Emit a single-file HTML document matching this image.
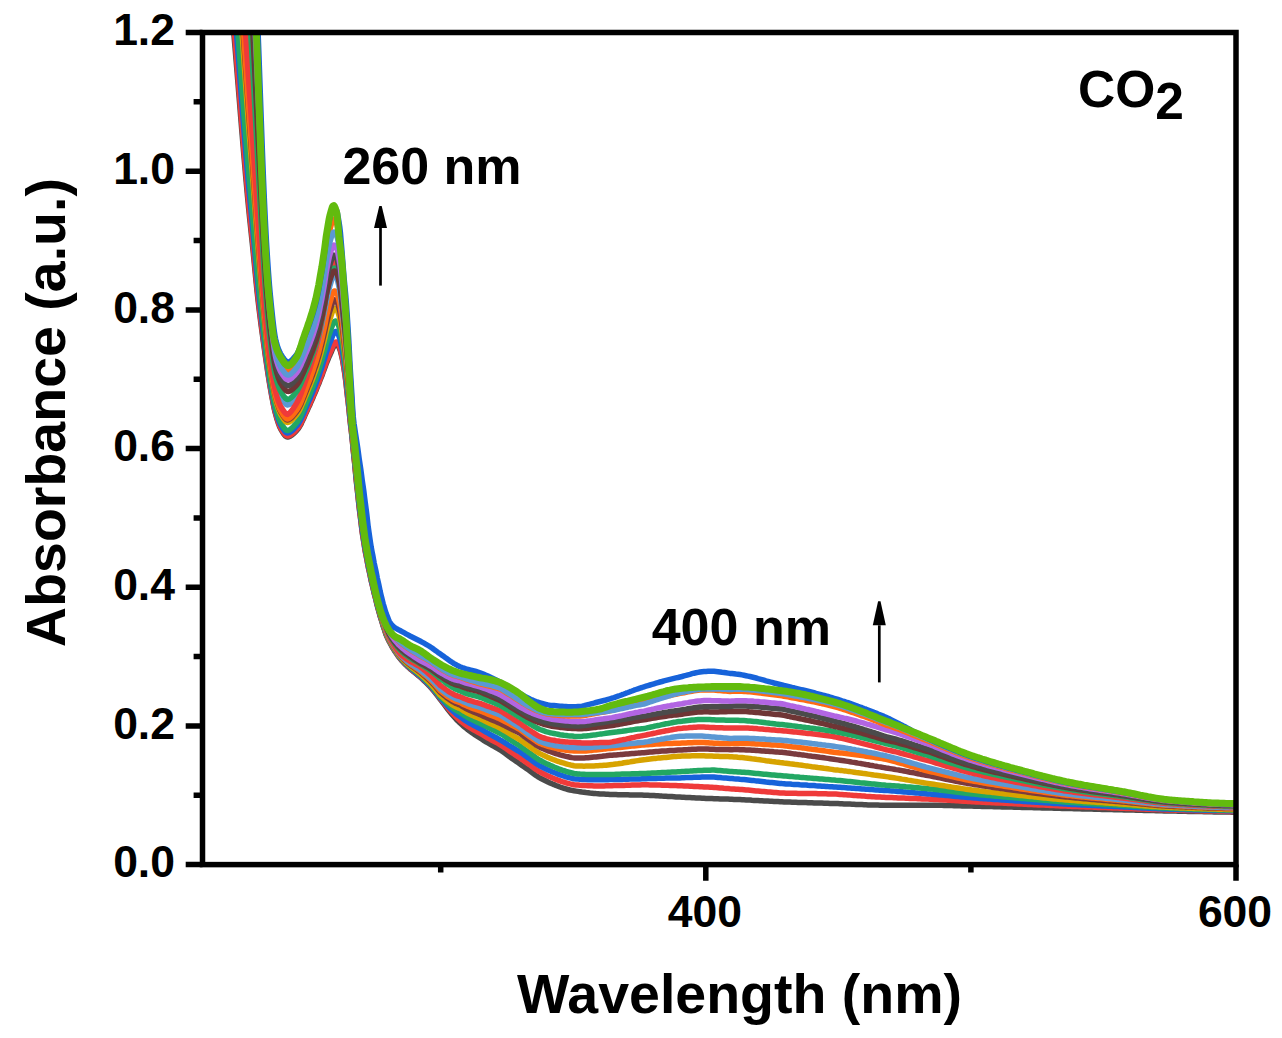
<!DOCTYPE html><html><head><meta charset="utf-8"><style>html,body{margin:0;padding:0;background:#fff;}svg{display:block;}</style></head><body><svg width="1282" height="1038" viewBox="0 0 1282 1038">
<rect width="1282" height="1038" fill="#fff"/>
<defs><clipPath id="pc"><rect x="202.5" y="32.5" width="1033.5" height="832.1"/></clipPath></defs>
<g clip-path="url(#pc)" fill="none" stroke-linejoin="round" stroke-linecap="round">
<path d="M229.5,-17.9 L230.0,-12.0 L230.5,-6.0 L231.0,-0.1 L231.5,5.8 L232.0,11.7 L232.5,17.7 L233.0,23.6 L233.5,29.5 L234.0,35.4 L234.5,41.4 L235.0,47.3 L235.5,53.4 L236.0,59.4 L236.5,65.5 L237.0,71.6 L237.5,77.7 L238.0,83.9 L238.5,90.1 L239.0,96.2 L239.5,102.4 L240.0,108.6 L240.5,114.7 L241.0,120.8 L241.5,127.0 L242.0,133.0 L242.5,139.1 L243.0,145.1 L243.5,151.1 L244.0,157.0 L244.5,162.8 L245.0,168.6 L245.5,174.4 L246.0,180.0 L246.5,185.6 L247.0,191.1 L247.5,196.5 L248.0,201.8 L248.5,207.0 L249.0,212.1 L249.5,217.0 L250.0,221.8 L250.5,226.5 L251.0,231.2 L251.5,235.9 L252.0,240.7 L252.5,245.5 L253.0,250.3 L253.5,255.4 L254.0,260.5 L254.5,265.7 L255.0,270.8 L255.5,276.0 L256.0,281.1 L256.5,286.1 L257.0,290.9 L257.5,295.5 L258.0,299.9 L258.5,304.2 L259.0,308.3 L259.5,312.5 L260.0,316.5 L260.5,320.4 L261.0,324.3 L261.5,328.1 L262.0,331.8 L262.5,335.5 L263.0,339.2 L263.5,342.8 L264.0,346.4 L264.5,349.9 L265.0,353.5 L265.5,357.0 L266.0,360.4 L266.5,363.9 L267.0,367.2 L267.5,370.6 L268.0,373.8 L268.5,377.0 L269.0,380.1 L269.5,383.2 L270.0,386.2 L270.5,389.0 L271.0,391.9 L271.5,394.7 L272.0,397.4 L272.5,400.1 L273.0,402.8 L273.5,405.3 L274.0,407.7 L274.5,409.9 L275.0,412.0 L275.5,413.8 L276.0,415.6 L276.5,417.4 L277.0,419.1 L277.5,420.7 L278.0,422.3 L278.5,423.8 L279.0,425.1 L279.5,426.4 L280.0,427.6 L280.5,428.6 L281.0,429.5 L281.5,430.3 L282.0,431.2 L282.5,432.0 L283.0,432.8 L283.5,433.6 L284.0,434.3 L284.5,434.9 L285.0,435.5 L285.5,436.0 L286.0,436.4 L286.5,436.7 L287.0,436.9 L287.5,437.0 L288.0,437.0 L288.5,436.9 L289.0,436.7 L289.5,436.5 L290.0,436.3 L290.5,436.0 L291.0,435.7 L291.5,435.3 L292.0,435.0 L292.5,434.5 L293.0,434.1 L293.5,433.7 L294.0,433.2 L294.5,432.7 L295.0,432.2 L295.5,431.7 L296.0,431.2 L296.5,430.7 L297.0,430.1 L297.5,429.6 L298.0,429.0 L298.5,428.3 L299.0,427.5 L299.5,426.7 L300.0,425.8 L300.8,424.5 L301.5,423.0 L302.2,421.4 L303.0,419.8 L303.8,418.2 L304.5,416.5 L305.2,414.8 L306.0,413.1 L306.8,411.4 L307.5,409.8 L308.2,408.2 L309.0,406.5 L309.8,404.9 L310.5,403.2 L311.2,401.5 L312.0,399.8 L312.8,398.1 L313.5,396.3 L314.2,394.5 L315.0,392.8 L315.8,391.0 L316.5,389.2 L317.2,387.3 L318.0,385.5 L318.8,383.7 L319.5,381.8 L320.2,379.9 L321.0,378.0 L321.8,376.0 L322.5,374.0 L323.2,371.9 L324.0,369.9 L324.8,367.8 L325.5,365.8 L326.2,363.8 L327.0,361.9 L327.8,360.0 L328.5,358.2 L329.2,356.5 L330.0,354.9 L330.8,353.2 L331.5,351.5 L332.2,349.7 L333.0,348.0 L333.8,346.5 L334.5,345.2 L335.2,344.3 L336.0,343.8 L336.8,343.8 L337.5,344.5 L338.2,345.8 L339.0,347.5 L339.8,349.4 L340.5,351.5 L341.2,354.3 L342.0,357.7 L342.8,361.5 L343.5,365.7 L344.2,370.2 L345.0,375.4 L345.8,381.4 L346.5,387.8 L347.2,394.3 L348.0,401.0 L348.8,408.0 L349.5,415.1 L350.2,421.9 L351.0,428.6 L351.8,435.3 L352.5,442.4 L353.2,449.7 L354.0,457.2 L354.8,464.8 L355.5,472.5 L356.2,480.0 L357.0,487.4 L357.8,494.5 L358.5,501.2 L359.2,507.8 L360.0,514.3 L360.8,520.6 L361.5,526.6 L362.2,532.3 L363.0,537.5 L363.8,542.3 L364.5,546.9 L365.2,551.2 L366.0,555.3 L366.8,559.3 L367.5,563.1 L368.2,566.8 L369.0,570.4 L369.8,574.0 L370.5,577.4 L371.2,580.9 L372.0,584.2 L372.8,587.4 L373.5,590.5 L374.2,593.6 L375.0,596.6 L375.8,599.6 L376.5,602.6 L377.2,605.5 L378.0,608.4 L378.8,611.2 L379.5,613.9 L380.2,616.5 L381.0,619.0 L381.8,621.4 L382.5,623.8 L383.2,626.1 L384.0,628.4 L384.8,630.7 L385.5,633.0 L386.2,635.0 L387.0,636.9 L387.8,638.6 L388.5,640.1 L389.2,641.5 L390.0,642.9 L390.8,644.3 L391.5,645.7 L392.2,647.0 L393.0,648.3 L393.8,649.6 L394.5,650.7 L395.2,651.9 L396.0,653.0 L396.8,654.1 L397.5,655.2 L398.2,656.2 L399.0,657.2 L399.8,658.2 L400.0,658.5 L402.0,660.9 L404.0,663.0 L406.0,665.1 L408.0,667.0 L410.0,668.8 L412.0,670.4 L414.0,672.0 L416.0,673.7 L418.0,675.3 L420.0,677.0 L422.0,678.8 L424.0,680.7 L426.0,682.6 L428.0,684.6 L430.0,686.7 L432.0,688.9 L434.0,691.3 L436.0,693.8 L438.0,696.4 L440.0,699.0 L442.0,701.5 L444.0,704.2 L446.0,706.9 L448.0,709.6 L450.0,712.1 L452.0,714.5 L454.0,716.8 L456.0,719.0 L458.0,721.1 L460.0,723.0 L462.0,724.8 L464.0,726.6 L466.0,728.2 L468.0,729.8 L470.0,731.3 L472.0,732.7 L474.0,734.1 L476.0,735.4 L478.0,736.7 L480.0,738.0 L482.0,739.3 L484.0,740.6 L486.0,741.8 L488.0,743.0 L490.0,744.2 L492.0,745.3 L494.0,746.4 L496.0,747.5 L498.0,748.6 L500.0,749.8 L502.0,751.1 L504.0,752.6 L506.0,754.0 L508.0,755.5 L510.0,757.0 L512.0,758.4 L514.0,759.8 L516.0,761.2 L518.0,762.6 L520.0,764.0 L522.0,765.4 L524.0,766.8 L526.0,768.2 L528.0,769.6 L530.0,771.0 L532.0,772.5 L534.0,774.0 L536.0,775.5 L538.0,776.8 L540.0,778.0 L542.0,779.0 L544.0,780.0 L546.0,781.0 L548.0,782.0 L550.0,782.9 L552.0,783.8 L554.0,784.6 L556.0,785.5 L558.0,786.2 L560.0,787.0 L562.0,787.7 L564.0,788.3 L566.0,788.9 L568.0,789.5 L570.0,790.0 L572.0,790.4 L574.0,790.8 L576.0,791.1 L578.0,791.4 L580.0,791.7 L582.0,792.0 L584.0,792.2 L586.0,792.5 L588.0,792.7 L590.0,793.0 L592.0,793.2 L594.0,793.4 L596.0,793.6 L598.0,793.7 L600.0,793.9 L602.0,794.0 L604.0,794.1 L606.0,794.2 L608.0,794.3 L610.0,794.4 L612.0,794.5 L614.0,794.6 L616.0,794.6 L618.0,794.7 L620.0,794.7 L622.0,794.7 L624.0,794.8 L626.0,794.8 L628.0,794.8 L630.0,794.9 L632.0,794.9 L634.0,795.0 L636.0,795.0 L638.0,795.0 L640.0,795.1 L642.0,795.1 L644.0,795.2 L646.0,795.3 L648.0,795.3 L650.0,795.4 L652.0,795.5 L654.0,795.6 L656.0,795.7 L658.0,795.8 L660.0,795.9 L662.0,796.1 L664.0,796.2 L666.0,796.3 L668.0,796.4 L670.0,796.5 L672.0,796.6 L674.0,796.7 L676.0,796.9 L678.0,797.0 L680.0,797.1 L682.0,797.2 L684.0,797.3 L686.0,797.4 L688.0,797.5 L690.0,797.6 L692.0,797.7 L694.0,797.8 L696.0,797.9 L698.0,798.0 L700.0,798.1 L702.0,798.2 L704.0,798.3 L706.0,798.4 L708.0,798.5 L710.0,798.6 L712.0,798.6 L714.0,798.7 L716.0,798.8 L718.0,798.8 L720.0,798.9 L722.0,799.0 L724.0,799.0 L726.0,799.1 L728.0,799.1 L730.0,799.2 L732.0,799.3 L734.0,799.4 L736.0,799.4 L738.0,799.5 L740.0,799.6 L742.0,799.7 L744.0,799.8 L746.0,799.9 L748.0,800.0 L750.0,800.1 L752.0,800.3 L754.0,800.4 L756.0,800.5 L758.0,800.6 L760.0,800.7 L762.0,800.8 L764.0,800.9 L766.0,801.0 L768.0,801.1 L770.0,801.2 L772.0,801.3 L774.0,801.4 L776.0,801.5 L778.0,801.6 L780.0,801.7 L782.0,801.8 L784.0,801.9 L786.0,802.0 L788.0,802.0 L790.0,802.1 L792.0,802.2 L794.0,802.2 L796.0,802.3 L798.0,802.4 L800.0,802.4 L802.0,802.5 L804.0,802.6 L806.0,802.6 L808.0,802.7 L810.0,802.8 L812.0,802.8 L814.0,802.9 L816.0,802.9 L818.0,803.0 L820.0,803.1 L822.0,803.1 L824.0,803.2 L826.0,803.2 L828.0,803.3 L830.0,803.4 L832.0,803.4 L834.0,803.5 L836.0,803.6 L838.0,803.6 L840.0,803.7 L842.0,803.8 L844.0,803.9 L846.0,804.0 L848.0,804.0 L850.0,804.1 L852.0,804.2 L854.0,804.3 L856.0,804.4 L858.0,804.5 L860.0,804.6 L862.0,804.6 L864.0,804.7 L866.0,804.8 L868.0,804.9 L870.0,804.9 L872.0,805.0 L874.0,805.0 L876.0,805.1 L878.0,805.1 L880.0,805.2 L882.0,805.2 L884.0,805.2 L886.0,805.2 L888.0,805.2 L890.0,805.2 L892.0,805.2 L894.0,805.2 L896.0,805.2 L898.0,805.2 L900.0,805.2 L902.0,805.2 L904.0,805.2 L906.0,805.2 L908.0,805.2 L910.0,805.2 L912.0,805.2 L914.0,805.2 L916.0,805.2 L918.0,805.2 L920.0,805.2 L922.0,805.2 L924.0,805.2 L926.0,805.2 L928.0,805.2 L930.0,805.2 L932.0,805.2 L934.0,805.2 L936.0,805.2 L938.0,805.3 L940.0,805.3 L942.0,805.3 L944.0,805.4 L946.0,805.4 L948.0,805.5 L950.0,805.5 L952.0,805.6 L954.0,805.7 L956.0,805.7 L958.0,805.8 L960.0,805.8 L962.0,805.9 L964.0,805.9 L966.0,806.0 L968.0,806.1 L970.0,806.1 L972.0,806.1 L974.0,806.2 L976.0,806.2 L978.0,806.3 L980.0,806.3 L982.0,806.4 L984.0,806.4 L986.0,806.5 L988.0,806.5 L990.0,806.6 L992.0,806.6 L994.0,806.7 L996.0,806.7 L998.0,806.8 L1000.0,806.8 L1002.0,806.9 L1004.0,806.9 L1006.0,807.0 L1008.0,807.0 L1010.0,807.1 L1012.0,807.1 L1014.0,807.2 L1016.0,807.2 L1018.0,807.3 L1020.0,807.3 L1022.0,807.4 L1024.0,807.4 L1026.0,807.5 L1028.0,807.5 L1030.0,807.6 L1032.0,807.6 L1034.0,807.7 L1036.0,807.7 L1038.0,807.8 L1040.0,807.8 L1042.0,807.9 L1044.0,807.9 L1046.0,808.0 L1048.0,808.0 L1050.0,808.1 L1052.0,808.1 L1054.0,808.2 L1056.0,808.2 L1058.0,808.3 L1060.0,808.3 L1062.0,808.4 L1064.0,808.4 L1066.0,808.5 L1068.0,808.5 L1070.0,808.6 L1072.0,808.6 L1074.0,808.7 L1076.0,808.7 L1078.0,808.8 L1080.0,808.8 L1082.0,808.9 L1084.0,808.9 L1086.0,809.0 L1088.0,809.0 L1090.0,809.1 L1092.0,809.1 L1094.0,809.2 L1096.0,809.2 L1098.0,809.3 L1100.0,809.3 L1102.0,809.4 L1104.0,809.4 L1106.0,809.5 L1108.0,809.5 L1110.0,809.6 L1112.0,809.6 L1114.0,809.7 L1116.0,809.7 L1118.0,809.8 L1120.0,809.8 L1122.0,809.8 L1124.0,809.9 L1126.0,809.9 L1128.0,810.0 L1130.0,810.0 L1132.0,810.1 L1134.0,810.1 L1136.0,810.2 L1138.0,810.2 L1140.0,810.3 L1142.0,810.3 L1144.0,810.4 L1146.0,810.4 L1148.0,810.5 L1150.0,810.5 L1152.0,810.6 L1154.0,810.6 L1156.0,810.7 L1158.0,810.7 L1160.0,810.8 L1162.0,810.8 L1164.0,810.9 L1166.0,810.9 L1168.0,811.0 L1170.0,811.0 L1172.0,811.0 L1174.0,811.1 L1176.0,811.1 L1178.0,811.2 L1180.0,811.2 L1182.0,811.2 L1184.0,811.3 L1186.0,811.3 L1188.0,811.4 L1190.0,811.4 L1192.0,811.4 L1194.0,811.5 L1196.0,811.5 L1198.0,811.6 L1200.0,811.6 L1202.0,811.6 L1204.0,811.7 L1206.0,811.7 L1208.0,811.8 L1210.0,811.8 L1212.0,811.8 L1214.0,811.9 L1216.0,811.9 L1218.0,811.9 L1220.0,812.0 L1222.0,812.0 L1224.0,812.0 L1226.0,812.1 L1228.0,812.1 L1230.0,812.1 L1232.0,812.2 L1234.0,812.2 L1236.0,812.2 L1238.0,812.3 L1240.0,812.3" stroke="#4b4b4b" stroke-width="5.5"/>
<path d="M230.5,-15.1 L231.0,-9.1 L231.5,-3.1 L232.0,2.9 L232.5,8.9 L233.0,15.0 L233.5,21.0 L234.0,27.0 L234.5,33.0 L235.0,39.1 L235.5,45.2 L236.0,51.3 L236.5,57.5 L237.0,63.7 L237.5,69.9 L238.0,76.2 L238.5,82.4 L239.0,88.7 L239.5,95.0 L240.0,101.2 L240.5,107.5 L241.0,113.7 L241.5,119.9 L242.0,126.1 L242.5,132.2 L243.0,138.3 L243.5,144.4 L244.0,150.4 L244.5,156.3 L245.0,162.2 L245.5,168.1 L246.0,173.8 L246.5,179.5 L247.0,185.1 L247.5,190.6 L248.0,196.0 L248.5,201.3 L249.0,206.5 L249.5,211.5 L250.0,216.4 L250.5,221.3 L251.0,226.1 L251.5,230.9 L252.0,235.7 L252.5,240.6 L253.0,245.6 L253.5,250.8 L254.0,256.0 L254.5,261.3 L255.0,266.6 L255.5,271.8 L256.0,277.0 L256.5,282.1 L257.0,287.0 L257.5,291.7 L258.0,296.3 L258.5,300.7 L259.0,305.0 L259.5,309.2 L260.0,313.4 L260.5,317.5 L261.0,321.5 L261.5,325.4 L262.0,329.3 L262.5,333.1 L263.0,336.9 L263.5,340.6 L264.0,344.3 L264.5,348.0 L265.0,351.6 L265.5,355.2 L266.0,358.7 L266.5,362.2 L267.0,365.7 L267.5,369.1 L268.0,372.4 L268.5,375.6 L269.0,378.8 L269.5,381.9 L270.0,384.9 L270.5,387.8 L271.0,390.7 L271.5,393.5 L272.0,396.3 L272.5,399.0 L273.0,401.7 L273.5,404.2 L274.0,406.6 L274.5,408.9 L275.0,410.9 L275.5,412.8 L276.0,414.6 L276.5,416.4 L277.0,418.1 L277.5,419.7 L278.0,421.3 L278.5,422.8 L279.0,424.1 L279.5,425.4 L280.0,426.6 L280.5,427.6 L281.0,428.5 L281.5,429.3 L282.0,430.2 L282.5,431.0 L283.0,431.8 L283.5,432.5 L284.0,433.3 L284.5,433.9 L285.0,434.5 L285.5,435.0 L286.0,435.4 L286.5,435.7 L287.0,435.9 L287.5,436.0 L288.0,436.0 L288.5,435.9 L289.0,435.7 L289.5,435.5 L290.0,435.3 L290.5,435.0 L291.0,434.7 L291.5,434.3 L292.0,433.9 L292.5,433.5 L293.0,433.1 L293.5,432.6 L294.0,432.2 L294.5,431.7 L295.0,431.2 L295.5,430.7 L296.0,430.1 L296.5,429.6 L297.0,429.1 L297.5,428.5 L298.0,427.9 L298.5,427.2 L299.0,426.5 L299.5,425.6 L300.0,424.8 L300.8,423.4 L301.5,421.9 L302.2,420.4 L303.0,418.7 L303.8,417.1 L304.5,415.4 L305.2,413.7 L306.0,412.0 L306.8,410.3 L307.5,408.6 L308.2,407.0 L309.0,405.4 L309.8,403.8 L310.5,402.1 L311.2,400.4 L312.0,398.7 L312.8,396.9 L313.5,395.1 L314.2,393.4 L315.0,391.6 L315.8,389.7 L316.5,387.9 L317.2,386.1 L318.0,384.2 L318.8,382.4 L319.5,380.5 L320.2,378.6 L321.0,376.6 L321.8,374.5 L322.5,372.5 L323.2,370.4 L324.0,368.3 L324.8,366.2 L325.5,364.1 L326.2,362.1 L327.0,360.1 L327.8,358.1 L328.5,356.3 L329.2,354.5 L330.0,352.9 L330.8,351.2 L331.5,349.5 L332.2,347.7 L333.0,346.0 L333.8,344.5 L334.5,343.2 L335.2,342.3 L336.0,341.9 L336.8,341.9 L337.5,342.6 L338.2,343.9 L339.0,345.7 L339.8,347.6 L340.5,349.8 L341.2,352.6 L342.0,356.1 L342.8,360.1 L343.5,364.3 L344.2,368.8 L345.0,374.1 L345.8,380.2 L346.5,386.6 L347.2,393.1 L348.0,399.9 L348.8,407.0 L349.5,414.1 L350.2,421.1 L351.0,427.8 L351.8,434.7 L352.5,441.8 L353.2,449.2 L354.0,456.7 L354.8,464.3 L355.5,471.9 L356.2,479.4 L357.0,486.7 L357.8,493.8 L358.5,500.5 L359.2,507.0 L360.0,513.5 L360.8,519.7 L361.5,525.8 L362.2,531.4 L363.0,536.7 L363.8,541.5 L364.5,546.1 L365.2,550.4 L366.0,554.6 L366.8,558.6 L367.5,562.4 L368.2,566.2 L369.0,569.8 L369.8,573.4 L370.5,576.9 L371.2,580.3 L372.0,583.7 L372.8,586.9 L373.5,590.0 L374.2,593.1 L375.0,596.1 L375.8,599.1 L376.5,602.1 L377.2,605.0 L378.0,607.9 L378.8,610.7 L379.5,613.4 L380.2,616.0 L381.0,618.6 L381.8,621.0 L382.5,623.4 L383.2,625.8 L384.0,628.1 L384.8,630.4 L385.5,632.6 L386.2,634.7 L387.0,636.6 L387.8,638.2 L388.5,639.8 L389.2,641.2 L390.0,642.6 L390.8,644.0 L391.5,645.3 L392.2,646.7 L393.0,647.9 L393.8,649.2 L394.5,650.3 L395.2,651.5 L396.0,652.6 L396.8,653.7 L397.5,654.7 L398.2,655.8 L399.0,656.7 L399.8,657.7 L400.0,658.0 L402.0,660.3 L404.0,662.5 L406.0,664.6 L408.0,666.5 L410.0,668.2 L412.0,669.9 L414.0,671.5 L416.0,673.1 L418.0,674.8 L420.0,676.5 L422.0,678.3 L424.0,680.1 L426.0,682.0 L428.0,683.9 L430.0,686.0 L432.0,688.1 L434.0,690.5 L436.0,692.9 L438.0,695.4 L440.0,698.0 L442.0,700.4 L444.0,702.9 L446.0,705.5 L448.0,708.0 L450.0,710.4 L452.0,712.6 L454.0,714.8 L456.0,716.8 L458.0,718.7 L460.0,720.5 L462.0,722.1 L464.0,723.7 L466.0,725.1 L468.0,726.4 L470.0,727.7 L472.0,728.9 L474.0,730.1 L476.0,731.2 L478.0,732.3 L480.0,733.3 L482.0,734.5 L484.0,735.7 L486.0,736.9 L488.0,738.1 L490.0,739.2 L492.0,740.3 L494.0,741.3 L496.0,742.4 L498.0,743.4 L500.0,744.6 L502.0,745.9 L504.0,747.2 L506.0,748.6 L508.0,750.0 L510.0,751.4 L512.0,752.7 L514.0,754.0 L516.0,755.4 L518.0,756.7 L520.0,758.0 L522.0,759.4 L524.0,760.8 L526.0,762.3 L528.0,763.7 L530.0,765.1 L532.0,766.5 L534.0,768.0 L536.0,769.5 L538.0,770.8 L540.0,772.0 L542.0,773.0 L544.0,774.0 L546.0,775.0 L548.0,775.9 L550.0,776.8 L552.0,777.7 L554.0,778.6 L556.0,779.4 L558.0,780.1 L560.0,780.9 L562.0,781.6 L564.0,782.2 L566.0,782.8 L568.0,783.4 L570.0,783.9 L572.0,784.3 L574.0,784.7 L576.0,784.9 L578.0,785.1 L580.0,785.3 L582.0,785.4 L584.0,785.5 L586.0,785.6 L588.0,785.7 L590.0,785.8 L592.0,785.8 L594.0,785.9 L596.0,785.9 L598.0,785.9 L600.0,785.9 L602.0,785.9 L604.0,785.9 L606.0,785.8 L608.0,785.8 L610.0,785.7 L612.0,785.7 L614.0,785.6 L616.0,785.6 L618.0,785.6 L620.0,785.5 L622.0,785.4 L624.0,785.4 L626.0,785.3 L628.0,785.3 L630.0,785.2 L632.0,785.1 L634.0,785.1 L636.0,785.0 L638.0,784.9 L640.0,784.9 L642.0,784.8 L644.0,784.8 L646.0,784.8 L648.0,784.8 L650.0,784.9 L652.0,784.9 L654.0,784.9 L656.0,785.0 L658.0,785.0 L660.0,785.1 L662.0,785.2 L664.0,785.2 L666.0,785.3 L668.0,785.3 L670.0,785.4 L672.0,785.5 L674.0,785.5 L676.0,785.6 L678.0,785.7 L680.0,785.8 L682.0,785.8 L684.0,785.9 L686.0,786.0 L688.0,786.1 L690.0,786.2 L692.0,786.3 L694.0,786.4 L696.0,786.5 L698.0,786.5 L700.0,786.7 L702.0,786.8 L704.0,786.9 L706.0,787.0 L708.0,787.1 L710.0,787.2 L712.0,787.3 L714.0,787.4 L716.0,787.6 L718.0,787.8 L720.0,788.0 L722.0,788.1 L724.0,788.3 L726.0,788.4 L728.0,788.6 L730.0,788.8 L732.0,788.9 L734.0,789.0 L736.0,789.2 L738.0,789.3 L740.0,789.5 L742.0,789.6 L744.0,789.8 L746.0,790.0 L748.0,790.1 L750.0,790.3 L752.0,790.5 L754.0,790.7 L756.0,790.9 L758.0,791.0 L760.0,791.2 L762.0,791.4 L764.0,791.6 L766.0,791.8 L768.0,792.0 L770.0,792.1 L772.0,792.3 L774.0,792.5 L776.0,792.6 L778.0,792.8 L780.0,793.0 L782.0,793.1 L784.0,793.1 L786.0,793.2 L788.0,793.2 L790.0,793.2 L792.0,793.3 L794.0,793.3 L796.0,793.3 L798.0,793.4 L800.0,793.4 L802.0,793.4 L804.0,793.5 L806.0,793.5 L808.0,793.5 L810.0,793.5 L812.0,793.6 L814.0,793.6 L816.0,793.6 L818.0,793.7 L820.0,793.7 L822.0,793.7 L824.0,793.8 L826.0,793.8 L828.0,793.9 L830.0,793.9 L832.0,793.9 L834.0,794.0 L836.0,794.1 L838.0,794.2 L840.0,794.4 L842.0,794.5 L844.0,794.7 L846.0,794.8 L848.0,794.9 L850.0,795.1 L852.0,795.2 L854.0,795.4 L856.0,795.5 L858.0,795.7 L860.0,795.8 L862.0,796.0 L864.0,796.1 L866.0,796.3 L868.0,796.4 L870.0,796.5 L872.0,796.7 L874.0,796.8 L876.0,796.9 L878.0,797.0 L880.0,797.1 L882.0,797.2 L884.0,797.3 L886.0,797.4 L888.0,797.5 L890.0,797.5 L892.0,797.6 L894.0,797.7 L896.0,797.8 L898.0,797.9 L900.0,797.9 L902.0,798.0 L904.0,798.1 L906.0,798.2 L908.0,798.3 L910.0,798.4 L912.0,798.5 L914.0,798.6 L916.0,798.6 L918.0,798.7 L920.0,798.8 L922.0,798.9 L924.0,799.0 L926.0,799.1 L928.0,799.1 L930.0,799.2 L932.0,799.3 L934.0,799.4 L936.0,799.5 L938.0,799.6 L940.0,799.7 L942.0,799.8 L944.0,800.0 L946.0,800.1 L948.0,800.2 L950.0,800.3 L952.0,800.5 L954.0,800.6 L956.0,800.7 L958.0,800.8 L960.0,801.0 L962.0,801.1 L964.0,801.2 L966.0,801.3 L968.0,801.4 L970.0,801.5 L972.0,801.7 L974.0,801.8 L976.0,801.9 L978.0,802.0 L980.0,802.1 L982.0,802.2 L984.0,802.3 L986.0,802.4 L988.0,802.5 L990.0,802.6 L992.0,802.7 L994.0,802.8 L996.0,802.9 L998.0,802.9 L1000.0,803.0 L1002.0,803.1 L1004.0,803.2 L1006.0,803.3 L1008.0,803.4 L1010.0,803.5 L1012.0,803.6 L1014.0,803.7 L1016.0,803.8 L1018.0,803.9 L1020.0,804.0 L1022.0,804.1 L1024.0,804.2 L1026.0,804.3 L1028.0,804.4 L1030.0,804.5 L1032.0,804.6 L1034.0,804.7 L1036.0,804.8 L1038.0,804.9 L1040.0,804.9 L1042.0,805.0 L1044.0,805.1 L1046.0,805.2 L1048.0,805.3 L1050.0,805.4 L1052.0,805.5 L1054.0,805.6 L1056.0,805.7 L1058.0,805.8 L1060.0,805.9 L1062.0,806.0 L1064.0,806.0 L1066.0,806.1 L1068.0,806.2 L1070.0,806.3 L1072.0,806.4 L1074.0,806.5 L1076.0,806.5 L1078.0,806.6 L1080.0,806.7 L1082.0,806.8 L1084.0,806.8 L1086.0,806.9 L1088.0,807.0 L1090.0,807.1 L1092.0,807.1 L1094.0,807.2 L1096.0,807.3 L1098.0,807.4 L1100.0,807.4 L1102.0,807.5 L1104.0,807.6 L1106.0,807.6 L1108.0,807.7 L1110.0,807.8 L1112.0,807.9 L1114.0,807.9 L1116.0,808.0 L1118.0,808.1 L1120.0,808.2 L1122.0,808.2 L1124.0,808.3 L1126.0,808.4 L1128.0,808.5 L1130.0,808.5 L1132.0,808.6 L1134.0,808.7 L1136.0,808.8 L1138.0,808.9 L1140.0,808.9 L1142.0,809.0 L1144.0,809.1 L1146.0,809.2 L1148.0,809.3 L1150.0,809.3 L1152.0,809.4 L1154.0,809.5 L1156.0,809.6 L1158.0,809.6 L1160.0,809.7 L1162.0,809.8 L1164.0,809.8 L1166.0,809.9 L1168.0,810.0 L1170.0,810.0 L1172.0,810.1 L1174.0,810.1 L1176.0,810.2 L1178.0,810.2 L1180.0,810.3 L1182.0,810.3 L1184.0,810.4 L1186.0,810.4 L1188.0,810.5 L1190.0,810.5 L1192.0,810.6 L1194.0,810.6 L1196.0,810.7 L1198.0,810.7 L1200.0,810.8 L1202.0,810.8 L1204.0,810.9 L1206.0,810.9 L1208.0,811.0 L1210.0,811.0 L1212.0,811.1 L1214.0,811.1 L1216.0,811.1 L1218.0,811.2 L1220.0,811.2 L1222.0,811.3 L1224.0,811.3 L1226.0,811.3 L1228.0,811.4 L1230.0,811.4 L1232.0,811.4 L1234.0,811.5 L1236.0,811.5 L1238.0,811.5 L1240.0,811.6" stroke="#ef3a3a" stroke-width="5.5"/>
<path d="M232.5,-17.2 L233.0,-10.9 L233.5,-4.6 L234.0,1.7 L234.5,8.0 L235.0,14.3 L235.5,20.7 L236.0,27.1 L236.5,33.6 L237.0,40.1 L237.5,46.6 L238.0,53.1 L238.5,59.6 L239.0,66.1 L239.5,72.7 L240.0,79.2 L240.5,85.7 L241.0,92.2 L241.5,98.7 L242.0,105.1 L242.5,111.6 L243.0,117.9 L243.5,124.3 L244.0,130.6 L244.5,136.8 L245.0,143.0 L245.5,149.1 L246.0,155.2 L246.5,161.2 L247.0,167.1 L247.5,172.9 L248.0,178.6 L248.5,184.2 L249.0,189.7 L249.5,195.0 L250.0,200.3 L250.5,205.5 L251.0,210.6 L251.5,215.8 L252.0,221.0 L252.5,226.2 L253.0,231.5 L253.5,237.0 L254.0,242.5 L254.5,248.1 L255.0,253.8 L255.5,259.3 L256.0,264.9 L256.5,270.3 L257.0,275.5 L257.5,280.6 L258.0,285.4 L258.5,290.2 L259.0,294.9 L259.5,299.6 L260.0,304.1 L260.5,308.6 L261.0,313.0 L261.5,317.4 L262.0,321.6 L262.5,325.8 L263.0,330.0 L263.5,334.1 L264.0,338.1 L264.5,342.1 L265.0,346.0 L265.5,349.8 L266.0,353.6 L266.5,357.4 L267.0,361.0 L267.5,364.6 L268.0,368.0 L268.5,371.4 L269.0,374.8 L269.5,378.0 L270.0,381.1 L270.5,384.1 L271.0,387.1 L271.5,390.0 L272.0,392.9 L272.5,395.7 L273.0,398.4 L273.5,401.0 L274.0,403.5 L274.5,405.8 L275.0,407.9 L275.5,409.8 L276.0,411.7 L276.5,413.4 L277.0,415.1 L277.5,416.8 L278.0,418.3 L278.5,419.8 L279.0,421.2 L279.5,422.4 L280.0,423.6 L280.5,424.6 L281.0,425.5 L281.5,426.3 L282.0,427.2 L282.5,428.0 L283.0,428.8 L283.5,429.5 L284.0,430.2 L284.5,430.9 L285.0,431.5 L285.5,432.0 L286.0,432.4 L286.5,432.7 L287.0,432.9 L287.5,433.0 L288.0,432.9 L288.5,432.8 L289.0,432.6 L289.5,432.4 L290.0,432.1 L290.5,431.8 L291.0,431.5 L291.5,431.1 L292.0,430.7 L292.5,430.2 L293.0,429.7 L293.5,429.3 L294.0,428.7 L294.5,428.2 L295.0,427.7 L295.5,427.1 L296.0,426.6 L296.5,426.0 L297.0,425.5 L297.5,424.9 L298.0,424.2 L298.5,423.4 L299.0,422.6 L299.5,421.8 L300.0,420.9 L300.8,419.4 L301.5,417.9 L302.2,416.2 L303.0,414.6 L303.8,412.8 L304.5,411.1 L305.2,409.3 L306.0,407.6 L306.8,405.8 L307.5,404.1 L308.2,402.4 L309.0,400.7 L309.8,399.0 L310.5,397.2 L311.2,395.4 L312.0,393.6 L312.8,391.8 L313.5,389.9 L314.2,388.0 L315.0,386.1 L315.8,384.2 L316.5,382.2 L317.2,380.3 L318.0,378.2 L318.8,376.2 L319.5,374.1 L320.2,371.9 L321.0,369.7 L321.8,367.4 L322.5,365.1 L323.2,362.7 L324.0,360.3 L324.8,357.9 L325.5,355.5 L326.2,353.1 L327.0,350.7 L327.8,348.5 L328.5,346.4 L329.2,344.4 L330.0,342.5 L330.8,340.6 L331.5,338.7 L332.2,336.8 L333.0,335.0 L333.8,333.4 L334.5,332.4 L335.2,331.7 L336.0,331.5 L336.8,331.7 L337.5,332.6 L338.2,334.3 L339.0,336.3 L339.8,338.6 L340.5,341.2 L341.2,344.5 L342.0,348.5 L342.8,353.0 L343.5,357.6 L344.2,362.5 L345.0,368.1 L345.8,374.3 L346.5,381.0 L347.2,387.8 L348.0,395.0 L348.8,402.6 L349.5,410.2 L350.2,417.6 L351.0,424.8 L351.8,432.1 L352.5,439.5 L353.2,447.1 L354.0,454.6 L354.8,462.1 L355.5,469.6 L356.2,476.9 L357.0,484.2 L357.8,491.2 L358.5,497.8 L359.2,504.3 L360.0,510.7 L360.8,517.0 L361.5,523.0 L362.2,528.7 L363.0,534.0 L363.8,538.9 L364.5,543.5 L365.2,548.0 L366.0,552.3 L366.8,556.4 L367.5,560.4 L368.2,564.3 L369.0,568.1 L369.8,571.7 L370.5,575.3 L371.2,578.8 L372.0,582.3 L372.8,585.5 L373.5,588.7 L374.2,591.8 L375.0,594.9 L375.8,597.9 L376.5,601.0 L377.2,604.0 L378.0,606.9 L378.8,609.7 L379.5,612.5 L380.2,615.1 L381.0,617.7 L381.8,620.2 L382.5,622.6 L383.2,625.0 L384.0,627.3 L384.8,629.7 L385.5,631.9 L386.2,634.0 L387.0,635.9 L387.8,637.6 L388.5,639.2 L389.2,640.6 L390.0,642.0 L390.8,643.4 L391.5,644.8 L392.2,646.1 L393.0,647.4 L393.8,648.6 L394.5,649.8 L395.2,651.0 L396.0,652.1 L396.8,653.2 L397.5,654.2 L398.2,655.2 L399.0,656.2 L399.8,657.2 L400.0,657.5 L402.0,659.8 L404.0,662.0 L406.0,664.0 L408.0,666.0 L410.0,667.7 L412.0,669.3 L414.0,671.0 L416.0,672.6 L418.0,674.3 L420.0,676.0 L422.0,677.8 L424.0,679.6 L426.0,681.5 L428.0,683.4 L430.0,685.5 L432.0,687.6 L434.0,690.0 L436.0,692.4 L438.0,694.9 L440.0,697.5 L442.0,699.6 L444.0,701.9 L446.0,704.1 L448.0,706.3 L450.0,708.4 L452.0,710.2 L454.0,712.0 L456.0,713.7 L458.0,715.2 L460.0,716.6 L462.0,718.1 L464.0,719.6 L466.0,720.9 L468.0,722.1 L470.0,723.3 L472.0,724.4 L474.0,725.5 L476.0,726.5 L478.0,727.5 L480.0,728.5 L482.0,729.7 L484.0,730.9 L486.0,732.1 L488.0,733.2 L490.0,734.3 L492.0,735.4 L494.0,736.5 L496.0,737.5 L498.0,738.6 L500.0,739.8 L502.0,740.9 L504.0,742.2 L506.0,743.4 L508.0,744.7 L510.0,746.0 L512.0,747.2 L514.0,748.4 L516.0,749.6 L518.0,750.8 L520.0,752.0 L522.0,753.4 L524.0,754.9 L526.0,756.3 L528.0,757.7 L530.0,759.1 L532.0,760.6 L534.0,762.1 L536.0,763.5 L538.0,764.8 L540.0,766.0 L542.0,767.0 L544.0,768.0 L546.0,769.0 L548.0,769.9 L550.0,770.8 L552.0,771.7 L554.0,772.5 L556.0,773.3 L558.0,774.1 L560.0,774.8 L562.0,775.5 L564.0,776.2 L566.0,776.8 L568.0,777.3 L570.0,777.8 L572.0,778.3 L574.0,778.7 L576.0,778.9 L578.0,779.1 L580.0,779.3 L582.0,779.4 L584.0,779.5 L586.0,779.6 L588.0,779.7 L590.0,779.7 L592.0,779.8 L594.0,779.8 L596.0,779.8 L598.0,779.8 L600.0,779.8 L602.0,779.8 L604.0,779.8 L606.0,779.7 L608.0,779.7 L610.0,779.6 L612.0,779.6 L614.0,779.6 L616.0,779.5 L618.0,779.5 L620.0,779.4 L622.0,779.4 L624.0,779.3 L626.0,779.2 L628.0,779.2 L630.0,779.1 L632.0,779.1 L634.0,779.0 L636.0,778.9 L638.0,778.9 L640.0,778.9 L642.0,778.8 L644.0,778.8 L646.0,778.7 L648.0,778.6 L650.0,778.6 L652.0,778.5 L654.0,778.4 L656.0,778.4 L658.0,778.3 L660.0,778.3 L662.0,778.2 L664.0,778.2 L666.0,778.1 L668.0,778.1 L670.0,778.1 L672.0,778.0 L674.0,778.0 L676.0,778.0 L678.0,777.9 L680.0,777.9 L682.0,777.8 L684.0,777.7 L686.0,777.6 L688.0,777.6 L690.0,777.5 L692.0,777.4 L694.0,777.3 L696.0,777.3 L698.0,777.2 L700.0,777.2 L702.0,777.1 L704.0,777.1 L706.0,777.1 L708.0,777.1 L710.0,777.0 L712.0,777.0 L714.0,777.0 L716.0,777.2 L718.0,777.4 L720.0,777.6 L722.0,777.8 L724.0,777.9 L726.0,778.1 L728.0,778.3 L730.0,778.5 L732.0,778.6 L734.0,778.8 L736.0,778.9 L738.0,779.1 L740.0,779.3 L742.0,779.4 L744.0,779.6 L746.0,779.8 L748.0,780.0 L750.0,780.2 L752.0,780.4 L754.0,780.6 L756.0,780.9 L758.0,781.1 L760.0,781.3 L762.0,781.5 L764.0,781.7 L766.0,782.0 L768.0,782.2 L770.0,782.4 L772.0,782.6 L774.0,782.8 L776.0,783.0 L778.0,783.2 L780.0,783.4 L782.0,783.6 L784.0,783.7 L786.0,783.9 L788.0,784.0 L790.0,784.1 L792.0,784.3 L794.0,784.4 L796.0,784.5 L798.0,784.6 L800.0,784.8 L802.0,784.9 L804.0,785.0 L806.0,785.1 L808.0,785.3 L810.0,785.4 L812.0,785.5 L814.0,785.6 L816.0,785.8 L818.0,785.9 L820.0,786.0 L822.0,786.2 L824.0,786.3 L826.0,786.4 L828.0,786.6 L830.0,786.7 L832.0,786.8 L834.0,787.0 L836.0,787.1 L838.0,787.2 L840.0,787.3 L842.0,787.5 L844.0,787.6 L846.0,787.7 L848.0,787.9 L850.0,788.0 L852.0,788.2 L854.0,788.3 L856.0,788.5 L858.0,788.6 L860.0,788.7 L862.0,788.9 L864.0,789.0 L866.0,789.2 L868.0,789.3 L870.0,789.5 L872.0,789.6 L874.0,789.8 L876.0,789.9 L878.0,790.0 L880.0,790.2 L882.0,790.3 L884.0,790.4 L886.0,790.5 L888.0,790.6 L890.0,790.8 L892.0,790.9 L894.0,791.1 L896.0,791.2 L898.0,791.4 L900.0,791.6 L902.0,791.7 L904.0,791.9 L906.0,792.1 L908.0,792.2 L910.0,792.4 L912.0,792.6 L914.0,792.7 L916.0,792.9 L918.0,793.1 L920.0,793.2 L922.0,793.4 L924.0,793.6 L926.0,793.7 L928.0,793.9 L930.0,794.0 L932.0,794.2 L934.0,794.4 L936.0,794.5 L938.0,794.7 L940.0,794.9 L942.0,795.1 L944.0,795.2 L946.0,795.4 L948.0,795.6 L950.0,795.8 L952.0,796.0 L954.0,796.2 L956.0,796.4 L958.0,796.6 L960.0,796.7 L962.0,796.9 L964.0,797.1 L966.0,797.3 L968.0,797.4 L970.0,797.6 L972.0,797.8 L974.0,797.9 L976.0,798.1 L978.0,798.2 L980.0,798.4 L982.0,798.5 L984.0,798.7 L986.0,798.8 L988.0,798.9 L990.0,799.1 L992.0,799.2 L994.0,799.4 L996.0,799.5 L998.0,799.6 L1000.0,799.8 L1002.0,799.9 L1004.0,800.1 L1006.0,800.2 L1008.0,800.3 L1010.0,800.5 L1012.0,800.6 L1014.0,800.7 L1016.0,800.9 L1018.0,801.0 L1020.0,801.1 L1022.0,801.3 L1024.0,801.4 L1026.0,801.5 L1028.0,801.7 L1030.0,801.8 L1032.0,801.9 L1034.0,802.1 L1036.0,802.2 L1038.0,802.3 L1040.0,802.5 L1042.0,802.6 L1044.0,802.7 L1046.0,802.8 L1048.0,803.0 L1050.0,803.1 L1052.0,803.2 L1054.0,803.4 L1056.0,803.5 L1058.0,803.6 L1060.0,803.7 L1062.0,803.8 L1064.0,804.0 L1066.0,804.1 L1068.0,804.2 L1070.0,804.3 L1072.0,804.4 L1074.0,804.5 L1076.0,804.6 L1078.0,804.7 L1080.0,804.8 L1082.0,804.9 L1084.0,805.0 L1086.0,805.1 L1088.0,805.2 L1090.0,805.3 L1092.0,805.4 L1094.0,805.5 L1096.0,805.6 L1098.0,805.7 L1100.0,805.8 L1102.0,805.9 L1104.0,806.0 L1106.0,806.1 L1108.0,806.2 L1110.0,806.3 L1112.0,806.3 L1114.0,806.4 L1116.0,806.5 L1118.0,806.6 L1120.0,806.7 L1122.0,806.8 L1124.0,806.9 L1126.0,807.0 L1128.0,807.1 L1130.0,807.2 L1132.0,807.3 L1134.0,807.5 L1136.0,807.6 L1138.0,807.7 L1140.0,807.8 L1142.0,807.9 L1144.0,808.0 L1146.0,808.1 L1148.0,808.2 L1150.0,808.3 L1152.0,808.4 L1154.0,808.5 L1156.0,808.6 L1158.0,808.7 L1160.0,808.8 L1162.0,808.9 L1164.0,808.9 L1166.0,809.0 L1168.0,809.1 L1170.0,809.2 L1172.0,809.2 L1174.0,809.3 L1176.0,809.3 L1178.0,809.4 L1180.0,809.5 L1182.0,809.5 L1184.0,809.6 L1186.0,809.7 L1188.0,809.7 L1190.0,809.8 L1192.0,809.8 L1194.0,809.9 L1196.0,810.0 L1198.0,810.0 L1200.0,810.1 L1202.0,810.1 L1204.0,810.2 L1206.0,810.2 L1208.0,810.3 L1210.0,810.3 L1212.0,810.4 L1214.0,810.4 L1216.0,810.5 L1218.0,810.5 L1220.0,810.6 L1222.0,810.6 L1224.0,810.6 L1226.0,810.7 L1228.0,810.7 L1230.0,810.8 L1232.0,810.8 L1234.0,810.8 L1236.0,810.9 L1238.0,810.9 L1240.0,810.9" stroke="#1763da" stroke-width="5.5"/>
<path d="M234.0,-18.6 L234.5,-12.1 L235.0,-5.5 L235.5,1.1 L236.0,7.8 L236.5,14.4 L237.0,21.1 L237.5,27.8 L238.0,34.6 L238.5,41.3 L239.0,48.1 L239.5,54.8 L240.0,61.6 L240.5,68.3 L241.0,75.0 L241.5,81.7 L242.0,88.4 L242.5,95.0 L243.0,101.6 L243.5,108.2 L244.0,114.7 L244.5,121.2 L245.0,127.6 L245.5,134.0 L246.0,140.3 L246.5,146.5 L247.0,152.6 L247.5,158.7 L248.0,164.7 L248.5,170.6 L249.0,176.3 L249.5,181.9 L250.0,187.4 L250.5,192.9 L251.0,198.3 L251.5,203.7 L252.0,209.2 L252.5,214.7 L253.0,220.3 L253.5,226.0 L254.0,231.8 L254.5,237.6 L255.0,243.5 L255.5,249.3 L256.0,255.1 L256.5,260.8 L257.0,266.3 L257.5,271.7 L258.0,276.8 L258.5,281.9 L259.0,286.9 L259.5,291.8 L260.0,296.7 L260.5,301.5 L261.0,306.2 L261.5,310.9 L262.0,315.5 L262.5,320.0 L263.0,324.5 L263.5,328.8 L264.0,333.1 L264.5,337.3 L265.0,341.5 L265.5,345.6 L266.0,349.6 L266.5,353.5 L267.0,357.3 L267.5,361.0 L268.0,364.6 L268.5,368.1 L269.0,371.5 L269.5,374.9 L270.0,378.1 L270.5,381.2 L271.0,384.2 L271.5,387.2 L272.0,390.1 L272.5,393.0 L273.0,395.8 L273.5,398.4 L274.0,401.0 L274.5,403.3 L275.0,405.5 L275.5,407.4 L276.0,409.3 L276.5,411.0 L277.0,412.7 L277.5,414.4 L278.0,415.9 L278.5,417.4 L279.0,418.8 L279.5,420.0 L280.0,421.2 L280.5,422.2 L281.0,423.1 L281.5,423.9 L282.0,424.8 L282.5,425.6 L283.0,426.4 L283.5,427.1 L284.0,427.8 L284.5,428.5 L285.0,429.1 L285.5,429.6 L286.0,430.0 L286.5,430.3 L287.0,430.5 L287.5,430.6 L288.0,430.5 L288.5,430.3 L289.0,430.1 L289.5,429.9 L290.0,429.5 L290.5,429.2 L291.0,428.8 L291.5,428.4 L292.0,427.9 L292.5,427.4 L293.0,426.9 L293.5,426.4 L294.0,425.8 L294.5,425.3 L295.0,424.7 L295.5,424.1 L296.0,423.5 L296.5,422.9 L297.0,422.3 L297.5,421.6 L298.0,420.9 L298.5,420.1 L299.0,419.3 L299.5,418.4 L300.0,417.4 L300.8,415.9 L301.5,414.3 L302.2,412.6 L303.0,410.8 L303.8,409.0 L304.5,407.2 L305.2,405.4 L306.0,403.5 L306.8,401.7 L307.5,399.9 L308.2,398.2 L309.0,396.4 L309.8,394.6 L310.5,392.7 L311.2,390.8 L312.0,388.9 L312.8,387.0 L313.5,385.0 L314.2,383.0 L315.0,381.0 L315.8,378.9 L316.5,376.8 L317.2,374.7 L318.0,372.5 L318.8,370.2 L319.5,367.9 L320.2,365.5 L321.0,363.0 L321.8,360.5 L322.5,357.9 L323.2,355.3 L324.0,352.5 L324.8,349.8 L325.5,347.0 L326.2,344.2 L327.0,341.5 L327.8,339.0 L328.5,336.6 L329.2,334.3 L330.0,332.2 L330.8,330.1 L331.5,328.0 L332.2,325.9 L333.0,324.0 L333.8,322.4 L334.5,321.5 L335.2,321.1 L336.0,321.1 L336.8,321.5 L337.5,322.7 L338.2,324.6 L339.0,327.0 L339.8,329.6 L340.5,332.5 L341.2,336.4 L342.0,340.9 L342.8,345.9 L343.5,351.0 L344.2,356.2 L345.0,362.0 L345.8,368.5 L346.5,375.5 L347.2,382.6 L348.0,390.1 L348.8,398.2 L349.5,406.3 L350.2,414.1 L351.0,421.8 L351.8,429.4 L352.5,437.3 L353.2,445.1 L354.0,452.6 L354.8,460.0 L355.5,467.3 L356.2,474.5 L357.0,481.6 L357.8,488.6 L358.5,495.1 L359.2,501.6 L360.0,508.0 L360.8,514.2 L361.5,520.2 L362.2,526.0 L363.0,531.3 L363.8,536.3 L364.5,541.0 L365.2,545.5 L366.0,549.9 L366.8,554.2 L367.5,558.4 L368.2,562.4 L369.0,566.3 L369.8,570.1 L370.5,573.7 L371.2,577.3 L372.0,580.8 L372.8,584.2 L373.5,587.4 L374.2,590.6 L375.0,593.7 L375.8,596.8 L376.5,599.8 L377.2,602.9 L378.0,605.8 L378.8,608.7 L379.5,611.5 L380.2,614.3 L381.0,616.9 L381.8,619.4 L382.5,621.9 L383.2,624.3 L384.0,626.6 L384.8,629.0 L385.5,631.2 L386.2,633.4 L387.0,635.3 L387.8,637.0 L388.5,638.6 L389.2,640.1 L390.0,641.5 L390.8,642.9 L391.5,644.3 L392.2,645.6 L393.0,646.9 L393.8,648.1 L394.5,649.3 L395.2,650.4 L396.0,651.5 L396.8,652.6 L397.5,653.7 L398.2,654.7 L399.0,655.7 L399.8,656.7 L400.0,657.0 L402.0,659.3 L404.0,661.4 L406.0,663.4 L408.0,665.3 L410.0,667.0 L412.0,668.5 L414.0,670.1 L416.0,671.7 L418.0,673.4 L420.0,675.0 L422.0,676.8 L424.0,678.6 L426.0,680.5 L428.0,682.4 L430.0,684.5 L432.0,686.7 L434.0,689.0 L436.0,691.4 L438.0,693.9 L440.0,696.5 L442.0,698.4 L444.0,700.3 L446.0,702.3 L448.0,704.2 L450.0,705.9 L452.0,707.4 L454.0,708.9 L456.0,710.2 L458.0,711.4 L460.0,712.4 L462.0,713.8 L464.0,715.1 L466.0,716.4 L468.0,717.5 L470.0,718.6 L472.0,719.6 L474.0,720.6 L476.0,721.5 L478.0,722.4 L480.0,723.3 L482.0,724.4 L484.0,725.4 L486.0,726.4 L488.0,727.4 L490.0,728.4 L492.0,729.4 L494.0,730.3 L496.0,731.3 L498.0,732.3 L500.0,733.3 L502.0,734.5 L504.0,735.7 L506.0,737.1 L508.0,738.4 L510.0,739.7 L512.0,740.9 L514.0,742.2 L516.0,743.5 L518.0,744.7 L520.0,746.0 L522.0,747.5 L524.0,749.0 L526.0,750.4 L528.0,751.9 L530.0,753.3 L532.0,754.8 L534.0,756.3 L536.0,757.8 L538.0,759.1 L540.0,760.3 L542.0,761.3 L544.0,762.4 L546.0,763.4 L548.0,764.3 L550.0,765.3 L552.0,766.1 L554.0,767.0 L556.0,767.8 L558.0,768.6 L560.0,769.3 L562.0,770.1 L564.0,770.7 L566.0,771.4 L568.0,772.0 L570.0,772.5 L572.0,773.0 L574.0,773.5 L576.0,773.7 L578.0,773.9 L580.0,774.1 L582.0,774.2 L584.0,774.3 L586.0,774.4 L588.0,774.5 L590.0,774.5 L592.0,774.6 L594.0,774.6 L596.0,774.6 L598.0,774.6 L600.0,774.6 L602.0,774.6 L604.0,774.6 L606.0,774.5 L608.0,774.5 L610.0,774.4 L612.0,774.4 L614.0,774.4 L616.0,774.3 L618.0,774.3 L620.0,774.2 L622.0,774.1 L624.0,774.1 L626.0,774.0 L628.0,774.0 L630.0,773.9 L632.0,773.8 L634.0,773.8 L636.0,773.7 L638.0,773.7 L640.0,773.6 L642.0,773.6 L644.0,773.6 L646.0,773.5 L648.0,773.3 L650.0,773.2 L652.0,773.1 L654.0,773.0 L656.0,772.9 L658.0,772.8 L660.0,772.7 L662.0,772.6 L664.0,772.5 L666.0,772.4 L668.0,772.3 L670.0,772.2 L672.0,772.1 L674.0,772.0 L676.0,771.9 L678.0,771.8 L680.0,771.7 L682.0,771.6 L684.0,771.5 L686.0,771.3 L688.0,771.2 L690.0,771.1 L692.0,770.9 L694.0,770.8 L696.0,770.7 L698.0,770.6 L700.0,770.5 L702.0,770.4 L704.0,770.3 L706.0,770.3 L708.0,770.2 L710.0,770.2 L712.0,770.1 L714.0,770.1 L716.0,770.3 L718.0,770.5 L720.0,770.6 L722.0,770.8 L724.0,771.0 L726.0,771.1 L728.0,771.3 L730.0,771.5 L732.0,771.6 L734.0,771.7 L736.0,771.8 L738.0,771.9 L740.0,772.0 L742.0,772.2 L744.0,772.3 L746.0,772.5 L748.0,772.6 L750.0,772.8 L752.0,773.0 L754.0,773.2 L756.0,773.4 L758.0,773.6 L760.0,773.8 L762.0,774.0 L764.0,774.2 L766.0,774.3 L768.0,774.5 L770.0,774.7 L772.0,774.9 L774.0,775.1 L776.0,775.3 L778.0,775.5 L780.0,775.6 L782.0,775.8 L784.0,776.0 L786.0,776.1 L788.0,776.3 L790.0,776.5 L792.0,776.6 L794.0,776.8 L796.0,776.9 L798.0,777.1 L800.0,777.3 L802.0,777.4 L804.0,777.6 L806.0,777.7 L808.0,777.9 L810.0,778.1 L812.0,778.2 L814.0,778.4 L816.0,778.5 L818.0,778.7 L820.0,778.9 L822.0,779.0 L824.0,779.2 L826.0,779.4 L828.0,779.5 L830.0,779.7 L832.0,779.9 L834.0,780.1 L836.0,780.3 L838.0,780.4 L840.0,780.6 L842.0,780.8 L844.0,781.0 L846.0,781.2 L848.0,781.4 L850.0,781.6 L852.0,781.8 L854.0,782.0 L856.0,782.2 L858.0,782.4 L860.0,782.7 L862.0,782.9 L864.0,783.1 L866.0,783.3 L868.0,783.5 L870.0,783.7 L872.0,783.9 L874.0,784.1 L876.0,784.3 L878.0,784.5 L880.0,784.7 L882.0,784.9 L884.0,785.1 L886.0,785.3 L888.0,785.4 L890.0,785.5 L892.0,785.7 L894.0,785.8 L896.0,785.9 L898.0,786.1 L900.0,786.3 L902.0,786.4 L904.0,786.6 L906.0,786.8 L908.0,786.9 L910.0,787.1 L912.0,787.3 L914.0,787.5 L916.0,787.6 L918.0,787.8 L920.0,788.0 L922.0,788.2 L924.0,788.3 L926.0,788.5 L928.0,788.7 L930.0,788.9 L932.0,789.1 L934.0,789.3 L936.0,789.6 L938.0,789.8 L940.0,790.0 L942.0,790.3 L944.0,790.5 L946.0,790.8 L948.0,791.0 L950.0,791.3 L952.0,791.5 L954.0,791.8 L956.0,792.0 L958.0,792.3 L960.0,792.5 L962.0,792.8 L964.0,793.0 L966.0,793.2 L968.0,793.4 L970.0,793.7 L972.0,793.9 L974.0,794.1 L976.0,794.3 L978.0,794.5 L980.0,794.7 L982.0,794.9 L984.0,795.0 L986.0,795.2 L988.0,795.4 L990.0,795.6 L992.0,795.8 L994.0,796.0 L996.0,796.2 L998.0,796.3 L1000.0,796.5 L1002.0,796.7 L1004.0,796.9 L1006.0,797.0 L1008.0,797.2 L1010.0,797.4 L1012.0,797.6 L1014.0,797.7 L1016.0,797.9 L1018.0,798.1 L1020.0,798.3 L1022.0,798.4 L1024.0,798.6 L1026.0,798.8 L1028.0,798.9 L1030.0,799.1 L1032.0,799.3 L1034.0,799.5 L1036.0,799.6 L1038.0,799.8 L1040.0,800.0 L1042.0,800.1 L1044.0,800.3 L1046.0,800.5 L1048.0,800.6 L1050.0,800.8 L1052.0,801.0 L1054.0,801.1 L1056.0,801.3 L1058.0,801.4 L1060.0,801.6 L1062.0,801.7 L1064.0,801.9 L1066.0,802.0 L1068.0,802.2 L1070.0,802.3 L1072.0,802.4 L1074.0,802.6 L1076.0,802.7 L1078.0,802.8 L1080.0,803.0 L1082.0,803.1 L1084.0,803.2 L1086.0,803.3 L1088.0,803.4 L1090.0,803.6 L1092.0,803.7 L1094.0,803.8 L1096.0,803.9 L1098.0,804.0 L1100.0,804.1 L1102.0,804.3 L1104.0,804.4 L1106.0,804.5 L1108.0,804.6 L1110.0,804.7 L1112.0,804.8 L1114.0,804.9 L1116.0,805.1 L1118.0,805.2 L1120.0,805.3 L1122.0,805.4 L1124.0,805.5 L1126.0,805.7 L1128.0,805.8 L1130.0,805.9 L1132.0,806.1 L1134.0,806.2 L1136.0,806.3 L1138.0,806.5 L1140.0,806.6 L1142.0,806.7 L1144.0,806.9 L1146.0,807.0 L1148.0,807.1 L1150.0,807.3 L1152.0,807.4 L1154.0,807.5 L1156.0,807.6 L1158.0,807.7 L1160.0,807.8 L1162.0,807.9 L1164.0,808.0 L1166.0,808.1 L1168.0,808.2 L1170.0,808.3 L1172.0,808.4 L1174.0,808.4 L1176.0,808.5 L1178.0,808.6 L1180.0,808.7 L1182.0,808.7 L1184.0,808.8 L1186.0,808.9 L1188.0,809.0 L1190.0,809.0 L1192.0,809.1 L1194.0,809.2 L1196.0,809.2 L1198.0,809.3 L1200.0,809.4 L1202.0,809.4 L1204.0,809.5 L1206.0,809.5 L1208.0,809.6 L1210.0,809.6 L1212.0,809.7 L1214.0,809.8 L1216.0,809.8 L1218.0,809.9 L1220.0,809.9 L1222.0,810.0 L1224.0,810.0 L1226.0,810.0 L1228.0,810.1 L1230.0,810.1 L1232.0,810.1 L1234.0,810.2 L1236.0,810.2 L1238.0,810.2 L1240.0,810.3" stroke="#22a763" stroke-width="5.5"/>
<path d="M239.0,-12.9 L239.5,-5.4 L240.0,2.1 L240.5,9.6 L241.0,17.0 L241.5,24.5 L242.0,31.9 L242.5,39.3 L243.0,46.7 L243.5,54.0 L244.0,61.3 L244.5,68.5 L245.0,75.7 L245.5,82.9 L246.0,90.0 L246.5,97.0 L247.0,104.0 L247.5,110.9 L248.0,117.7 L248.5,124.4 L249.0,131.0 L249.5,137.5 L250.0,143.9 L250.5,150.2 L251.0,156.6 L251.5,162.9 L252.0,169.3 L252.5,175.7 L253.0,182.2 L253.5,188.8 L254.0,195.4 L254.5,202.2 L255.0,208.9 L255.5,215.6 L256.0,222.3 L256.5,228.8 L257.0,235.3 L257.5,241.5 L258.0,247.6 L258.5,253.7 L259.0,259.7 L259.5,265.7 L260.0,271.6 L260.5,277.5 L261.0,283.4 L261.5,289.1 L262.0,294.8 L262.5,300.4 L263.0,305.8 L263.5,311.2 L264.0,316.3 L264.5,321.4 L265.0,326.3 L265.5,331.1 L266.0,335.8 L266.5,340.3 L267.0,344.6 L267.5,348.8 L268.0,352.9 L268.5,356.9 L269.0,360.7 L269.5,364.3 L270.0,367.8 L270.5,371.2 L271.0,374.4 L271.5,377.7 L272.0,380.8 L272.5,383.9 L273.0,386.9 L273.5,389.8 L274.0,392.5 L274.5,395.0 L275.0,397.2 L275.5,399.3 L276.0,401.2 L276.5,403.0 L277.0,404.7 L277.5,406.3 L278.0,407.9 L278.5,409.3 L279.0,410.7 L279.5,411.9 L280.0,413.1 L280.5,414.1 L281.0,415.0 L281.5,415.8 L282.0,416.6 L282.5,417.5 L283.0,418.2 L283.5,419.0 L284.0,419.7 L284.5,420.3 L285.0,420.9 L285.5,421.5 L286.0,421.9 L286.5,422.2 L287.0,422.4 L287.5,422.5 L288.0,422.4 L288.5,422.3 L289.0,422.1 L289.5,421.8 L290.0,421.5 L290.5,421.2 L291.0,420.8 L291.5,420.4 L292.0,419.9 L292.5,419.4 L293.0,418.9 L293.5,418.4 L294.0,417.8 L294.5,417.2 L295.0,416.6 L295.5,416.1 L296.0,415.5 L296.5,414.9 L297.0,414.2 L297.5,413.6 L298.0,412.8 L298.5,412.0 L299.0,411.1 L299.5,410.2 L300.0,409.2 L300.8,407.7 L301.5,406.0 L302.2,404.3 L303.0,402.6 L303.8,400.7 L304.5,398.9 L305.2,397.1 L306.0,395.3 L306.8,393.4 L307.5,391.6 L308.2,389.8 L309.0,388.0 L309.8,386.2 L310.5,384.3 L311.2,382.4 L312.0,380.4 L312.8,378.5 L313.5,376.4 L314.2,374.4 L315.0,372.2 L315.8,370.1 L316.5,367.9 L317.2,365.6 L318.0,363.3 L318.8,360.8 L319.5,358.3 L320.2,355.6 L321.0,352.9 L321.8,350.1 L322.5,347.2 L323.2,344.4 L324.0,341.4 L324.8,338.3 L325.5,335.1 L326.2,332.0 L327.0,329.0 L327.8,326.2 L328.5,323.6 L329.2,321.1 L330.0,318.8 L330.8,316.6 L331.5,314.4 L332.2,312.3 L333.0,310.4 L333.8,309.0 L334.5,308.3 L335.2,308.2 L336.0,308.5 L336.8,309.1 L337.5,310.6 L338.2,312.9 L339.0,315.6 L339.8,318.7 L340.5,322.1 L341.2,326.5 L342.0,331.7 L342.8,337.3 L343.5,342.9 L344.2,348.6 L345.0,354.7 L345.8,361.5 L346.5,368.7 L347.2,376.2 L348.0,384.3 L348.8,392.8 L349.5,401.5 L350.2,410.0 L351.0,418.1 L351.8,426.3 L352.5,434.6 L353.2,442.6 L354.0,450.1 L354.8,457.4 L355.5,464.5 L356.2,471.6 L357.0,478.6 L357.8,485.4 L358.5,492.0 L359.2,498.4 L360.0,504.7 L360.8,511.0 L361.5,517.0 L362.2,522.7 L363.0,528.1 L363.8,533.2 L364.5,538.0 L365.2,542.7 L366.0,547.2 L366.8,551.7 L367.5,556.0 L368.2,560.2 L369.0,564.2 L369.8,568.2 L370.5,571.9 L371.2,575.6 L372.0,579.2 L372.8,582.6 L373.5,585.9 L374.2,589.1 L375.0,592.3 L375.8,595.4 L376.5,598.5 L377.2,601.6 L378.0,604.7 L378.8,607.6 L379.5,610.5 L380.2,613.2 L381.0,615.9 L381.8,618.5 L382.5,621.0 L383.2,623.4 L384.0,625.8 L384.8,628.2 L385.5,630.5 L386.2,632.6 L387.0,634.6 L387.8,636.3 L388.5,637.9 L389.2,639.4 L390.0,640.9 L390.8,642.3 L391.5,643.7 L392.2,645.0 L393.0,646.3 L393.8,647.5 L394.5,648.7 L395.2,649.9 L396.0,651.0 L396.8,652.1 L397.5,653.2 L398.2,654.2 L399.0,655.2 L399.8,656.2 L400.0,656.5 L402.0,658.7 L404.0,660.8 L406.0,662.7 L408.0,664.6 L410.0,666.2 L412.0,667.8 L414.0,669.3 L416.0,670.8 L418.0,672.4 L420.0,674.0 L422.0,675.8 L424.0,677.5 L426.0,679.3 L428.0,681.2 L430.0,683.2 L432.0,685.4 L434.0,687.7 L436.0,690.0 L438.0,692.5 L440.0,695.0 L442.0,696.7 L444.0,698.4 L446.0,700.2 L448.0,701.8 L450.0,703.3 L452.0,704.6 L454.0,705.8 L456.0,706.9 L458.0,707.8 L460.0,708.5 L462.0,709.8 L464.0,711.1 L466.0,712.2 L468.0,713.2 L470.0,714.2 L472.0,715.2 L474.0,716.1 L476.0,716.9 L478.0,717.8 L480.0,718.6 L482.0,719.6 L484.0,720.5 L486.0,721.5 L488.0,722.5 L490.0,723.4 L492.0,724.3 L494.0,725.2 L496.0,726.1 L498.0,727.0 L500.0,728.0 L502.0,729.1 L504.0,730.3 L506.0,731.5 L508.0,732.7 L510.0,733.9 L512.0,735.1 L514.0,736.3 L516.0,737.5 L518.0,738.6 L520.0,739.8 L522.0,741.3 L524.0,742.7 L526.0,744.2 L528.0,745.6 L530.0,747.0 L532.0,748.4 L534.0,749.8 L536.0,751.2 L538.0,752.5 L540.0,753.6 L542.0,754.6 L544.0,755.6 L546.0,756.5 L548.0,757.4 L550.0,758.3 L552.0,759.1 L554.0,759.8 L556.0,760.6 L558.0,761.3 L560.0,762.0 L562.0,762.6 L564.0,763.2 L566.0,763.8 L568.0,764.4 L570.0,764.8 L572.0,765.3 L574.0,765.7 L576.0,765.9 L578.0,766.0 L580.0,766.1 L582.0,766.1 L584.0,766.2 L586.0,766.1 L588.0,766.1 L590.0,766.0 L592.0,766.0 L594.0,765.9 L596.0,765.8 L598.0,765.7 L600.0,765.6 L602.0,765.5 L604.0,765.3 L606.0,765.2 L608.0,765.0 L610.0,764.8 L612.0,764.6 L614.0,764.3 L616.0,764.0 L618.0,763.8 L620.0,763.5 L622.0,763.2 L624.0,762.8 L626.0,762.5 L628.0,762.2 L630.0,761.9 L632.0,761.5 L634.0,761.2 L636.0,760.9 L638.0,760.6 L640.0,760.3 L642.0,760.0 L644.0,759.7 L646.0,759.5 L648.0,759.2 L650.0,759.0 L652.0,758.8 L654.0,758.6 L656.0,758.4 L658.0,758.1 L660.0,757.9 L662.0,757.7 L664.0,757.5 L666.0,757.4 L668.0,757.2 L670.0,757.0 L672.0,756.8 L674.0,756.6 L676.0,756.4 L678.0,756.3 L680.0,756.2 L682.0,756.1 L684.0,756.0 L686.0,756.0 L688.0,755.9 L690.0,755.9 L692.0,755.8 L694.0,755.8 L696.0,755.7 L698.0,755.7 L700.0,755.7 L702.0,755.7 L704.0,755.8 L706.0,755.9 L708.0,755.9 L710.0,756.0 L712.0,756.1 L714.0,756.2 L716.0,756.3 L718.0,756.3 L720.0,756.4 L722.0,756.4 L724.0,756.5 L726.0,756.6 L728.0,756.6 L730.0,756.7 L732.0,756.8 L734.0,756.9 L736.0,757.1 L738.0,757.3 L740.0,757.4 L742.0,757.6 L744.0,757.8 L746.0,758.1 L748.0,758.3 L750.0,758.5 L752.0,758.8 L754.0,759.0 L756.0,759.3 L758.0,759.6 L760.0,759.8 L762.0,760.1 L764.0,760.4 L766.0,760.7 L768.0,760.9 L770.0,761.2 L772.0,761.5 L774.0,761.7 L776.0,762.0 L778.0,762.2 L780.0,762.5 L782.0,762.7 L784.0,763.0 L786.0,763.2 L788.0,763.5 L790.0,763.8 L792.0,764.0 L794.0,764.3 L796.0,764.6 L798.0,764.8 L800.0,765.1 L802.0,765.3 L804.0,765.6 L806.0,765.9 L808.0,766.1 L810.0,766.4 L812.0,766.7 L814.0,766.9 L816.0,767.2 L818.0,767.5 L820.0,767.7 L822.0,768.0 L824.0,768.3 L826.0,768.5 L828.0,768.8 L830.0,769.1 L832.0,769.4 L834.0,769.7 L836.0,769.9 L838.0,770.1 L840.0,770.4 L842.0,770.6 L844.0,770.9 L846.0,771.1 L848.0,771.4 L850.0,771.6 L852.0,771.9 L854.0,772.2 L856.0,772.5 L858.0,772.7 L860.0,773.0 L862.0,773.3 L864.0,773.6 L866.0,773.8 L868.0,774.1 L870.0,774.4 L872.0,774.7 L874.0,775.0 L876.0,775.2 L878.0,775.5 L880.0,775.8 L882.0,776.1 L884.0,776.3 L886.0,776.6 L888.0,776.9 L890.0,777.2 L892.0,777.5 L894.0,777.8 L896.0,778.1 L898.0,778.4 L900.0,778.7 L902.0,779.1 L904.0,779.4 L906.0,779.7 L908.0,780.1 L910.0,780.4 L912.0,780.8 L914.0,781.1 L916.0,781.4 L918.0,781.8 L920.0,782.1 L922.0,782.4 L924.0,782.8 L926.0,783.1 L928.0,783.4 L930.0,783.7 L932.0,784.0 L934.0,784.3 L936.0,784.6 L938.0,784.9 L940.0,785.2 L942.0,785.5 L944.0,785.8 L946.0,786.1 L948.0,786.5 L950.0,786.8 L952.0,787.1 L954.0,787.4 L956.0,787.7 L958.0,788.0 L960.0,788.3 L962.0,788.6 L964.0,788.9 L966.0,789.2 L968.0,789.5 L970.0,789.7 L972.0,790.0 L974.0,790.2 L976.0,790.5 L978.0,790.7 L980.0,791.0 L982.0,791.2 L984.0,791.4 L986.0,791.7 L988.0,791.9 L990.0,792.1 L992.0,792.4 L994.0,792.6 L996.0,792.8 L998.0,793.0 L1000.0,793.3 L1002.0,793.5 L1004.0,793.7 L1006.0,793.9 L1008.0,794.1 L1010.0,794.3 L1012.0,794.5 L1014.0,794.8 L1016.0,795.0 L1018.0,795.2 L1020.0,795.4 L1022.0,795.6 L1024.0,795.8 L1026.0,796.0 L1028.0,796.2 L1030.0,796.4 L1032.0,796.6 L1034.0,796.9 L1036.0,797.1 L1038.0,797.3 L1040.0,797.5 L1042.0,797.7 L1044.0,797.9 L1046.0,798.1 L1048.0,798.3 L1050.0,798.5 L1052.0,798.7 L1054.0,798.9 L1056.0,799.1 L1058.0,799.3 L1060.0,799.4 L1062.0,799.6 L1064.0,799.8 L1066.0,800.0 L1068.0,800.1 L1070.0,800.3 L1072.0,800.5 L1074.0,800.6 L1076.0,800.8 L1078.0,800.9 L1080.0,801.1 L1082.0,801.2 L1084.0,801.4 L1086.0,801.5 L1088.0,801.7 L1090.0,801.8 L1092.0,802.0 L1094.0,802.1 L1096.0,802.2 L1098.0,802.4 L1100.0,802.5 L1102.0,802.6 L1104.0,802.8 L1106.0,802.9 L1108.0,803.0 L1110.0,803.2 L1112.0,803.3 L1114.0,803.5 L1116.0,803.6 L1118.0,803.7 L1120.0,803.9 L1122.0,804.0 L1124.0,804.2 L1126.0,804.3 L1128.0,804.5 L1130.0,804.6 L1132.0,804.8 L1134.0,805.0 L1136.0,805.1 L1138.0,805.3 L1140.0,805.4 L1142.0,805.6 L1144.0,805.8 L1146.0,805.9 L1148.0,806.1 L1150.0,806.2 L1152.0,806.4 L1154.0,806.5 L1156.0,806.6 L1158.0,806.8 L1160.0,806.9 L1162.0,807.0 L1164.0,807.1 L1166.0,807.2 L1168.0,807.3 L1170.0,807.4 L1172.0,807.5 L1174.0,807.6 L1176.0,807.7 L1178.0,807.8 L1180.0,807.9 L1182.0,807.9 L1184.0,808.0 L1186.0,808.1 L1188.0,808.2 L1190.0,808.3 L1192.0,808.3 L1194.0,808.4 L1196.0,808.5 L1198.0,808.6 L1200.0,808.6 L1202.0,808.7 L1204.0,808.8 L1206.0,808.8 L1208.0,808.9 L1210.0,809.0 L1212.0,809.0 L1214.0,809.1 L1216.0,809.1 L1218.0,809.2 L1220.0,809.2 L1222.0,809.3 L1224.0,809.3 L1226.0,809.4 L1228.0,809.4 L1230.0,809.5 L1232.0,809.5 L1234.0,809.5 L1236.0,809.6 L1238.0,809.6 L1240.0,809.6" stroke="#d7a300" stroke-width="5.5"/>
<path d="M240.0,-16.2 L240.5,-8.5 L241.0,-0.9 L241.5,6.8 L242.0,14.5 L242.5,22.1 L243.0,29.7 L243.5,37.3 L244.0,44.8 L244.5,52.3 L245.0,59.7 L245.5,67.1 L246.0,74.4 L246.5,81.7 L247.0,88.9 L247.5,96.1 L248.0,103.2 L248.5,110.1 L249.0,117.0 L249.5,123.8 L250.0,130.5 L250.5,137.1 L251.0,143.7 L251.5,150.3 L252.0,157.0 L252.5,163.6 L253.0,170.4 L253.5,177.3 L254.0,184.2 L254.5,191.2 L255.0,198.2 L255.5,205.2 L256.0,212.1 L256.5,219.0 L257.0,225.7 L257.5,232.2 L258.0,238.6 L258.5,245.0 L259.0,251.3 L259.5,257.6 L260.0,263.9 L260.5,270.1 L261.0,276.3 L261.5,282.4 L262.0,288.4 L262.5,294.3 L263.0,300.1 L263.5,305.7 L264.0,311.2 L264.5,316.5 L265.0,321.6 L265.5,326.7 L266.0,331.6 L266.5,336.3 L267.0,340.7 L267.5,345.1 L268.0,349.3 L268.5,353.4 L269.0,357.3 L269.5,361.1 L270.0,364.7 L270.5,368.1 L271.0,371.4 L271.5,374.7 L272.0,378.0 L272.5,381.1 L273.0,384.2 L273.5,387.1 L274.0,389.8 L274.5,392.4 L275.0,394.7 L275.5,396.8 L276.0,398.7 L276.5,400.5 L277.0,402.2 L277.5,403.8 L278.0,405.4 L278.5,406.8 L279.0,408.2 L279.5,409.4 L280.0,410.6 L280.5,411.6 L281.0,412.5 L281.5,413.3 L282.0,414.1 L282.5,414.9 L283.0,415.7 L283.5,416.5 L284.0,417.2 L284.5,417.8 L285.0,418.4 L285.5,418.9 L286.0,419.4 L286.5,419.7 L287.0,419.9 L287.5,420.0 L288.0,419.9 L288.5,419.7 L289.0,419.5 L289.5,419.2 L290.0,418.9 L290.5,418.5 L291.0,418.1 L291.5,417.7 L292.0,417.2 L292.5,416.7 L293.0,416.1 L293.5,415.6 L294.0,415.0 L294.5,414.4 L295.0,413.8 L295.5,413.2 L296.0,412.5 L296.5,411.9 L297.0,411.2 L297.5,410.5 L298.0,409.8 L298.5,408.9 L299.0,408.0 L299.5,407.1 L300.0,406.0 L300.8,404.4 L301.5,402.8 L302.2,401.0 L303.0,399.2 L303.8,397.3 L304.5,395.5 L305.2,393.6 L306.0,391.7 L306.8,389.8 L307.5,388.0 L308.2,386.1 L309.0,384.3 L309.8,382.4 L310.5,380.4 L311.2,378.5 L312.0,376.4 L312.8,374.4 L313.5,372.3 L314.2,370.1 L315.0,367.9 L315.8,365.7 L316.5,363.4 L317.2,361.0 L318.0,358.5 L318.8,355.9 L319.5,353.2 L320.2,350.4 L321.0,347.4 L321.8,344.4 L322.5,341.4 L323.2,338.3 L324.0,335.1 L324.8,331.7 L325.5,328.3 L326.2,324.9 L327.0,321.7 L327.8,318.6 L328.5,315.8 L329.2,313.1 L330.0,310.6 L330.8,308.2 L331.5,306.0 L332.2,303.7 L333.0,301.8 L333.8,300.4 L334.5,299.8 L335.2,299.9 L336.0,300.3 L336.8,301.1 L337.5,302.7 L338.2,305.2 L339.0,308.1 L339.8,311.4 L340.5,315.1 L341.2,319.9 L342.0,325.4 L342.8,331.4 L343.5,337.4 L344.2,343.3 L345.0,349.7 L345.8,356.6 L346.5,364.0 L347.2,371.8 L348.0,380.1 L348.8,389.1 L349.5,398.1 L350.2,407.0 L351.0,415.5 L351.8,423.9 L352.5,432.6 L353.2,440.8 L354.0,448.3 L354.8,455.4 L355.5,462.4 L356.2,469.3 L357.0,476.3 L357.8,483.0 L358.5,489.5 L359.2,495.9 L360.0,502.2 L360.8,508.3 L361.5,514.3 L362.2,520.1 L363.0,525.5 L363.8,530.6 L364.5,535.5 L365.2,540.2 L366.0,544.9 L366.8,549.5 L367.5,553.9 L368.2,558.3 L369.0,562.4 L369.8,566.4 L370.5,570.3 L371.2,574.0 L372.0,577.6 L372.8,581.1 L373.5,584.4 L374.2,587.7 L375.0,590.9 L375.8,594.1 L376.5,597.3 L377.2,600.4 L378.0,603.4 L378.8,606.4 L379.5,609.3 L380.2,612.2 L381.0,614.9 L381.8,617.5 L382.5,620.0 L383.2,622.5 L384.0,624.9 L384.8,627.3 L385.5,629.6 L386.2,631.8 L387.0,633.7 L387.8,635.5 L388.5,637.1 L389.2,638.6 L390.0,640.1 L390.8,641.5 L391.5,642.9 L392.2,644.2 L393.0,645.4 L393.8,646.7 L394.5,647.8 L395.2,649.0 L396.0,650.1 L396.8,651.2 L397.5,652.2 L398.2,653.2 L399.0,654.2 L399.8,655.2 L400.0,655.5 L402.0,657.6 L404.0,659.6 L406.0,661.4 L408.0,663.2 L410.0,664.7 L412.0,666.2 L414.0,667.6 L416.0,669.1 L418.0,670.5 L420.0,672.0 L422.0,673.7 L424.0,675.4 L426.0,677.1 L428.0,678.9 L430.0,680.8 L432.0,682.8 L434.0,685.0 L436.0,687.3 L438.0,689.6 L440.0,692.0 L442.0,693.6 L444.0,695.3 L446.0,697.0 L448.0,698.6 L450.0,700.0 L452.0,701.3 L454.0,702.4 L456.0,703.5 L458.0,704.3 L460.0,705.0 L462.0,706.3 L464.0,707.4 L466.0,708.5 L468.0,709.5 L470.0,710.4 L472.0,711.3 L474.0,712.2 L476.0,713.0 L478.0,713.8 L480.0,714.6 L482.0,715.5 L484.0,716.4 L486.0,717.3 L488.0,718.1 L490.0,719.0 L492.0,719.9 L494.0,720.7 L496.0,721.5 L498.0,722.4 L500.0,723.3 L502.0,724.2 L504.0,725.2 L506.0,726.3 L508.0,727.3 L510.0,728.3 L512.0,729.3 L514.0,730.4 L516.0,731.4 L518.0,732.4 L520.0,733.4 L522.0,734.9 L524.0,736.4 L526.0,737.8 L528.0,739.3 L530.0,740.7 L532.0,742.1 L534.0,743.5 L536.0,744.9 L538.0,746.2 L540.0,747.3 L542.0,748.2 L544.0,749.1 L546.0,750.0 L548.0,750.8 L550.0,751.5 L552.0,752.2 L554.0,752.9 L556.0,753.6 L558.0,754.2 L560.0,754.8 L562.0,755.3 L564.0,755.9 L566.0,756.4 L568.0,756.8 L570.0,757.2 L572.0,757.6 L574.0,757.9 L576.0,758.1 L578.0,758.1 L580.0,758.1 L582.0,758.0 L584.0,758.0 L586.0,757.8 L588.0,757.7 L590.0,757.5 L592.0,757.3 L594.0,757.1 L596.0,756.9 L598.0,756.7 L600.0,756.5 L602.0,756.3 L604.0,756.0 L606.0,755.8 L608.0,755.5 L610.0,755.3 L612.0,755.2 L614.0,755.0 L616.0,754.9 L618.0,754.7 L620.0,754.6 L622.0,754.4 L624.0,754.2 L626.0,754.0 L628.0,753.9 L630.0,753.7 L632.0,753.5 L634.0,753.4 L636.0,753.2 L638.0,753.1 L640.0,752.9 L642.0,752.8 L644.0,752.7 L646.0,752.5 L648.0,752.3 L650.0,752.1 L652.0,752.0 L654.0,751.8 L656.0,751.6 L658.0,751.5 L660.0,751.3 L662.0,751.1 L664.0,751.0 L666.0,750.9 L668.0,750.7 L670.0,750.6 L672.0,750.5 L674.0,750.4 L676.0,750.2 L678.0,750.1 L680.0,750.0 L682.0,749.9 L684.0,749.8 L686.0,749.7 L688.0,749.6 L690.0,749.4 L692.0,749.3 L694.0,749.2 L696.0,749.2 L698.0,749.1 L700.0,749.0 L702.0,749.0 L704.0,749.0 L706.0,749.1 L708.0,749.1 L710.0,749.2 L712.0,749.3 L714.0,749.3 L716.0,749.4 L718.0,749.4 L720.0,749.4 L722.0,749.5 L724.0,749.5 L726.0,749.6 L728.0,749.6 L730.0,749.7 L732.0,749.7 L734.0,749.6 L736.0,749.6 L738.0,749.6 L740.0,749.7 L742.0,749.7 L744.0,749.8 L746.0,749.9 L748.0,750.0 L750.0,750.1 L752.0,750.2 L754.0,750.3 L756.0,750.4 L758.0,750.6 L760.0,750.7 L762.0,750.9 L764.0,751.0 L766.0,751.2 L768.0,751.3 L770.0,751.5 L772.0,751.6 L774.0,751.8 L776.0,751.9 L778.0,752.1 L780.0,752.2 L782.0,752.3 L784.0,752.6 L786.0,752.8 L788.0,753.1 L790.0,753.3 L792.0,753.6 L794.0,753.9 L796.0,754.1 L798.0,754.4 L800.0,754.6 L802.0,754.9 L804.0,755.1 L806.0,755.4 L808.0,755.7 L810.0,755.9 L812.0,756.2 L814.0,756.4 L816.0,756.7 L818.0,757.0 L820.0,757.3 L822.0,757.5 L824.0,757.8 L826.0,758.1 L828.0,758.4 L830.0,758.7 L832.0,759.0 L834.0,759.3 L836.0,759.6 L838.0,759.9 L840.0,760.2 L842.0,760.5 L844.0,760.8 L846.0,761.1 L848.0,761.4 L850.0,761.7 L852.0,762.1 L854.0,762.4 L856.0,762.7 L858.0,763.1 L860.0,763.4 L862.0,763.8 L864.0,764.1 L866.0,764.5 L868.0,764.8 L870.0,765.2 L872.0,765.5 L874.0,765.9 L876.0,766.2 L878.0,766.6 L880.0,766.9 L882.0,767.3 L884.0,767.6 L886.0,768.0 L888.0,768.3 L890.0,768.6 L892.0,768.9 L894.0,769.2 L896.0,769.6 L898.0,769.9 L900.0,770.3 L902.0,770.6 L904.0,771.0 L906.0,771.4 L908.0,771.8 L910.0,772.2 L912.0,772.5 L914.0,772.9 L916.0,773.3 L918.0,773.7 L920.0,774.1 L922.0,774.5 L924.0,774.8 L926.0,775.2 L928.0,775.5 L930.0,775.9 L932.0,776.3 L934.0,776.7 L936.0,777.1 L938.0,777.5 L940.0,777.9 L942.0,778.4 L944.0,778.8 L946.0,779.2 L948.0,779.6 L950.0,780.0 L952.0,780.4 L954.0,780.8 L956.0,781.2 L958.0,781.6 L960.0,782.0 L962.0,782.4 L964.0,782.7 L966.0,783.1 L968.0,783.5 L970.0,783.8 L972.0,784.1 L974.0,784.5 L976.0,784.8 L978.0,785.1 L980.0,785.4 L982.0,785.7 L984.0,786.0 L986.0,786.3 L988.0,786.6 L990.0,786.9 L992.0,787.2 L994.0,787.5 L996.0,787.8 L998.0,788.1 L1000.0,788.4 L1002.0,788.6 L1004.0,788.9 L1006.0,789.2 L1008.0,789.5 L1010.0,789.7 L1012.0,790.0 L1014.0,790.3 L1016.0,790.5 L1018.0,790.8 L1020.0,791.1 L1022.0,791.3 L1024.0,791.6 L1026.0,791.9 L1028.0,792.2 L1030.0,792.4 L1032.0,792.7 L1034.0,793.0 L1036.0,793.2 L1038.0,793.5 L1040.0,793.7 L1042.0,794.0 L1044.0,794.3 L1046.0,794.5 L1048.0,794.8 L1050.0,795.0 L1052.0,795.3 L1054.0,795.5 L1056.0,795.8 L1058.0,796.0 L1060.0,796.2 L1062.0,796.5 L1064.0,796.7 L1066.0,796.9 L1068.0,797.1 L1070.0,797.3 L1072.0,797.5 L1074.0,797.7 L1076.0,797.9 L1078.0,798.1 L1080.0,798.3 L1082.0,798.5 L1084.0,798.7 L1086.0,798.8 L1088.0,799.0 L1090.0,799.2 L1092.0,799.4 L1094.0,799.5 L1096.0,799.7 L1098.0,799.9 L1100.0,800.0 L1102.0,800.2 L1104.0,800.4 L1106.0,800.5 L1108.0,800.7 L1110.0,800.9 L1112.0,801.0 L1114.0,801.2 L1116.0,801.4 L1118.0,801.6 L1120.0,801.7 L1122.0,801.9 L1124.0,802.1 L1126.0,802.3 L1128.0,802.5 L1130.0,802.7 L1132.0,802.9 L1134.0,803.1 L1136.0,803.3 L1138.0,803.5 L1140.0,803.7 L1142.0,803.9 L1144.0,804.1 L1146.0,804.3 L1148.0,804.5 L1150.0,804.7 L1152.0,804.8 L1154.0,805.0 L1156.0,805.2 L1158.0,805.4 L1160.0,805.5 L1162.0,805.7 L1164.0,805.8 L1166.0,805.9 L1168.0,806.0 L1170.0,806.2 L1172.0,806.3 L1174.0,806.4 L1176.0,806.5 L1178.0,806.6 L1180.0,806.7 L1182.0,806.7 L1184.0,806.8 L1186.0,806.9 L1188.0,807.0 L1190.0,807.1 L1192.0,807.2 L1194.0,807.3 L1196.0,807.4 L1198.0,807.5 L1200.0,807.6 L1202.0,807.6 L1204.0,807.7 L1206.0,807.8 L1208.0,807.9 L1210.0,807.9 L1212.0,808.0 L1214.0,808.1 L1216.0,808.1 L1218.0,808.2 L1220.0,808.3 L1222.0,808.3 L1224.0,808.4 L1226.0,808.4 L1228.0,808.5 L1230.0,808.5 L1232.0,808.5 L1234.0,808.6 L1236.0,808.6 L1238.0,808.6 L1240.0,808.6" stroke="#7a3a3e" stroke-width="5.5"/>
<path d="M240.5,-15.8 L241.0,-8.0 L241.5,-0.3 L242.0,7.5 L242.5,15.2 L243.0,22.9 L243.5,30.6 L244.0,38.2 L244.5,45.8 L245.0,53.3 L245.5,60.8 L246.0,68.2 L246.5,75.6 L247.0,82.9 L247.5,90.2 L248.0,97.4 L248.5,104.4 L249.0,111.4 L249.5,118.3 L250.0,125.1 L250.5,131.8 L251.0,138.6 L251.5,145.3 L252.0,152.0 L252.5,158.8 L253.0,165.7 L253.5,172.7 L254.0,179.7 L254.5,186.8 L255.0,193.9 L255.5,201.0 L256.0,208.1 L256.5,215.0 L257.0,221.8 L257.5,228.5 L258.0,235.0 L258.5,241.5 L259.0,247.9 L259.5,254.4 L260.0,260.8 L260.5,267.2 L261.0,273.5 L261.5,279.7 L262.0,285.9 L262.5,291.9 L263.0,297.8 L263.5,303.5 L264.0,309.1 L264.5,314.5 L265.0,319.8 L265.5,324.9 L266.0,329.9 L266.5,334.6 L267.0,339.2 L267.5,343.6 L268.0,347.8 L268.5,352.0 L269.0,356.0 L269.5,359.8 L270.0,363.4 L270.5,366.9 L271.0,370.2 L271.5,373.6 L272.0,376.8 L272.5,380.0 L273.0,383.1 L273.5,386.0 L274.0,388.8 L274.5,391.4 L275.0,393.7 L275.5,395.8 L276.0,397.7 L276.5,399.5 L277.0,401.2 L277.5,402.9 L278.0,404.4 L278.5,405.8 L279.0,407.2 L279.5,408.4 L280.0,409.6 L280.5,410.6 L281.0,411.5 L281.5,412.3 L282.0,413.1 L282.5,413.9 L283.0,414.7 L283.5,415.5 L284.0,416.2 L284.5,416.8 L285.0,417.4 L285.5,417.9 L286.0,418.4 L286.5,418.7 L287.0,418.9 L287.5,419.0 L288.0,418.9 L288.5,418.7 L289.0,418.4 L289.5,418.1 L290.0,417.7 L290.5,417.3 L291.0,416.9 L291.5,416.4 L292.0,415.8 L292.5,415.3 L293.0,414.7 L293.5,414.1 L294.0,413.5 L294.5,412.8 L295.0,412.2 L295.5,411.5 L296.0,410.8 L296.5,410.2 L297.0,409.4 L297.5,408.7 L298.0,407.9 L298.5,407.0 L299.0,406.0 L299.5,405.0 L300.0,404.0 L300.8,402.3 L301.5,400.5 L302.2,398.7 L303.0,396.8 L303.8,394.9 L304.5,392.9 L305.2,391.0 L306.0,389.0 L306.8,387.1 L307.5,385.1 L308.2,383.2 L309.0,381.3 L309.8,379.3 L310.5,377.3 L311.2,375.2 L312.0,373.1 L312.8,370.9 L313.5,368.7 L314.2,366.5 L315.0,364.2 L315.8,361.8 L316.5,359.4 L317.2,356.9 L318.0,354.2 L318.8,351.4 L319.5,348.5 L320.2,345.5 L321.0,342.4 L321.8,339.1 L322.5,335.9 L323.2,332.6 L324.0,329.1 L324.8,325.4 L325.5,321.7 L326.2,318.0 L327.0,314.4 L327.8,311.1 L328.5,308.0 L329.2,305.1 L330.0,302.3 L330.8,299.8 L331.5,297.3 L332.2,294.9 L333.0,292.8 L333.8,291.4 L334.5,291.0 L335.2,291.2 L336.0,291.7 L336.8,292.7 L337.5,294.6 L338.2,297.2 L339.0,300.5 L339.8,304.0 L340.5,308.0 L341.2,313.2 L342.0,319.2 L342.8,325.6 L343.5,331.9 L344.2,338.1 L345.0,344.7 L345.8,351.8 L346.5,359.4 L347.2,367.4 L348.0,376.1 L348.8,385.4 L349.5,394.9 L350.2,404.1 L351.0,412.9 L351.8,421.8 L352.5,430.7 L353.2,439.1 L354.0,446.6 L354.8,453.7 L355.5,460.5 L356.2,467.3 L357.0,474.1 L357.8,480.8 L358.5,487.2 L359.2,493.6 L360.0,499.9 L360.8,506.0 L361.5,512.0 L362.2,517.8 L363.0,523.2 L363.8,528.4 L364.5,533.3 L365.2,538.2 L366.0,542.9 L366.8,547.6 L367.5,552.2 L368.2,556.6 L369.0,560.9 L369.8,565.0 L370.5,568.9 L371.2,572.7 L372.0,576.4 L372.8,579.9 L373.5,583.3 L374.2,586.6 L375.0,589.9 L375.8,593.1 L376.5,596.3 L377.2,599.4 L378.0,602.5 L378.8,605.6 L379.5,608.5 L380.2,611.4 L381.0,614.1 L381.8,616.8 L382.5,619.3 L383.2,621.8 L384.0,624.3 L384.8,626.7 L385.5,629.0 L386.2,631.2 L387.0,633.2 L387.8,634.9 L388.5,636.6 L389.2,638.1 L390.0,639.6 L390.8,641.0 L391.5,642.4 L392.2,643.7 L393.0,644.9 L393.8,646.1 L394.5,647.3 L395.2,648.4 L396.0,649.6 L396.8,650.6 L397.5,651.7 L398.2,652.7 L399.0,653.7 L399.8,654.7 L400.0,655.0 L402.0,657.1 L404.0,659.0 L406.0,660.8 L408.0,662.5 L410.0,664.0 L412.0,665.4 L414.0,666.8 L416.0,668.2 L418.0,669.6 L420.0,671.0 L422.0,672.6 L424.0,674.3 L426.0,676.0 L428.0,677.7 L430.0,679.6 L432.0,681.6 L434.0,683.7 L436.0,685.9 L438.0,688.2 L440.0,690.5 L442.0,692.0 L444.0,693.6 L446.0,695.2 L448.0,696.7 L450.0,698.0 L452.0,699.2 L454.0,700.2 L456.0,701.2 L458.0,701.9 L460.0,702.5 L462.0,703.7 L464.0,704.7 L466.0,705.6 L468.0,706.5 L470.0,707.3 L472.0,708.1 L474.0,708.8 L476.0,709.5 L478.0,710.1 L480.0,710.8 L482.0,711.6 L484.0,712.5 L486.0,713.3 L488.0,714.1 L490.0,714.9 L492.0,715.7 L494.0,716.5 L496.0,717.3 L498.0,718.1 L500.0,719.0 L502.0,720.0 L504.0,721.0 L506.0,722.1 L508.0,723.1 L510.0,724.2 L512.0,725.3 L514.0,726.3 L516.0,727.4 L518.0,728.5 L520.0,729.5 L522.0,731.0 L524.0,732.5 L526.0,734.0 L528.0,735.5 L530.0,736.9 L532.0,738.3 L534.0,739.7 L536.0,741.1 L538.0,742.4 L540.0,743.5 L542.0,744.3 L544.0,745.0 L546.0,745.7 L548.0,746.3 L550.0,746.9 L552.0,747.4 L554.0,747.9 L556.0,748.3 L558.0,748.8 L560.0,749.2 L562.0,749.5 L564.0,749.9 L566.0,750.2 L568.0,750.4 L570.0,750.7 L572.0,750.8 L574.0,751.0 L576.0,751.1 L578.0,751.1 L580.0,751.1 L582.0,751.1 L584.0,751.0 L586.0,750.9 L588.0,750.7 L590.0,750.5 L592.0,750.4 L594.0,750.1 L596.0,749.9 L598.0,749.7 L600.0,749.5 L602.0,749.3 L604.0,749.1 L606.0,748.9 L608.0,748.6 L610.0,748.4 L612.0,748.2 L614.0,748.0 L616.0,747.8 L618.0,747.6 L620.0,747.4 L622.0,747.2 L624.0,747.0 L626.0,746.8 L628.0,746.5 L630.0,746.3 L632.0,746.1 L634.0,745.9 L636.0,745.7 L638.0,745.5 L640.0,745.3 L642.0,745.1 L644.0,745.0 L646.0,744.8 L648.0,744.7 L650.0,744.5 L652.0,744.4 L654.0,744.3 L656.0,744.1 L658.0,744.0 L660.0,743.9 L662.0,743.8 L664.0,743.7 L666.0,743.6 L668.0,743.5 L670.0,743.5 L672.0,743.4 L674.0,743.3 L676.0,743.3 L678.0,743.2 L680.0,743.2 L682.0,743.1 L684.0,743.0 L686.0,742.9 L688.0,742.8 L690.0,742.7 L692.0,742.7 L694.0,742.6 L696.0,742.6 L698.0,742.5 L700.0,742.5 L702.0,742.6 L704.0,742.6 L706.0,742.7 L708.0,742.8 L710.0,743.0 L712.0,743.1 L714.0,743.2 L716.0,743.3 L718.0,743.3 L720.0,743.4 L722.0,743.4 L724.0,743.5 L726.0,743.6 L728.0,743.6 L730.0,743.7 L732.0,743.6 L734.0,743.5 L736.0,743.5 L738.0,743.4 L740.0,743.4 L742.0,743.4 L744.0,743.5 L746.0,743.5 L748.0,743.6 L750.0,743.6 L752.0,743.7 L754.0,743.8 L756.0,743.9 L758.0,744.0 L760.0,744.1 L762.0,744.2 L764.0,744.4 L766.0,744.5 L768.0,744.6 L770.0,744.7 L772.0,744.9 L774.0,745.0 L776.0,745.1 L778.0,745.2 L780.0,745.3 L782.0,745.4 L784.0,745.7 L786.0,745.9 L788.0,746.2 L790.0,746.4 L792.0,746.7 L794.0,746.9 L796.0,747.1 L798.0,747.4 L800.0,747.6 L802.0,747.9 L804.0,748.1 L806.0,748.4 L808.0,748.7 L810.0,748.9 L812.0,749.2 L814.0,749.4 L816.0,749.7 L818.0,750.0 L820.0,750.2 L822.0,750.5 L824.0,750.8 L826.0,751.1 L828.0,751.4 L830.0,751.7 L832.0,752.0 L834.0,752.3 L836.0,752.5 L838.0,752.7 L840.0,752.9 L842.0,753.1 L844.0,753.3 L846.0,753.5 L848.0,753.8 L850.0,754.0 L852.0,754.3 L854.0,754.5 L856.0,754.8 L858.0,755.1 L860.0,755.3 L862.0,755.6 L864.0,755.9 L866.0,756.2 L868.0,756.5 L870.0,756.8 L872.0,757.1 L874.0,757.4 L876.0,757.7 L878.0,758.0 L880.0,758.3 L882.0,758.6 L884.0,759.0 L886.0,759.3 L888.0,759.8 L890.0,760.3 L892.0,760.8 L894.0,761.4 L896.0,761.9 L898.0,762.5 L900.0,763.1 L902.0,763.7 L904.0,764.2 L906.0,764.8 L908.0,765.4 L910.0,766.0 L912.0,766.6 L914.0,767.2 L916.0,767.7 L918.0,768.3 L920.0,768.9 L922.0,769.4 L924.0,770.0 L926.0,770.5 L928.0,771.0 L930.0,771.5 L932.0,772.0 L934.0,772.4 L936.0,772.9 L938.0,773.4 L940.0,773.8 L942.0,774.3 L944.0,774.8 L946.0,775.3 L948.0,775.7 L950.0,776.2 L952.0,776.6 L954.0,777.1 L956.0,777.5 L958.0,778.0 L960.0,778.4 L962.0,778.9 L964.0,779.3 L966.0,779.7 L968.0,780.1 L970.0,780.5 L972.0,780.8 L974.0,781.2 L976.0,781.6 L978.0,781.9 L980.0,782.3 L982.0,782.6 L984.0,783.0 L986.0,783.3 L988.0,783.7 L990.0,784.0 L992.0,784.3 L994.0,784.6 L996.0,785.0 L998.0,785.3 L1000.0,785.6 L1002.0,785.9 L1004.0,786.2 L1006.0,786.5 L1008.0,786.8 L1010.0,787.1 L1012.0,787.4 L1014.0,787.7 L1016.0,788.0 L1018.0,788.4 L1020.0,788.7 L1022.0,789.0 L1024.0,789.3 L1026.0,789.6 L1028.0,789.9 L1030.0,790.2 L1032.0,790.5 L1034.0,790.8 L1036.0,791.1 L1038.0,791.3 L1040.0,791.6 L1042.0,791.9 L1044.0,792.2 L1046.0,792.5 L1048.0,792.8 L1050.0,793.1 L1052.0,793.3 L1054.0,793.6 L1056.0,793.9 L1058.0,794.1 L1060.0,794.4 L1062.0,794.7 L1064.0,794.9 L1066.0,795.2 L1068.0,795.4 L1070.0,795.6 L1072.0,795.9 L1074.0,796.1 L1076.0,796.3 L1078.0,796.5 L1080.0,796.7 L1082.0,796.9 L1084.0,797.1 L1086.0,797.3 L1088.0,797.5 L1090.0,797.7 L1092.0,797.9 L1094.0,798.1 L1096.0,798.3 L1098.0,798.5 L1100.0,798.6 L1102.0,798.8 L1104.0,799.0 L1106.0,799.2 L1108.0,799.4 L1110.0,799.6 L1112.0,799.8 L1114.0,799.9 L1116.0,800.1 L1118.0,800.3 L1120.0,800.5 L1122.0,800.7 L1124.0,800.9 L1126.0,801.1 L1128.0,801.4 L1130.0,801.6 L1132.0,801.8 L1134.0,802.0 L1136.0,802.2 L1138.0,802.5 L1140.0,802.7 L1142.0,802.9 L1144.0,803.1 L1146.0,803.4 L1148.0,803.6 L1150.0,803.8 L1152.0,804.0 L1154.0,804.2 L1156.0,804.4 L1158.0,804.5 L1160.0,804.7 L1162.0,804.9 L1164.0,805.0 L1166.0,805.2 L1168.0,805.3 L1170.0,805.4 L1172.0,805.5 L1174.0,805.6 L1176.0,805.8 L1178.0,805.9 L1180.0,806.0 L1182.0,806.1 L1184.0,806.2 L1186.0,806.3 L1188.0,806.4 L1190.0,806.5 L1192.0,806.6 L1194.0,806.7 L1196.0,806.8 L1198.0,806.9 L1200.0,807.0 L1202.0,807.0 L1204.0,807.1 L1206.0,807.2 L1208.0,807.3 L1210.0,807.4 L1212.0,807.4 L1214.0,807.5 L1216.0,807.6 L1218.0,807.7 L1220.0,807.7 L1222.0,807.8 L1224.0,807.8 L1226.0,807.9 L1228.0,807.9 L1230.0,808.0 L1232.0,808.0 L1234.0,808.0 L1236.0,808.1 L1238.0,808.1 L1240.0,808.1" stroke="#ff6a12" stroke-width="5.5"/>
<path d="M246.0,-18.7 L246.5,-9.9 L247.0,-1.2 L247.5,7.5 L248.0,16.1 L248.5,24.6 L249.0,33.1 L249.5,41.5 L250.0,49.9 L250.5,58.2 L251.0,66.5 L251.5,74.8 L252.0,83.1 L252.5,91.5 L253.0,99.9 L253.5,108.4 L254.0,116.9 L254.5,125.5 L255.0,134.1 L255.5,142.7 L256.0,151.3 L256.5,159.7 L257.0,168.1 L257.5,176.4 L258.0,184.6 L258.5,192.7 L259.0,201.0 L259.5,209.2 L260.0,217.5 L260.5,225.8 L261.0,234.0 L261.5,242.1 L262.0,250.1 L262.5,257.9 L263.0,265.6 L263.5,273.0 L264.0,280.1 L264.5,287.0 L265.0,293.6 L265.5,300.0 L266.0,306.1 L266.5,311.9 L267.0,317.3 L267.5,322.6 L268.0,327.7 L268.5,332.5 L269.0,337.2 L269.5,341.6 L270.0,345.7 L270.5,349.6 L271.0,353.4 L271.5,357.2 L272.0,360.8 L272.5,364.4 L273.0,367.8 L273.5,371.1 L274.0,374.1 L274.5,376.9 L275.0,379.5 L275.5,381.8 L276.0,383.8 L276.5,385.6 L277.0,387.3 L277.5,388.9 L278.0,390.5 L278.5,391.9 L279.0,393.2 L279.5,394.5 L280.0,395.6 L280.5,396.6 L281.0,397.5 L281.5,398.3 L282.0,399.1 L282.5,399.9 L283.0,400.7 L283.5,401.4 L284.0,402.1 L284.5,402.8 L285.0,403.4 L285.5,403.9 L286.0,404.3 L286.5,404.6 L287.0,404.9 L287.5,405.0 L288.0,404.9 L288.5,404.8 L289.0,404.6 L289.5,404.3 L290.0,404.0 L290.5,403.7 L291.0,403.3 L291.5,402.8 L292.0,402.3 L292.5,401.8 L293.0,401.3 L293.5,400.7 L294.0,400.1 L294.5,399.5 L295.0,398.9 L295.5,398.2 L296.0,397.6 L296.5,397.0 L297.0,396.3 L297.5,395.5 L298.0,394.7 L298.5,393.9 L299.0,392.9 L299.5,391.9 L300.0,390.9 L300.8,389.2 L301.5,387.5 L302.2,385.7 L303.0,383.9 L303.8,382.0 L304.5,380.1 L305.2,378.2 L306.0,376.3 L306.8,374.4 L307.5,372.5 L308.2,370.7 L309.0,368.7 L309.8,366.8 L310.5,364.8 L311.2,362.8 L312.0,360.7 L312.8,358.5 L313.5,356.3 L314.2,354.0 L315.0,351.7 L315.8,349.3 L316.5,346.8 L317.2,344.1 L318.0,341.3 L318.8,338.4 L319.5,335.2 L320.2,332.0 L321.0,328.6 L321.8,325.1 L322.5,321.6 L323.2,318.1 L324.0,314.3 L324.8,310.3 L325.5,306.2 L326.2,302.1 L327.0,298.3 L327.8,294.7 L328.5,291.5 L329.2,288.4 L330.0,285.6 L330.8,283.0 L331.5,280.7 L332.2,278.3 L333.0,276.4 L333.8,275.2 L334.5,275.2 L335.2,275.8 L336.0,276.7 L336.8,278.0 L337.5,280.2 L338.2,283.3 L339.0,287.0 L339.8,291.0 L340.5,295.6 L341.2,301.4 L342.0,308.2 L342.8,315.4 L343.5,322.4 L344.2,329.1 L345.0,336.1 L345.8,343.5 L346.5,351.4 L347.2,359.9 L348.0,369.2 L348.8,379.1 L349.5,389.3 L350.2,399.2 L351.0,408.6 L351.8,418.0 L352.5,427.5 L353.2,436.2 L354.0,443.7 L354.8,450.6 L355.5,457.2 L356.2,463.8 L357.0,470.6 L357.8,477.2 L358.5,483.5 L359.2,489.8 L360.0,496.0 L360.8,502.2 L361.5,508.2 L362.2,514.0 L363.0,519.5 L363.8,524.8 L364.5,529.8 L365.2,534.8 L366.0,539.8 L366.8,544.6 L367.5,549.4 L368.2,554.1 L369.0,558.5 L369.8,562.8 L370.5,566.8 L371.2,570.7 L372.0,574.5 L372.8,578.1 L373.5,581.6 L374.2,584.9 L375.0,588.3 L375.8,591.5 L376.5,594.8 L377.2,598.0 L378.0,601.2 L378.8,604.3 L379.5,607.3 L380.2,610.2 L381.0,613.0 L381.8,615.7 L382.5,618.3 L383.2,620.9 L384.0,623.4 L384.8,625.8 L385.5,628.2 L386.2,630.4 L387.0,632.4 L387.8,634.2 L388.5,635.9 L389.2,637.4 L390.0,638.9 L390.8,640.4 L391.5,641.7 L392.2,643.0 L393.0,644.3 L393.8,645.5 L394.5,646.7 L395.2,647.9 L396.0,649.0 L396.8,650.1 L397.5,651.1 L398.2,652.2 L399.0,653.2 L399.8,654.2 L400.0,654.5 L402.0,656.5 L404.0,658.4 L406.0,660.1 L408.0,661.8 L410.0,663.2 L412.0,664.6 L414.0,665.9 L416.0,667.3 L418.0,668.6 L420.0,670.0 L422.0,671.5 L424.0,673.1 L426.0,674.7 L428.0,676.4 L430.0,678.1 L432.0,680.0 L434.0,682.0 L436.0,684.1 L438.0,686.3 L440.0,688.5 L442.0,690.0 L444.0,691.5 L446.0,693.0 L448.0,694.5 L450.0,695.7 L452.0,696.9 L454.0,697.9 L456.0,698.8 L458.0,699.5 L460.0,700.0 L462.0,701.1 L464.0,702.0 L466.0,702.8 L468.0,703.6 L470.0,704.3 L472.0,704.9 L474.0,705.6 L476.0,706.1 L478.0,706.7 L480.0,707.3 L482.0,708.1 L484.0,708.8 L486.0,709.6 L488.0,710.4 L490.0,711.1 L492.0,711.9 L494.0,712.6 L496.0,713.4 L498.0,714.2 L500.0,715.0 L502.0,716.2 L504.0,717.4 L506.0,718.6 L508.0,719.9 L510.0,721.2 L512.0,722.4 L514.0,723.7 L516.0,725.0 L518.0,726.2 L520.0,727.5 L522.0,729.0 L524.0,730.5 L526.0,732.0 L528.0,733.5 L530.0,734.9 L532.0,736.3 L534.0,737.7 L536.0,739.1 L538.0,740.4 L540.0,741.5 L542.0,742.2 L544.0,742.8 L546.0,743.5 L548.0,744.0 L550.0,744.5 L552.0,744.9 L554.0,745.3 L556.0,745.7 L558.0,746.0 L560.0,746.3 L562.0,746.6 L564.0,746.9 L566.0,747.1 L568.0,747.2 L570.0,747.4 L572.0,747.5 L574.0,747.5 L576.0,747.6 L578.0,747.7 L580.0,747.8 L582.0,747.8 L584.0,747.7 L586.0,747.7 L588.0,747.5 L590.0,747.4 L592.0,747.3 L594.0,747.1 L596.0,747.0 L598.0,746.8 L600.0,746.7 L602.0,746.5 L604.0,746.3 L606.0,746.2 L608.0,746.0 L610.0,745.8 L612.0,745.6 L614.0,745.4 L616.0,745.2 L618.0,745.0 L620.0,744.8 L622.0,744.6 L624.0,744.3 L626.0,744.1 L628.0,743.9 L630.0,743.6 L632.0,743.4 L634.0,743.2 L636.0,743.0 L638.0,742.8 L640.0,742.6 L642.0,742.5 L644.0,742.3 L646.0,741.9 L648.0,741.6 L650.0,741.2 L652.0,740.8 L654.0,740.4 L656.0,740.1 L658.0,739.7 L660.0,739.4 L662.0,739.0 L664.0,738.7 L666.0,738.3 L668.0,738.0 L670.0,737.7 L672.0,737.3 L674.0,737.0 L676.0,736.7 L678.0,736.4 L680.0,736.3 L682.0,736.2 L684.0,736.2 L686.0,736.1 L688.0,736.1 L690.0,736.0 L692.0,736.0 L694.0,736.0 L696.0,735.9 L698.0,736.0 L700.0,736.0 L702.0,736.1 L704.0,736.2 L706.0,736.4 L708.0,736.6 L710.0,736.8 L712.0,737.0 L714.0,737.1 L716.0,737.3 L718.0,737.5 L720.0,737.6 L722.0,737.8 L724.0,738.0 L726.0,738.1 L728.0,738.3 L730.0,738.5 L732.0,738.4 L734.0,738.3 L736.0,738.2 L738.0,738.2 L740.0,738.2 L742.0,738.2 L744.0,738.2 L746.0,738.3 L748.0,738.3 L750.0,738.4 L752.0,738.5 L754.0,738.5 L756.0,738.7 L758.0,738.8 L760.0,738.9 L762.0,739.0 L764.0,739.1 L766.0,739.3 L768.0,739.4 L770.0,739.5 L772.0,739.7 L774.0,739.8 L776.0,739.9 L778.0,740.0 L780.0,740.1 L782.0,740.2 L784.0,740.4 L786.0,740.6 L788.0,740.8 L790.0,741.1 L792.0,741.3 L794.0,741.5 L796.0,741.7 L798.0,741.9 L800.0,742.1 L802.0,742.3 L804.0,742.6 L806.0,742.8 L808.0,743.0 L810.0,743.2 L812.0,743.5 L814.0,743.7 L816.0,743.9 L818.0,744.2 L820.0,744.4 L822.0,744.7 L824.0,744.9 L826.0,745.2 L828.0,745.4 L830.0,745.7 L832.0,746.0 L834.0,746.3 L836.0,746.6 L838.0,746.9 L840.0,747.2 L842.0,747.5 L844.0,747.8 L846.0,748.1 L848.0,748.5 L850.0,748.8 L852.0,749.2 L854.0,749.5 L856.0,749.9 L858.0,750.2 L860.0,750.6 L862.0,751.0 L864.0,751.4 L866.0,751.8 L868.0,752.2 L870.0,752.5 L872.0,752.9 L874.0,753.3 L876.0,753.7 L878.0,754.1 L880.0,754.6 L882.0,755.0 L884.0,755.4 L886.0,755.8 L888.0,756.3 L890.0,756.8 L892.0,757.3 L894.0,757.9 L896.0,758.4 L898.0,759.0 L900.0,759.5 L902.0,760.1 L904.0,760.7 L906.0,761.3 L908.0,761.9 L910.0,762.5 L912.0,763.1 L914.0,763.7 L916.0,764.2 L918.0,764.8 L920.0,765.4 L922.0,766.0 L924.0,766.5 L926.0,767.1 L928.0,767.6 L930.0,768.1 L932.0,768.6 L934.0,769.1 L936.0,769.7 L938.0,770.2 L940.0,770.7 L942.0,771.2 L944.0,771.7 L946.0,772.2 L948.0,772.7 L950.0,773.2 L952.0,773.7 L954.0,774.2 L956.0,774.7 L958.0,775.2 L960.0,775.7 L962.0,776.1 L964.0,776.6 L966.0,777.0 L968.0,777.5 L970.0,777.9 L972.0,778.3 L974.0,778.7 L976.0,779.1 L978.0,779.5 L980.0,779.9 L982.0,780.2 L984.0,780.6 L986.0,781.0 L988.0,781.4 L990.0,781.7 L992.0,782.1 L994.0,782.4 L996.0,782.8 L998.0,783.1 L1000.0,783.5 L1002.0,783.8 L1004.0,784.1 L1006.0,784.5 L1008.0,784.8 L1010.0,785.1 L1012.0,785.5 L1014.0,785.8 L1016.0,786.1 L1018.0,786.4 L1020.0,786.8 L1022.0,787.1 L1024.0,787.4 L1026.0,787.8 L1028.0,788.1 L1030.0,788.4 L1032.0,788.7 L1034.0,789.1 L1036.0,789.4 L1038.0,789.7 L1040.0,790.0 L1042.0,790.3 L1044.0,790.6 L1046.0,790.9 L1048.0,791.3 L1050.0,791.6 L1052.0,791.9 L1054.0,792.1 L1056.0,792.4 L1058.0,792.7 L1060.0,793.0 L1062.0,793.3 L1064.0,793.6 L1066.0,793.8 L1068.0,794.1 L1070.0,794.3 L1072.0,794.6 L1074.0,794.8 L1076.0,795.0 L1078.0,795.3 L1080.0,795.5 L1082.0,795.7 L1084.0,795.9 L1086.0,796.1 L1088.0,796.4 L1090.0,796.6 L1092.0,796.8 L1094.0,797.0 L1096.0,797.2 L1098.0,797.4 L1100.0,797.6 L1102.0,797.8 L1104.0,798.0 L1106.0,798.2 L1108.0,798.4 L1110.0,798.6 L1112.0,798.8 L1114.0,799.0 L1116.0,799.2 L1118.0,799.4 L1120.0,799.6 L1122.0,799.8 L1124.0,800.0 L1126.0,800.3 L1128.0,800.5 L1130.0,800.7 L1132.0,801.0 L1134.0,801.2 L1136.0,801.4 L1138.0,801.7 L1140.0,801.9 L1142.0,802.2 L1144.0,802.4 L1146.0,802.6 L1148.0,802.9 L1150.0,803.1 L1152.0,803.3 L1154.0,803.5 L1156.0,803.7 L1158.0,803.9 L1160.0,804.1 L1162.0,804.3 L1164.0,804.5 L1166.0,804.6 L1168.0,804.7 L1170.0,804.9 L1172.0,805.0 L1174.0,805.1 L1176.0,805.2 L1178.0,805.3 L1180.0,805.4 L1182.0,805.6 L1184.0,805.7 L1186.0,805.8 L1188.0,805.9 L1190.0,806.0 L1192.0,806.1 L1194.0,806.2 L1196.0,806.3 L1198.0,806.4 L1200.0,806.5 L1202.0,806.6 L1204.0,806.7 L1206.0,806.8 L1208.0,806.8 L1210.0,806.9 L1212.0,807.0 L1214.0,807.1 L1216.0,807.2 L1218.0,807.2 L1220.0,807.3 L1222.0,807.3 L1224.0,807.4 L1226.0,807.4 L1228.0,807.5 L1230.0,807.5 L1232.0,807.6 L1234.0,807.6 L1236.0,807.6 L1238.0,807.7 L1240.0,807.7" stroke="#5b98d3" stroke-width="5.5"/>
<path d="M242.5,-16.4 L243.0,-8.3 L243.5,-0.2 L244.0,7.8 L244.5,15.9 L245.0,23.8 L245.5,31.8 L246.0,39.7 L246.5,47.5 L247.0,55.3 L247.5,63.0 L248.0,70.7 L248.5,78.2 L249.0,85.7 L249.5,93.1 L250.0,100.4 L250.5,107.6 L251.0,114.9 L251.5,122.1 L252.0,129.4 L252.5,136.7 L253.0,144.1 L253.5,151.5 L254.0,159.1 L254.5,166.7 L255.0,174.3 L255.5,181.9 L256.0,189.4 L256.5,196.8 L257.0,204.2 L257.5,211.4 L258.0,218.5 L258.5,225.5 L259.0,232.5 L259.5,239.6 L260.0,246.6 L260.5,253.6 L261.0,260.5 L261.5,267.4 L262.0,274.1 L262.5,280.7 L263.0,287.2 L263.5,293.5 L264.0,299.6 L264.5,305.5 L265.0,311.2 L265.5,316.7 L266.0,322.1 L266.5,327.2 L267.0,332.0 L267.5,336.7 L268.0,341.2 L268.5,345.6 L269.0,349.8 L269.5,353.8 L270.0,357.6 L270.5,361.2 L271.0,364.7 L271.5,368.2 L272.0,371.6 L272.5,374.9 L273.0,378.1 L273.5,381.1 L274.0,384.0 L274.5,386.6 L275.0,389.0 L275.5,391.2 L276.0,393.1 L276.5,394.9 L277.0,396.7 L277.5,398.3 L278.0,399.8 L278.5,401.3 L279.0,402.6 L279.5,403.8 L280.0,405.0 L280.5,406.0 L281.0,406.9 L281.5,407.7 L282.0,408.5 L282.5,409.3 L283.0,410.1 L283.5,410.8 L284.0,411.6 L284.5,412.2 L285.0,412.8 L285.5,413.3 L286.0,413.7 L286.5,414.1 L287.0,414.3 L287.5,414.4 L288.0,414.2 L288.5,413.8 L289.0,413.5 L289.5,413.0 L290.0,412.6 L290.5,412.0 L291.0,411.5 L291.5,410.8 L292.0,410.2 L292.5,409.5 L293.0,408.8 L293.5,408.1 L294.0,407.3 L294.5,406.5 L295.0,405.8 L295.5,405.0 L296.0,404.2 L296.5,403.4 L297.0,402.5 L297.5,401.6 L298.0,400.7 L298.5,399.6 L299.0,398.5 L299.5,397.4 L300.0,396.2 L300.8,394.3 L301.5,392.3 L302.2,390.2 L303.0,388.1 L303.8,386.0 L304.5,383.8 L305.2,381.7 L306.0,379.5 L306.8,377.4 L307.5,375.2 L308.2,373.0 L309.0,370.9 L309.8,368.6 L310.5,366.3 L311.2,364.0 L312.0,361.6 L312.8,359.2 L313.5,356.7 L314.2,354.1 L315.0,351.5 L315.8,348.7 L316.5,345.9 L317.2,343.0 L318.0,339.8 L318.8,336.5 L319.5,333.0 L320.2,329.3 L321.0,325.5 L321.8,321.5 L322.5,317.6 L323.2,313.5 L324.0,309.2 L324.8,304.6 L325.5,299.9 L326.2,295.2 L327.0,290.7 L327.8,286.4 L328.5,282.6 L329.2,278.9 L330.0,275.4 L330.8,272.2 L331.5,269.3 L332.2,266.4 L333.0,263.9 L333.8,262.4 L334.5,262.4 L335.2,263.2 L336.0,264.4 L336.8,265.9 L337.5,268.4 L338.2,271.8 L339.0,275.9 L339.8,280.3 L340.5,285.3 L341.2,291.7 L342.0,299.1 L342.8,306.9 L343.5,314.4 L344.2,321.5 L345.0,328.8 L345.8,336.5 L346.5,344.7 L347.2,353.5 L348.0,363.3 L348.8,373.8 L349.5,384.5 L350.2,395.0 L351.0,404.9 L351.8,414.8 L352.5,424.7 L353.2,433.7 L354.0,441.2 L354.8,448.0 L355.5,454.4 L356.2,460.8 L357.0,467.4 L357.8,473.9 L358.5,480.2 L359.2,486.5 L360.0,492.7 L360.8,498.8 L361.5,504.8 L362.2,510.6 L363.0,516.1 L363.8,521.5 L364.5,526.7 L365.2,531.8 L366.0,536.8 L366.8,541.9 L367.5,546.9 L368.2,551.7 L369.0,556.3 L369.8,560.7 L370.5,564.8 L371.2,568.8 L372.0,572.7 L372.8,576.3 L373.5,579.9 L374.2,583.3 L375.0,586.7 L375.8,590.0 L376.5,593.3 L377.2,596.6 L378.0,599.8 L378.8,603.0 L379.5,606.1 L380.2,609.0 L381.0,611.9 L381.8,614.6 L382.5,617.3 L383.2,619.9 L384.0,622.4 L384.8,624.9 L385.5,627.3 L386.2,629.5 L387.0,631.5 L387.8,633.3 L388.5,635.0 L389.2,636.6 L390.0,638.1 L390.8,639.6 L391.5,640.9 L392.2,642.3 L393.0,643.5 L393.8,644.7 L394.5,645.9 L395.2,647.1 L396.0,648.2 L396.8,649.3 L397.5,650.3 L398.2,651.4 L399.0,652.4 L399.8,653.4 L400.0,653.7 L402.0,655.5 L404.0,657.1 L406.0,658.7 L408.0,660.0 L410.0,661.3 L412.0,662.4 L414.0,663.4 L416.0,664.5 L418.0,665.6 L420.0,666.7 L422.0,668.2 L424.0,669.8 L426.0,671.4 L428.0,673.1 L430.0,674.8 L432.0,676.7 L434.0,678.8 L436.0,680.9 L438.0,683.0 L440.0,685.2 L442.0,686.6 L444.0,688.1 L446.0,689.6 L448.0,691.1 L450.0,692.3 L452.0,693.4 L454.0,694.5 L456.0,695.4 L458.0,696.1 L460.0,696.6 L462.0,697.6 L464.0,698.5 L466.0,699.2 L468.0,700.0 L470.0,700.6 L472.0,701.2 L474.0,701.8 L476.0,702.3 L478.0,702.8 L480.0,703.4 L482.0,704.1 L484.0,704.8 L486.0,705.6 L488.0,706.3 L490.0,707.0 L492.0,707.8 L494.0,708.5 L496.0,709.2 L498.0,710.0 L500.0,710.8 L502.0,712.0 L504.0,713.2 L506.0,714.5 L508.0,715.7 L510.0,717.0 L512.0,718.3 L514.0,719.6 L516.0,720.9 L518.0,722.1 L520.0,723.4 L522.0,724.9 L524.0,726.3 L526.0,727.7 L528.0,729.2 L530.0,730.5 L532.0,731.8 L534.0,733.1 L536.0,734.4 L538.0,735.6 L540.0,736.7 L542.0,737.4 L544.0,738.0 L546.0,738.6 L548.0,739.1 L550.0,739.6 L552.0,740.0 L554.0,740.3 L556.0,740.7 L558.0,741.0 L560.0,741.3 L562.0,741.5 L564.0,741.7 L566.0,741.9 L568.0,742.1 L570.0,742.2 L572.0,742.3 L574.0,742.3 L576.0,742.5 L578.0,742.7 L580.0,742.8 L582.0,742.9 L584.0,743.0 L586.0,743.0 L588.0,743.0 L590.0,742.9 L592.0,742.9 L594.0,742.8 L596.0,742.7 L598.0,742.7 L600.0,742.6 L602.0,742.6 L604.0,742.5 L606.0,742.5 L608.0,742.4 L610.0,742.2 L612.0,741.9 L614.0,741.5 L616.0,741.1 L618.0,740.7 L620.0,740.3 L622.0,739.9 L624.0,739.5 L626.0,739.1 L628.0,738.6 L630.0,738.2 L632.0,737.8 L634.0,737.4 L636.0,736.9 L638.0,736.5 L640.0,736.1 L642.0,735.8 L644.0,735.4 L646.0,735.0 L648.0,734.5 L650.0,734.1 L652.0,733.7 L654.0,733.3 L656.0,732.9 L658.0,732.4 L660.0,732.0 L662.0,731.6 L664.0,731.2 L666.0,730.8 L668.0,730.5 L670.0,730.1 L672.0,729.7 L674.0,729.3 L676.0,729.0 L678.0,728.6 L680.0,728.4 L682.0,728.3 L684.0,728.1 L686.0,727.9 L688.0,727.8 L690.0,727.6 L692.0,727.5 L694.0,727.3 L696.0,727.2 L698.0,727.1 L700.0,727.1 L702.0,727.1 L704.0,727.1 L706.0,727.2 L708.0,727.3 L710.0,727.4 L712.0,727.5 L714.0,727.6 L716.0,727.7 L718.0,727.7 L720.0,727.8 L722.0,727.8 L724.0,727.9 L726.0,728.0 L728.0,728.0 L730.0,728.1 L732.0,728.0 L734.0,727.9 L736.0,727.9 L738.0,727.9 L740.0,727.9 L742.0,727.9 L744.0,728.0 L746.0,728.0 L748.0,728.1 L750.0,728.2 L752.0,728.3 L754.0,728.5 L756.0,728.6 L758.0,728.8 L760.0,728.9 L762.0,729.1 L764.0,729.3 L766.0,729.4 L768.0,729.6 L770.0,729.8 L772.0,729.9 L774.0,730.1 L776.0,730.3 L778.0,730.4 L780.0,730.6 L782.0,730.7 L784.0,730.9 L786.0,731.1 L788.0,731.3 L790.0,731.5 L792.0,731.7 L794.0,731.9 L796.0,732.1 L798.0,732.3 L800.0,732.5 L802.0,732.7 L804.0,732.9 L806.0,733.2 L808.0,733.4 L810.0,733.6 L812.0,733.8 L814.0,734.1 L816.0,734.3 L818.0,734.5 L820.0,734.8 L822.0,735.0 L824.0,735.3 L826.0,735.6 L828.0,735.8 L830.0,736.1 L832.0,736.4 L834.0,736.7 L836.0,737.1 L838.0,737.5 L840.0,738.0 L842.0,738.4 L844.0,738.9 L846.0,739.3 L848.0,739.8 L850.0,740.3 L852.0,740.8 L854.0,741.3 L856.0,741.8 L858.0,742.3 L860.0,742.8 L862.0,743.3 L864.0,743.8 L866.0,744.3 L868.0,744.8 L870.0,745.4 L872.0,745.9 L874.0,746.4 L876.0,747.0 L878.0,747.5 L880.0,748.0 L882.0,748.6 L884.0,749.1 L886.0,749.7 L888.0,750.1 L890.0,750.5 L892.0,751.0 L894.0,751.5 L896.0,751.9 L898.0,752.4 L900.0,753.0 L902.0,753.5 L904.0,754.0 L906.0,754.6 L908.0,755.1 L910.0,755.7 L912.0,756.2 L914.0,756.8 L916.0,757.4 L918.0,757.9 L920.0,758.5 L922.0,759.0 L924.0,759.6 L926.0,760.1 L928.0,760.6 L930.0,761.1 L932.0,761.7 L934.0,762.4 L936.0,763.0 L938.0,763.6 L940.0,764.2 L942.0,764.8 L944.0,765.4 L946.0,766.0 L948.0,766.6 L950.0,767.2 L952.0,767.7 L954.0,768.3 L956.0,768.9 L958.0,769.4 L960.0,770.0 L962.0,770.5 L964.0,771.1 L966.0,771.6 L968.0,772.1 L970.0,772.6 L972.0,773.0 L974.0,773.5 L976.0,774.0 L978.0,774.4 L980.0,774.9 L982.0,775.3 L984.0,775.8 L986.0,776.2 L988.0,776.6 L990.0,777.0 L992.0,777.5 L994.0,777.9 L996.0,778.3 L998.0,778.7 L1000.0,779.1 L1002.0,779.5 L1004.0,779.9 L1006.0,780.2 L1008.0,780.6 L1010.0,781.0 L1012.0,781.4 L1014.0,781.8 L1016.0,782.2 L1018.0,782.5 L1020.0,782.9 L1022.0,783.3 L1024.0,783.7 L1026.0,784.0 L1028.0,784.4 L1030.0,784.8 L1032.0,785.2 L1034.0,785.6 L1036.0,785.9 L1038.0,786.3 L1040.0,786.7 L1042.0,787.0 L1044.0,787.4 L1046.0,787.7 L1048.0,788.1 L1050.0,788.4 L1052.0,788.8 L1054.0,789.1 L1056.0,789.5 L1058.0,789.8 L1060.0,790.1 L1062.0,790.4 L1064.0,790.7 L1066.0,791.1 L1068.0,791.3 L1070.0,791.6 L1072.0,791.9 L1074.0,792.2 L1076.0,792.5 L1078.0,792.7 L1080.0,793.0 L1082.0,793.2 L1084.0,793.5 L1086.0,793.7 L1088.0,794.0 L1090.0,794.2 L1092.0,794.4 L1094.0,794.7 L1096.0,794.9 L1098.0,795.1 L1100.0,795.4 L1102.0,795.6 L1104.0,795.8 L1106.0,796.0 L1108.0,796.3 L1110.0,796.5 L1112.0,796.7 L1114.0,797.0 L1116.0,797.2 L1118.0,797.4 L1120.0,797.7 L1122.0,797.9 L1124.0,798.2 L1126.0,798.4 L1128.0,798.7 L1130.0,799.0 L1132.0,799.2 L1134.0,799.5 L1136.0,799.8 L1138.0,800.1 L1140.0,800.4 L1142.0,800.6 L1144.0,800.9 L1146.0,801.2 L1148.0,801.4 L1150.0,801.7 L1152.0,801.9 L1154.0,802.2 L1156.0,802.4 L1158.0,802.6 L1160.0,802.9 L1162.0,803.1 L1164.0,803.2 L1166.0,803.4 L1168.0,803.6 L1170.0,803.7 L1172.0,803.8 L1174.0,804.0 L1176.0,804.1 L1178.0,804.2 L1180.0,804.4 L1182.0,804.5 L1184.0,804.6 L1186.0,804.7 L1188.0,804.9 L1190.0,805.0 L1192.0,805.1 L1194.0,805.2 L1196.0,805.3 L1198.0,805.4 L1200.0,805.5 L1202.0,805.6 L1204.0,805.7 L1206.0,805.8 L1208.0,805.9 L1210.0,806.0 L1212.0,806.1 L1214.0,806.2 L1216.0,806.3 L1218.0,806.3 L1220.0,806.4 L1222.0,806.5 L1224.0,806.5 L1226.0,806.6 L1228.0,806.6 L1230.0,806.7 L1232.0,806.7 L1234.0,806.7 L1236.0,806.8 L1238.0,806.8 L1240.0,806.8" stroke="#ef3a3a" stroke-width="5.5"/>
<path d="M248.0,-16.4 L248.5,-7.3 L249.0,1.8 L249.5,10.8 L250.0,19.8 L250.5,28.7 L251.0,37.6 L251.5,46.6 L252.0,55.5 L252.5,64.5 L253.0,73.5 L253.5,82.6 L254.0,91.8 L254.5,101.0 L255.0,110.2 L255.5,119.4 L256.0,128.5 L256.5,137.6 L257.0,146.7 L257.5,155.6 L258.0,164.4 L258.5,173.3 L259.0,182.2 L259.5,191.2 L260.0,200.2 L260.5,209.2 L261.0,218.2 L261.5,227.1 L262.0,235.8 L262.5,244.4 L263.0,252.7 L263.5,260.8 L264.0,268.5 L264.5,275.9 L265.0,283.1 L265.5,290.0 L266.0,296.6 L266.5,302.8 L267.0,308.6 L267.5,314.2 L268.0,319.6 L268.5,324.7 L269.0,329.6 L269.5,334.3 L270.0,338.7 L270.5,342.7 L271.0,346.7 L271.5,350.6 L272.0,354.4 L272.5,358.1 L273.0,361.7 L273.5,365.1 L274.0,368.2 L274.5,371.2 L275.0,373.8 L275.5,376.1 L276.0,378.2 L276.5,380.0 L277.0,381.8 L277.5,383.4 L278.0,384.9 L278.5,386.3 L279.0,387.7 L279.5,388.9 L280.0,390.0 L280.5,391.0 L281.0,391.9 L281.5,392.7 L282.0,393.5 L282.5,394.3 L283.0,395.0 L283.5,395.8 L284.0,396.5 L284.5,397.1 L285.0,397.7 L285.5,398.2 L286.0,398.7 L286.5,399.0 L287.0,399.3 L287.5,399.4 L288.0,399.4 L288.5,399.3 L289.0,399.1 L289.5,398.8 L290.0,398.5 L290.5,398.2 L291.0,397.8 L291.5,397.4 L292.0,396.9 L292.5,396.4 L293.0,395.8 L293.5,395.3 L294.0,394.7 L294.5,394.1 L295.0,393.5 L295.5,392.9 L296.0,392.3 L296.5,391.6 L297.0,391.0 L297.5,390.2 L298.0,389.4 L298.5,388.5 L299.0,387.6 L299.5,386.6 L300.0,385.6 L300.8,383.9 L301.5,382.2 L302.2,380.4 L303.0,378.6 L303.8,376.7 L304.5,374.8 L305.2,373.0 L306.0,371.1 L306.8,369.2 L307.5,367.4 L308.2,365.5 L309.0,363.6 L309.8,361.6 L310.5,359.6 L311.2,357.6 L312.0,355.5 L312.8,353.3 L313.5,351.1 L314.2,348.8 L315.0,346.4 L315.8,344.0 L316.5,341.5 L317.2,338.8 L318.0,335.9 L318.8,332.9 L319.5,329.6 L320.2,326.3 L321.0,322.8 L321.8,319.2 L322.5,315.6 L323.2,311.9 L324.0,308.0 L324.8,303.8 L325.5,299.6 L326.2,295.4 L327.0,291.4 L327.8,287.7 L328.5,284.4 L329.2,281.2 L330.0,278.4 L330.8,275.8 L331.5,273.4 L332.2,271.1 L333.0,269.2 L333.8,268.2 L334.5,268.1 L335.2,268.6 L336.0,269.4 L336.8,270.6 L337.5,272.8 L338.2,275.8 L339.0,279.6 L339.8,283.7 L340.5,288.3 L341.2,294.4 L342.0,301.4 L342.8,308.8 L343.5,316.1 L344.2,322.9 L345.0,330.0 L345.8,337.5 L346.5,345.5 L347.2,354.1 L348.0,363.7 L348.8,374.0 L349.5,384.6 L350.2,394.9 L351.0,404.8 L351.8,414.6 L352.5,424.5 L353.2,433.4 L354.0,440.8 L354.8,447.5 L355.5,453.8 L356.2,460.1 L357.0,466.6 L357.8,473.0 L358.5,479.1 L359.2,485.2 L360.0,491.3 L360.8,497.3 L361.5,503.1 L362.2,508.8 L363.0,514.3 L363.8,519.6 L364.5,524.7 L365.2,529.7 L366.0,534.8 L366.8,539.9 L367.5,544.9 L368.2,549.7 L369.0,554.4 L369.8,558.8 L370.5,562.9 L371.2,566.9 L372.0,570.7 L372.8,574.4 L373.5,577.9 L374.2,581.3 L375.0,584.7 L375.8,588.0 L376.5,591.3 L377.2,594.6 L378.0,597.8 L378.8,600.9 L379.5,604.0 L380.2,607.0 L381.0,609.9 L381.8,612.6 L382.5,615.3 L383.2,617.9 L384.0,620.4 L384.8,622.9 L385.5,625.2 L386.2,627.4 L387.0,629.4 L387.8,631.2 L388.5,632.9 L389.2,634.5 L390.0,636.0 L390.8,637.3 L391.5,638.6 L392.2,639.8 L393.0,641.0 L393.8,642.1 L394.5,643.2 L395.2,644.2 L396.0,645.2 L396.8,646.1 L397.5,647.1 L398.2,648.0 L399.0,648.9 L399.8,649.7 L400.0,650.0 L402.0,651.8 L404.0,653.5 L406.0,655.1 L408.0,656.5 L410.0,657.9 L412.0,659.1 L414.0,660.3 L416.0,661.5 L418.0,662.7 L420.0,664.0 L422.0,665.2 L424.0,666.4 L426.0,667.7 L428.0,668.9 L430.0,670.3 L432.0,671.8 L434.0,673.4 L436.0,675.0 L438.0,676.7 L440.0,678.4 L442.0,679.9 L444.0,681.4 L446.0,683.0 L448.0,684.5 L450.0,685.8 L452.0,687.1 L454.0,688.2 L456.0,689.2 L458.0,690.1 L460.0,690.8 L462.0,691.7 L464.0,692.6 L466.0,693.3 L468.0,694.0 L470.0,694.6 L472.0,695.1 L474.0,695.7 L476.0,696.2 L478.0,696.7 L480.0,697.3 L482.0,698.0 L484.0,698.8 L486.0,699.6 L488.0,700.4 L490.0,701.2 L492.0,702.0 L494.0,702.8 L496.0,703.6 L498.0,704.4 L500.0,705.3 L502.0,706.4 L504.0,707.6 L506.0,708.8 L508.0,710.0 L510.0,711.2 L512.0,712.4 L514.0,713.6 L516.0,714.9 L518.0,716.1 L520.0,717.3 L522.0,718.7 L524.0,720.0 L526.0,721.4 L528.0,722.7 L530.0,723.9 L532.0,725.1 L534.0,726.3 L536.0,727.5 L538.0,728.6 L540.0,729.5 L542.0,730.2 L544.0,730.9 L546.0,731.6 L548.0,732.2 L550.0,732.7 L552.0,733.1 L554.0,733.5 L556.0,733.9 L558.0,734.3 L560.0,734.7 L562.0,735.0 L564.0,735.3 L566.0,735.5 L568.0,735.8 L570.0,736.0 L572.0,736.1 L574.0,736.3 L576.0,736.4 L578.0,736.4 L580.0,736.4 L582.0,736.3 L584.0,736.1 L586.0,735.9 L588.0,735.7 L590.0,735.5 L592.0,735.2 L594.0,734.9 L596.0,734.7 L598.0,734.4 L600.0,734.1 L602.0,733.9 L604.0,733.6 L606.0,733.3 L608.0,733.0 L610.0,732.7 L612.0,732.5 L614.0,732.3 L616.0,732.1 L618.0,731.8 L620.0,731.5 L622.0,731.3 L624.0,731.0 L626.0,730.7 L628.0,730.4 L630.0,730.1 L632.0,729.9 L634.0,729.6 L636.0,729.3 L638.0,729.1 L640.0,728.9 L642.0,728.7 L644.0,728.5 L646.0,728.1 L648.0,727.6 L650.0,727.2 L652.0,726.8 L654.0,726.3 L656.0,725.9 L658.0,725.5 L660.0,725.1 L662.0,724.6 L664.0,724.2 L666.0,723.8 L668.0,723.5 L670.0,723.1 L672.0,722.7 L674.0,722.3 L676.0,722.0 L678.0,721.6 L680.0,721.4 L682.0,721.2 L684.0,720.9 L686.0,720.7 L688.0,720.5 L690.0,720.3 L692.0,720.1 L694.0,719.9 L696.0,719.7 L698.0,719.6 L700.0,719.5 L702.0,719.4 L704.0,719.4 L706.0,719.5 L708.0,719.6 L710.0,719.6 L712.0,719.7 L714.0,719.8 L716.0,719.9 L718.0,719.9 L720.0,720.0 L722.0,720.0 L724.0,720.1 L726.0,720.2 L728.0,720.2 L730.0,720.3 L732.0,720.3 L734.0,720.2 L736.0,720.3 L738.0,720.3 L740.0,720.4 L742.0,720.5 L744.0,720.6 L746.0,720.7 L748.0,720.9 L750.0,721.0 L752.0,721.2 L754.0,721.4 L756.0,721.6 L758.0,721.8 L760.0,722.1 L762.0,722.3 L764.0,722.5 L766.0,722.8 L768.0,723.0 L770.0,723.3 L772.0,723.5 L774.0,723.7 L776.0,724.0 L778.0,724.2 L780.0,724.4 L782.0,724.6 L784.0,724.8 L786.0,725.1 L788.0,725.3 L790.0,725.5 L792.0,725.8 L794.0,726.0 L796.0,726.2 L798.0,726.5 L800.0,726.7 L802.0,727.0 L804.0,727.2 L806.0,727.5 L808.0,727.7 L810.0,728.0 L812.0,728.2 L814.0,728.5 L816.0,728.8 L818.0,729.0 L820.0,729.3 L822.0,729.6 L824.0,729.9 L826.0,730.2 L828.0,730.5 L830.0,730.8 L832.0,731.2 L834.0,731.5 L836.0,731.9 L838.0,732.2 L840.0,732.6 L842.0,733.0 L844.0,733.5 L846.0,733.9 L848.0,734.3 L850.0,734.7 L852.0,735.2 L854.0,735.6 L856.0,736.1 L858.0,736.6 L860.0,737.0 L862.0,737.5 L864.0,738.0 L866.0,738.5 L868.0,739.0 L870.0,739.5 L872.0,740.0 L874.0,740.5 L876.0,741.0 L878.0,741.6 L880.0,742.1 L882.0,742.6 L884.0,743.1 L886.0,743.7 L888.0,744.1 L890.0,744.6 L892.0,745.0 L894.0,745.5 L896.0,746.1 L898.0,746.6 L900.0,747.2 L902.0,747.7 L904.0,748.3 L906.0,748.9 L908.0,749.5 L910.0,750.1 L912.0,750.7 L914.0,751.3 L916.0,751.9 L918.0,752.5 L920.0,753.1 L922.0,753.7 L924.0,754.3 L926.0,754.8 L928.0,755.4 L930.0,756.0 L932.0,756.6 L934.0,757.3 L936.0,758.0 L938.0,758.7 L940.0,759.3 L942.0,760.0 L944.0,760.7 L946.0,761.3 L948.0,762.0 L950.0,762.6 L952.0,763.3 L954.0,763.9 L956.0,764.5 L958.0,765.2 L960.0,765.8 L962.0,766.4 L964.0,767.0 L966.0,767.5 L968.0,768.1 L970.0,768.6 L972.0,769.2 L974.0,769.7 L976.0,770.2 L978.0,770.7 L980.0,771.2 L982.0,771.7 L984.0,772.2 L986.0,772.6 L988.0,773.1 L990.0,773.6 L992.0,774.0 L994.0,774.5 L996.0,774.9 L998.0,775.4 L1000.0,775.8 L1002.0,776.2 L1004.0,776.7 L1006.0,777.1 L1008.0,777.5 L1010.0,777.9 L1012.0,778.4 L1014.0,778.8 L1016.0,779.2 L1018.0,779.6 L1020.0,780.0 L1022.0,780.5 L1024.0,780.9 L1026.0,781.3 L1028.0,781.7 L1030.0,782.1 L1032.0,782.5 L1034.0,783.0 L1036.0,783.4 L1038.0,783.8 L1040.0,784.2 L1042.0,784.6 L1044.0,785.0 L1046.0,785.4 L1048.0,785.8 L1050.0,786.1 L1052.0,786.5 L1054.0,786.9 L1056.0,787.3 L1058.0,787.6 L1060.0,788.0 L1062.0,788.3 L1064.0,788.7 L1066.0,789.0 L1068.0,789.3 L1070.0,789.6 L1072.0,789.9 L1074.0,790.3 L1076.0,790.5 L1078.0,790.8 L1080.0,791.1 L1082.0,791.4 L1084.0,791.7 L1086.0,791.9 L1088.0,792.2 L1090.0,792.5 L1092.0,792.7 L1094.0,793.0 L1096.0,793.2 L1098.0,793.5 L1100.0,793.7 L1102.0,794.0 L1104.0,794.2 L1106.0,794.5 L1108.0,794.7 L1110.0,795.0 L1112.0,795.2 L1114.0,795.5 L1116.0,795.7 L1118.0,796.0 L1120.0,796.2 L1122.0,796.5 L1124.0,796.8 L1126.0,797.1 L1128.0,797.4 L1130.0,797.7 L1132.0,798.0 L1134.0,798.3 L1136.0,798.6 L1138.0,798.9 L1140.0,799.2 L1142.0,799.5 L1144.0,799.8 L1146.0,800.1 L1148.0,800.4 L1150.0,800.7 L1152.0,800.9 L1154.0,801.2 L1156.0,801.4 L1158.0,801.7 L1160.0,801.9 L1162.0,802.1 L1164.0,802.3 L1166.0,802.5 L1168.0,802.7 L1170.0,802.9 L1172.0,803.0 L1174.0,803.1 L1176.0,803.3 L1178.0,803.4 L1180.0,803.5 L1182.0,803.7 L1184.0,803.8 L1186.0,804.0 L1188.0,804.1 L1190.0,804.2 L1192.0,804.3 L1194.0,804.5 L1196.0,804.6 L1198.0,804.7 L1200.0,804.8 L1202.0,804.9 L1204.0,805.0 L1206.0,805.1 L1208.0,805.2 L1210.0,805.3 L1212.0,805.4 L1214.0,805.5 L1216.0,805.6 L1218.0,805.7 L1220.0,805.7 L1222.0,805.8 L1224.0,805.9 L1226.0,805.9 L1228.0,806.0 L1230.0,806.0 L1232.0,806.1 L1234.0,806.1 L1236.0,806.1 L1238.0,806.1 L1240.0,806.2" stroke="#22a763" stroke-width="5.5"/>
<path d="M250.5,-13.9 L251.0,-4.1 L251.5,5.8 L252.0,15.6 L252.5,25.5 L253.0,35.4 L253.5,45.4 L254.0,55.5 L254.5,65.5 L255.0,75.6 L255.5,85.6 L256.0,95.7 L256.5,105.7 L257.0,115.6 L257.5,125.5 L258.0,135.3 L258.5,145.1 L259.0,155.0 L259.5,165.0 L260.0,175.2 L260.5,185.3 L261.0,195.3 L261.5,205.3 L262.0,215.1 L262.5,224.7 L263.0,234.1 L263.5,243.1 L264.0,251.7 L264.5,260.0 L265.0,267.9 L265.5,275.6 L266.0,282.8 L266.5,289.7 L267.0,296.0 L267.5,302.1 L268.0,307.9 L268.5,313.5 L269.0,318.8 L269.5,323.8 L270.0,328.4 L270.5,332.7 L271.0,336.9 L271.5,341.1 L272.0,345.2 L272.5,349.1 L273.0,352.8 L273.5,356.4 L274.0,359.7 L274.5,362.8 L275.0,365.6 L275.5,368.0 L276.0,370.1 L276.5,372.0 L277.0,373.7 L277.5,375.3 L278.0,376.8 L278.5,378.3 L279.0,379.6 L279.5,380.8 L280.0,381.9 L280.5,382.9 L281.0,383.8 L281.5,384.6 L282.0,385.4 L282.5,386.2 L283.0,386.9 L283.5,387.6 L284.0,388.3 L284.5,389.0 L285.0,389.6 L285.5,390.1 L286.0,390.6 L286.5,390.9 L287.0,391.2 L287.5,391.3 L288.0,391.4 L288.5,391.4 L289.0,391.3 L289.5,391.2 L290.0,391.0 L290.5,390.7 L291.0,390.4 L291.5,390.1 L292.0,389.7 L292.5,389.3 L293.0,388.8 L293.5,388.4 L294.0,387.9 L294.5,387.4 L295.0,386.9 L295.5,386.3 L296.0,385.8 L296.5,385.3 L297.0,384.7 L297.5,384.0 L298.0,383.3 L298.5,382.5 L299.0,381.7 L299.5,380.7 L300.0,379.8 L300.8,378.3 L301.5,376.7 L302.2,375.0 L303.0,373.4 L303.8,371.6 L304.5,369.9 L305.2,368.2 L306.0,366.5 L306.8,364.8 L307.5,363.1 L308.2,361.3 L309.0,359.6 L309.8,357.8 L310.5,355.9 L311.2,354.0 L312.0,352.1 L312.8,350.1 L313.5,348.0 L314.2,345.9 L315.0,343.6 L315.8,341.4 L316.5,339.0 L317.2,336.5 L318.0,333.7 L318.8,330.8 L319.5,327.7 L320.2,324.5 L321.0,321.2 L321.8,317.8 L322.5,314.4 L323.2,310.9 L324.0,307.2 L324.8,303.2 L325.5,299.2 L326.2,295.3 L327.0,291.6 L327.8,288.2 L328.5,285.2 L329.2,282.3 L330.0,279.8 L330.8,277.5 L331.5,275.4 L332.2,273.4 L333.0,271.8 L333.8,271.1 L334.5,271.0 L335.2,271.4 L336.0,272.0 L336.8,273.1 L337.5,275.1 L338.2,278.0 L339.0,281.5 L339.8,285.5 L340.5,290.0 L341.2,295.9 L342.0,302.7 L342.8,310.0 L343.5,317.1 L344.2,323.8 L345.0,330.7 L345.8,338.2 L346.5,346.1 L347.2,354.6 L348.0,364.1 L348.8,374.3 L349.5,384.8 L350.2,395.1 L351.0,404.9 L351.8,414.7 L352.5,424.5 L353.2,433.4 L354.0,440.8 L354.8,447.4 L355.5,453.7 L356.2,460.0 L357.0,466.4 L357.8,472.7 L358.5,478.8 L359.2,484.9 L360.0,490.9 L360.8,496.8 L361.5,502.6 L362.2,508.3 L363.0,513.7 L363.8,518.9 L364.5,524.0 L365.2,529.0 L366.0,534.1 L366.8,539.1 L367.5,544.1 L368.2,549.0 L369.0,553.7 L369.8,558.1 L370.5,562.2 L371.2,566.2 L372.0,570.0 L372.8,573.6 L373.5,577.2 L374.2,580.6 L375.0,583.9 L375.8,587.2 L376.5,590.5 L377.2,593.8 L378.0,597.0 L378.8,600.2 L379.5,603.2 L380.2,606.2 L381.0,609.1 L381.8,611.8 L382.5,614.5 L383.2,617.1 L384.0,619.6 L384.8,622.1 L385.5,624.4 L386.2,626.6 L387.0,628.6 L387.8,630.4 L388.5,632.1 L389.2,633.6 L390.0,635.1 L390.8,636.5 L391.5,637.7 L392.2,638.9 L393.0,640.0 L393.8,641.0 L394.5,642.0 L395.2,643.0 L396.0,644.0 L396.8,644.9 L397.5,645.8 L398.2,646.6 L399.0,647.4 L399.8,648.2 L400.0,648.5 L402.0,650.3 L404.0,652.0 L406.0,653.6 L408.0,655.1 L410.0,656.5 L412.0,657.8 L414.0,659.1 L416.0,660.4 L418.0,661.7 L420.0,663.0 L422.0,664.1 L424.0,665.2 L426.0,666.3 L428.0,667.5 L430.0,668.7 L432.0,670.0 L434.0,671.5 L436.0,673.0 L438.0,674.5 L440.0,676.0 L442.0,677.3 L444.0,678.6 L446.0,679.9 L448.0,681.1 L450.0,682.2 L452.0,683.2 L454.0,684.1 L456.0,684.8 L458.0,685.4 L460.0,685.8 L462.0,686.7 L464.0,687.5 L466.0,688.2 L468.0,688.8 L470.0,689.3 L472.0,689.9 L474.0,690.4 L476.0,690.9 L478.0,691.4 L480.0,692.0 L482.0,692.8 L484.0,693.6 L486.0,694.4 L488.0,695.2 L490.0,696.1 L492.0,696.9 L494.0,697.8 L496.0,698.7 L498.0,699.6 L500.0,700.5 L502.0,701.7 L504.0,702.9 L506.0,704.1 L508.0,705.3 L510.0,706.6 L512.0,707.9 L514.0,709.2 L516.0,710.4 L518.0,711.7 L520.0,713.0 L522.0,714.2 L524.0,715.3 L526.0,716.5 L528.0,717.6 L530.0,718.6 L532.0,719.6 L534.0,720.6 L536.0,721.5 L538.0,722.3 L540.0,723.0 L542.0,723.7 L544.0,724.3 L546.0,724.9 L548.0,725.4 L550.0,725.8 L552.0,726.2 L554.0,726.5 L556.0,726.8 L558.0,727.1 L560.0,727.4 L562.0,727.6 L564.0,727.8 L566.0,728.0 L568.0,728.2 L570.0,728.3 L572.0,728.4 L574.0,728.5 L576.0,728.6 L578.0,728.7 L580.0,728.7 L582.0,728.7 L584.0,728.6 L586.0,728.4 L588.0,728.3 L590.0,728.0 L592.0,727.8 L594.0,727.6 L596.0,727.4 L598.0,727.1 L600.0,726.9 L602.0,726.8 L604.0,726.6 L606.0,726.3 L608.0,726.1 L610.0,725.8 L612.0,725.5 L614.0,725.2 L616.0,724.9 L618.0,724.5 L620.0,724.1 L622.0,723.7 L624.0,723.4 L626.0,723.0 L628.0,722.6 L630.0,722.2 L632.0,721.8 L634.0,721.4 L636.0,721.1 L638.0,720.7 L640.0,720.4 L642.0,720.1 L644.0,719.8 L646.0,719.5 L648.0,719.1 L650.0,718.7 L652.0,718.4 L654.0,718.1 L656.0,717.7 L658.0,717.4 L660.0,717.1 L662.0,716.8 L664.0,716.5 L666.0,716.2 L668.0,715.9 L670.0,715.6 L672.0,715.4 L674.0,715.1 L676.0,714.9 L678.0,714.7 L680.0,714.4 L682.0,714.2 L684.0,713.9 L686.0,713.6 L688.0,713.3 L690.0,713.0 L692.0,712.8 L694.0,712.5 L696.0,712.3 L698.0,712.1 L700.0,712.0 L702.0,711.9 L704.0,711.8 L706.0,711.8 L708.0,711.8 L710.0,711.9 L712.0,712.0 L714.0,712.0 L716.0,711.9 L718.0,711.9 L720.0,711.8 L722.0,711.8 L724.0,711.7 L726.0,711.7 L728.0,711.6 L730.0,711.6 L732.0,711.5 L734.0,711.4 L736.0,711.4 L738.0,711.4 L740.0,711.4 L742.0,711.4 L744.0,711.5 L746.0,711.6 L748.0,711.7 L750.0,711.9 L752.0,712.0 L754.0,712.2 L756.0,712.4 L758.0,712.5 L760.0,712.7 L762.0,713.0 L764.0,713.2 L766.0,713.4 L768.0,713.6 L770.0,713.8 L772.0,714.0 L774.0,714.2 L776.0,714.4 L778.0,714.6 L780.0,714.8 L782.0,715.0 L784.0,715.4 L786.0,715.8 L788.0,716.2 L790.0,716.7 L792.0,717.1 L794.0,717.5 L796.0,717.9 L798.0,718.3 L800.0,718.7 L802.0,719.1 L804.0,719.5 L806.0,720.0 L808.0,720.4 L810.0,720.8 L812.0,721.2 L814.0,721.7 L816.0,722.1 L818.0,722.5 L820.0,723.0 L822.0,723.4 L824.0,723.9 L826.0,724.4 L828.0,724.8 L830.0,725.3 L832.0,725.8 L834.0,726.3 L836.0,726.7 L838.0,727.2 L840.0,727.6 L842.0,728.1 L844.0,728.6 L846.0,729.1 L848.0,729.6 L850.0,730.1 L852.0,730.6 L854.0,731.1 L856.0,731.6 L858.0,732.1 L860.0,732.7 L862.0,733.2 L864.0,733.8 L866.0,734.3 L868.0,734.9 L870.0,735.5 L872.0,736.0 L874.0,736.6 L876.0,737.2 L878.0,737.8 L880.0,738.4 L882.0,739.0 L884.0,739.6 L886.0,740.2 L888.0,740.6 L890.0,741.0 L892.0,741.5 L894.0,741.9 L896.0,742.4 L898.0,742.9 L900.0,743.5 L902.0,744.0 L904.0,744.6 L906.0,745.1 L908.0,745.7 L910.0,746.3 L912.0,746.9 L914.0,747.5 L916.0,748.1 L918.0,748.7 L920.0,749.3 L922.0,749.9 L924.0,750.5 L926.0,751.0 L928.0,751.6 L930.0,752.2 L932.0,752.9 L934.0,753.6 L936.0,754.3 L938.0,755.1 L940.0,755.8 L942.0,756.5 L944.0,757.2 L946.0,757.9 L948.0,758.6 L950.0,759.3 L952.0,760.0 L954.0,760.7 L956.0,761.4 L958.0,762.0 L960.0,762.7 L962.0,763.3 L964.0,764.0 L966.0,764.6 L968.0,765.2 L970.0,765.7 L972.0,766.3 L974.0,766.9 L976.0,767.4 L978.0,768.0 L980.0,768.5 L982.0,769.0 L984.0,769.5 L986.0,770.0 L988.0,770.5 L990.0,771.0 L992.0,771.5 L994.0,772.0 L996.0,772.5 L998.0,772.9 L1000.0,773.4 L1002.0,773.9 L1004.0,774.3 L1006.0,774.8 L1008.0,775.3 L1010.0,775.7 L1012.0,776.2 L1014.0,776.6 L1016.0,777.1 L1018.0,777.5 L1020.0,777.9 L1022.0,778.4 L1024.0,778.8 L1026.0,779.3 L1028.0,779.7 L1030.0,780.2 L1032.0,780.6 L1034.0,781.1 L1036.0,781.5 L1038.0,781.9 L1040.0,782.4 L1042.0,782.8 L1044.0,783.2 L1046.0,783.6 L1048.0,784.0 L1050.0,784.4 L1052.0,784.9 L1054.0,785.3 L1056.0,785.6 L1058.0,786.0 L1060.0,786.4 L1062.0,786.8 L1064.0,787.1 L1066.0,787.5 L1068.0,787.8 L1070.0,788.2 L1072.0,788.5 L1074.0,788.8 L1076.0,789.1 L1078.0,789.5 L1080.0,789.8 L1082.0,790.0 L1084.0,790.3 L1086.0,790.6 L1088.0,790.9 L1090.0,791.2 L1092.0,791.5 L1094.0,791.7 L1096.0,792.0 L1098.0,792.3 L1100.0,792.5 L1102.0,792.8 L1104.0,793.0 L1106.0,793.3 L1108.0,793.6 L1110.0,793.8 L1112.0,794.1 L1114.0,794.4 L1116.0,794.6 L1118.0,794.9 L1120.0,795.2 L1122.0,795.5 L1124.0,795.8 L1126.0,796.1 L1128.0,796.4 L1130.0,796.7 L1132.0,797.0 L1134.0,797.4 L1136.0,797.7 L1138.0,798.0 L1140.0,798.3 L1142.0,798.7 L1144.0,799.0 L1146.0,799.3 L1148.0,799.6 L1150.0,799.9 L1152.0,800.2 L1154.0,800.5 L1156.0,800.7 L1158.0,801.0 L1160.0,801.2 L1162.0,801.5 L1164.0,801.7 L1166.0,801.9 L1168.0,802.1 L1170.0,802.2 L1172.0,802.4 L1174.0,802.5 L1176.0,802.7 L1178.0,802.8 L1180.0,803.0 L1182.0,803.1 L1184.0,803.2 L1186.0,803.4 L1188.0,803.5 L1190.0,803.7 L1192.0,803.8 L1194.0,803.9 L1196.0,804.0 L1198.0,804.2 L1200.0,804.3 L1202.0,804.4 L1204.0,804.5 L1206.0,804.6 L1208.0,804.7 L1210.0,804.8 L1212.0,804.9 L1214.0,805.0 L1216.0,805.1 L1218.0,805.2 L1220.0,805.3 L1222.0,805.3 L1224.0,805.4 L1226.0,805.5 L1228.0,805.5 L1230.0,805.6 L1232.0,805.6 L1234.0,805.6 L1236.0,805.7 L1238.0,805.7 L1240.0,805.7" stroke="#6f3535" stroke-width="5.5"/>
<path d="M252.0,-12.9 L252.5,-2.4 L253.0,8.2 L253.5,18.8 L254.0,29.4 L254.5,40.1 L255.0,50.8 L255.5,61.5 L256.0,72.1 L256.5,82.8 L257.0,93.4 L257.5,103.9 L258.0,114.4 L258.5,124.9 L259.0,135.5 L259.5,146.3 L260.0,157.2 L260.5,168.1 L261.0,179.0 L261.5,189.7 L262.0,200.3 L262.5,210.6 L263.0,220.7 L263.5,230.4 L264.0,239.7 L264.5,248.6 L265.0,257.1 L265.5,265.2 L266.0,273.0 L266.5,280.2 L267.0,287.0 L267.5,293.4 L268.0,299.5 L268.5,305.4 L269.0,311.0 L269.5,316.2 L270.0,321.1 L270.5,325.6 L271.0,330.0 L271.5,334.3 L272.0,338.5 L272.5,342.6 L273.0,346.5 L273.5,350.2 L274.0,353.7 L274.5,356.8 L275.0,359.7 L275.5,362.2 L276.0,364.4 L276.5,366.2 L277.0,367.9 L277.5,369.6 L278.0,371.1 L278.5,372.5 L279.0,373.8 L279.5,375.0 L280.0,376.1 L280.5,377.1 L281.0,378.0 L281.5,378.8 L282.0,379.6 L282.5,380.3 L283.0,381.1 L283.5,381.8 L284.0,382.5 L284.5,383.2 L285.0,383.8 L285.5,384.3 L286.0,384.7 L286.5,385.1 L287.0,385.4 L287.5,385.5 L288.0,385.6 L288.5,385.5 L289.0,385.4 L289.5,385.3 L290.0,385.0 L290.5,384.8 L291.0,384.4 L291.5,384.0 L292.0,383.6 L292.5,383.2 L293.0,382.7 L293.5,382.2 L294.0,381.6 L294.5,381.1 L295.0,380.5 L295.5,380.0 L296.0,379.4 L296.5,378.8 L297.0,378.2 L297.5,377.5 L298.0,376.7 L298.5,375.9 L299.0,375.0 L299.5,374.0 L300.0,373.0 L300.8,371.4 L301.5,369.7 L302.2,368.0 L303.0,366.3 L303.8,364.5 L304.5,362.7 L305.2,360.9 L306.0,359.1 L306.8,357.3 L307.5,355.5 L308.2,353.7 L309.0,351.9 L309.8,350.0 L310.5,348.1 L311.2,346.1 L312.0,344.0 L312.8,341.9 L313.5,339.7 L314.2,337.4 L315.0,335.1 L315.8,332.6 L316.5,330.1 L317.2,327.3 L318.0,324.4 L318.8,321.2 L319.5,317.8 L320.2,314.3 L321.0,310.6 L321.8,306.9 L322.5,303.1 L323.2,299.3 L324.0,295.1 L324.8,290.7 L325.5,286.2 L326.2,281.8 L327.0,277.6 L327.8,273.8 L328.5,270.4 L329.2,267.3 L330.0,264.4 L330.8,261.9 L331.5,259.6 L332.2,257.4 L333.0,255.8 L333.8,255.1 L334.5,255.2 L335.2,255.9 L336.0,256.9 L336.8,258.2 L337.5,260.6 L338.2,263.9 L339.0,267.9 L339.8,272.3 L340.5,277.3 L341.2,283.9 L342.0,291.5 L342.8,299.5 L343.5,307.2 L344.2,314.5 L345.0,321.8 L345.8,329.6 L346.5,337.8 L347.2,346.8 L348.0,356.8 L348.8,367.7 L349.5,378.9 L350.2,389.9 L351.0,400.3 L351.8,410.7 L352.5,421.1 L353.2,430.3 L354.0,437.7 L354.8,444.2 L355.5,450.2 L356.2,456.3 L357.0,462.5 L357.8,468.7 L358.5,474.7 L359.2,480.7 L360.0,486.7 L360.8,492.6 L361.5,498.4 L362.2,504.1 L363.0,509.6 L363.8,514.9 L364.5,520.1 L365.2,525.3 L366.0,530.5 L366.8,535.8 L367.5,541.0 L368.2,546.1 L369.0,550.9 L369.8,555.5 L370.5,559.8 L371.2,563.8 L372.0,567.7 L372.8,571.5 L373.5,575.1 L374.2,578.6 L375.0,582.0 L375.8,585.4 L376.5,588.7 L377.2,592.0 L378.0,595.3 L378.8,598.5 L379.5,601.7 L380.2,604.7 L381.0,607.7 L381.8,610.5 L382.5,613.2 L383.2,615.8 L384.0,618.4 L384.8,620.9 L385.5,623.3 L386.2,625.5 L387.0,627.5 L387.8,629.3 L388.5,631.0 L389.2,632.6 L390.0,634.1 L390.8,635.5 L391.5,636.7 L392.2,637.9 L393.0,639.0 L393.8,640.1 L394.5,641.1 L395.2,642.0 L396.0,643.0 L396.8,643.9 L397.5,644.8 L398.2,645.6 L399.0,646.4 L399.8,647.2 L400.0,647.5 L402.0,649.3 L404.0,651.0 L406.0,652.6 L408.0,654.1 L410.0,655.5 L412.0,656.8 L414.0,658.1 L416.0,659.4 L418.0,660.7 L420.0,662.0 L422.0,663.0 L424.0,664.1 L426.0,665.2 L428.0,666.3 L430.0,667.5 L432.0,668.8 L434.0,670.2 L436.0,671.6 L438.0,673.1 L440.0,674.5 L442.0,675.7 L444.0,677.0 L446.0,678.3 L448.0,679.5 L450.0,680.5 L452.0,681.5 L454.0,682.4 L456.0,683.1 L458.0,683.6 L460.0,684.0 L462.0,684.9 L464.0,685.6 L466.0,686.3 L468.0,686.9 L470.0,687.4 L472.0,687.9 L474.0,688.4 L476.0,688.9 L478.0,689.4 L480.0,690.0 L482.0,690.8 L484.0,691.6 L486.0,692.4 L488.0,693.2 L490.0,694.0 L492.0,694.9 L494.0,695.8 L496.0,696.6 L498.0,697.6 L500.0,698.5 L502.0,699.6 L504.0,700.8 L506.0,701.9 L508.0,703.1 L510.0,704.3 L512.0,705.6 L514.0,706.8 L516.0,708.0 L518.0,709.3 L520.0,710.5 L522.0,711.7 L524.0,712.9 L526.0,714.0 L528.0,715.1 L530.0,716.2 L532.0,717.1 L534.0,718.1 L536.0,719.0 L538.0,719.8 L540.0,720.5 L542.0,721.2 L544.0,721.8 L546.0,722.4 L548.0,722.9 L550.0,723.3 L552.0,723.6 L554.0,724.0 L556.0,724.3 L558.0,724.5 L560.0,724.8 L562.0,725.0 L564.0,725.3 L566.0,725.4 L568.0,725.6 L570.0,725.7 L572.0,725.8 L574.0,725.9 L576.0,726.0 L578.0,726.0 L580.0,725.9 L582.0,725.8 L584.0,725.6 L586.0,725.3 L588.0,725.0 L590.0,724.7 L592.0,724.4 L594.0,724.0 L596.0,723.7 L598.0,723.4 L600.0,723.1 L602.0,722.8 L604.0,722.5 L606.0,722.1 L608.0,721.8 L610.0,721.4 L612.0,721.2 L614.0,720.9 L616.0,720.6 L618.0,720.3 L620.0,720.0 L622.0,719.6 L624.0,719.3 L626.0,719.0 L628.0,718.6 L630.0,718.3 L632.0,718.0 L634.0,717.6 L636.0,717.3 L638.0,717.0 L640.0,716.8 L642.0,716.5 L644.0,716.3 L646.0,715.9 L648.0,715.5 L650.0,715.1 L652.0,714.7 L654.0,714.3 L656.0,714.0 L658.0,713.6 L660.0,713.2 L662.0,712.9 L664.0,712.5 L666.0,712.2 L668.0,711.9 L670.0,711.5 L672.0,711.2 L674.0,711.0 L676.0,710.7 L678.0,710.4 L680.0,710.1 L682.0,709.8 L684.0,709.4 L686.0,709.1 L688.0,708.7 L690.0,708.4 L692.0,708.1 L694.0,707.8 L696.0,707.5 L698.0,707.3 L700.0,707.1 L702.0,706.9 L704.0,706.8 L706.0,706.8 L708.0,706.8 L710.0,706.8 L712.0,706.8 L714.0,706.8 L716.0,706.7 L718.0,706.7 L720.0,706.6 L722.0,706.5 L724.0,706.5 L726.0,706.5 L728.0,706.4 L730.0,706.4 L732.0,706.2 L734.0,706.1 L736.0,706.1 L738.0,706.0 L740.0,706.0 L742.0,706.0 L744.0,706.0 L746.0,706.1 L748.0,706.2 L750.0,706.3 L752.0,706.4 L754.0,706.5 L756.0,706.7 L758.0,706.8 L760.0,707.0 L762.0,707.2 L764.0,707.4 L766.0,707.6 L768.0,707.8 L770.0,708.0 L772.0,708.2 L774.0,708.3 L776.0,708.5 L778.0,708.7 L780.0,708.9 L782.0,709.0 L784.0,709.4 L786.0,709.9 L788.0,710.3 L790.0,710.8 L792.0,711.2 L794.0,711.6 L796.0,712.1 L798.0,712.5 L800.0,713.0 L802.0,713.4 L804.0,713.9 L806.0,714.3 L808.0,714.8 L810.0,715.2 L812.0,715.7 L814.0,716.1 L816.0,716.6 L818.0,717.1 L820.0,717.6 L822.0,718.0 L824.0,718.5 L826.0,719.0 L828.0,719.5 L830.0,720.0 L832.0,720.5 L834.0,721.1 L836.0,721.6 L838.0,722.1 L840.0,722.6 L842.0,723.2 L844.0,723.7 L846.0,724.2 L848.0,724.8 L850.0,725.4 L852.0,726.0 L854.0,726.5 L856.0,727.1 L858.0,727.7 L860.0,728.3 L862.0,728.9 L864.0,729.6 L866.0,730.2 L868.0,730.8 L870.0,731.4 L872.0,732.1 L874.0,732.7 L876.0,733.4 L878.0,734.0 L880.0,734.7 L882.0,735.3 L884.0,736.0 L886.0,736.7 L888.0,737.1 L890.0,737.6 L892.0,738.1 L894.0,738.6 L896.0,739.2 L898.0,739.8 L900.0,740.4 L902.0,741.0 L904.0,741.6 L906.0,742.2 L908.0,742.8 L910.0,743.5 L912.0,744.1 L914.0,744.8 L916.0,745.4 L918.0,746.1 L920.0,746.7 L922.0,747.4 L924.0,748.0 L926.0,748.6 L928.0,749.3 L930.0,749.9 L932.0,750.6 L934.0,751.4 L936.0,752.1 L938.0,752.9 L940.0,753.6 L942.0,754.4 L944.0,755.1 L946.0,755.9 L948.0,756.6 L950.0,757.3 L952.0,758.1 L954.0,758.8 L956.0,759.5 L958.0,760.2 L960.0,760.8 L962.0,761.5 L964.0,762.1 L966.0,762.8 L968.0,763.4 L970.0,764.0 L972.0,764.6 L974.0,765.2 L976.0,765.7 L978.0,766.3 L980.0,766.8 L982.0,767.4 L984.0,767.9 L986.0,768.5 L988.0,769.0 L990.0,769.5 L992.0,770.0 L994.0,770.5 L996.0,771.0 L998.0,771.5 L1000.0,772.0 L1002.0,772.5 L1004.0,772.9 L1006.0,773.4 L1008.0,773.9 L1010.0,774.4 L1012.0,774.8 L1014.0,775.3 L1016.0,775.8 L1018.0,776.2 L1020.0,776.7 L1022.0,777.1 L1024.0,777.6 L1026.0,778.1 L1028.0,778.5 L1030.0,779.0 L1032.0,779.4 L1034.0,779.9 L1036.0,780.4 L1038.0,780.8 L1040.0,781.3 L1042.0,781.7 L1044.0,782.1 L1046.0,782.6 L1048.0,783.0 L1050.0,783.4 L1052.0,783.8 L1054.0,784.3 L1056.0,784.7 L1058.0,785.1 L1060.0,785.5 L1062.0,785.8 L1064.0,786.2 L1066.0,786.6 L1068.0,786.9 L1070.0,787.3 L1072.0,787.6 L1074.0,788.0 L1076.0,788.3 L1078.0,788.6 L1080.0,788.9 L1082.0,789.2 L1084.0,789.5 L1086.0,789.8 L1088.0,790.1 L1090.0,790.4 L1092.0,790.7 L1094.0,791.0 L1096.0,791.2 L1098.0,791.5 L1100.0,791.8 L1102.0,792.1 L1104.0,792.3 L1106.0,792.6 L1108.0,792.9 L1110.0,793.2 L1112.0,793.4 L1114.0,793.7 L1116.0,794.0 L1118.0,794.3 L1120.0,794.6 L1122.0,794.9 L1124.0,795.2 L1126.0,795.5 L1128.0,795.8 L1130.0,796.1 L1132.0,796.5 L1134.0,796.8 L1136.0,797.1 L1138.0,797.5 L1140.0,797.8 L1142.0,798.1 L1144.0,798.5 L1146.0,798.8 L1148.0,799.1 L1150.0,799.4 L1152.0,799.7 L1154.0,800.0 L1156.0,800.3 L1158.0,800.6 L1160.0,800.8 L1162.0,801.1 L1164.0,801.3 L1166.0,801.5 L1168.0,801.7 L1170.0,801.8 L1172.0,802.0 L1174.0,802.2 L1176.0,802.3 L1178.0,802.5 L1180.0,802.6 L1182.0,802.8 L1184.0,802.9 L1186.0,803.0 L1188.0,803.2 L1190.0,803.3 L1192.0,803.5 L1194.0,803.6 L1196.0,803.7 L1198.0,803.9 L1200.0,804.0 L1202.0,804.1 L1204.0,804.2 L1206.0,804.3 L1208.0,804.4 L1210.0,804.5 L1212.0,804.6 L1214.0,804.7 L1216.0,804.8 L1218.0,804.9 L1220.0,805.0 L1222.0,805.0 L1224.0,805.1 L1226.0,805.2 L1228.0,805.2 L1230.0,805.3 L1232.0,805.3 L1234.0,805.3 L1236.0,805.4 L1238.0,805.4 L1240.0,805.4" stroke="#4b4b4b" stroke-width="5.5"/>
<path d="M253.0,-19.1 L253.5,-7.9 L254.0,3.4 L254.5,14.7 L255.0,26.0 L255.5,37.3 L256.0,48.6 L256.5,59.9 L257.0,71.1 L257.5,82.3 L258.0,93.5 L258.5,104.7 L259.0,116.1 L259.5,127.6 L260.0,139.3 L260.5,151.0 L261.0,162.6 L261.5,174.1 L262.0,185.5 L262.5,196.6 L263.0,207.4 L263.5,217.8 L264.0,227.7 L264.5,237.2 L265.0,246.2 L265.5,254.9 L266.0,263.1 L266.5,270.8 L267.0,277.9 L267.5,284.7 L268.0,291.2 L268.5,297.3 L269.0,303.2 L269.5,308.7 L270.0,313.8 L270.5,318.4 L271.0,323.0 L271.5,327.5 L272.0,331.9 L272.5,336.1 L273.0,340.2 L273.5,344.0 L274.0,347.6 L274.5,350.9 L275.0,353.8 L275.5,356.4 L276.0,358.6 L276.5,360.5 L277.0,362.2 L277.5,363.8 L278.0,365.3 L278.5,366.7 L279.0,368.0 L279.5,369.2 L280.0,370.3 L280.5,371.3 L281.0,372.2 L281.5,373.0 L282.0,373.8 L282.5,374.5 L283.0,375.3 L283.5,376.0 L284.0,376.7 L284.5,377.3 L285.0,377.9 L285.5,378.5 L286.0,378.9 L286.5,379.3 L287.0,379.5 L287.5,379.7 L288.0,379.8 L288.5,379.8 L289.0,379.7 L289.5,379.5 L290.0,379.3 L290.5,379.0 L291.0,378.7 L291.5,378.3 L292.0,377.9 L292.5,377.4 L293.0,376.9 L293.5,376.4 L294.0,375.9 L294.5,375.3 L295.0,374.8 L295.5,374.2 L296.0,373.6 L296.5,373.0 L297.0,372.4 L297.5,371.6 L298.0,370.9 L298.5,370.0 L299.0,369.1 L299.5,368.1 L300.0,367.1 L300.8,365.5 L301.5,363.8 L302.2,362.0 L303.0,360.3 L303.8,358.5 L304.5,356.7 L305.2,354.9 L306.0,353.1 L306.8,351.3 L307.5,349.5 L308.2,347.7 L309.0,345.8 L309.8,343.9 L310.5,341.9 L311.2,339.9 L312.0,337.8 L312.8,335.6 L313.5,333.4 L314.2,331.1 L315.0,328.6 L315.8,326.1 L316.5,323.5 L317.2,320.7 L318.0,317.6 L318.8,314.3 L319.5,310.7 L320.2,307.0 L321.0,303.2 L321.8,299.2 L322.5,295.2 L323.2,291.2 L324.0,286.9 L324.8,282.2 L325.5,277.4 L326.2,272.7 L327.0,268.3 L327.8,264.3 L328.5,260.8 L329.2,257.4 L330.0,254.4 L330.8,251.8 L331.5,249.5 L332.2,247.3 L333.0,245.6 L333.8,245.0 L334.5,245.3 L335.2,246.2 L336.0,247.3 L336.8,248.8 L337.5,251.3 L338.2,254.8 L339.0,259.0 L339.8,263.7 L340.5,269.0 L341.2,276.0 L342.0,284.1 L342.8,292.6 L343.5,300.7 L344.2,308.2 L345.0,315.8 L345.8,323.7 L346.5,332.1 L347.2,341.4 L348.0,351.8 L348.8,363.1 L349.5,374.8 L350.2,386.3 L351.0,397.1 L351.8,407.9 L352.5,418.6 L353.2,428.1 L354.0,435.5 L354.8,441.8 L355.5,447.7 L356.2,453.5 L357.0,459.6 L357.8,465.7 L358.5,471.7 L359.2,477.6 L360.0,483.5 L360.8,489.3 L361.5,495.1 L362.2,500.7 L363.0,506.2 L363.8,511.6 L364.5,516.9 L365.2,522.2 L366.0,527.5 L366.8,532.9 L367.5,538.3 L368.2,543.6 L369.0,548.6 L369.8,553.3 L370.5,557.6 L371.2,561.8 L372.0,565.7 L372.8,569.5 L373.5,573.2 L374.2,576.7 L375.0,580.2 L375.8,583.6 L376.5,587.0 L377.2,590.3 L378.0,593.7 L378.8,597.0 L379.5,600.2 L380.2,603.3 L381.0,606.3 L381.8,609.1 L382.5,611.9 L383.2,614.5 L384.0,617.1 L384.8,619.7 L385.5,622.1 L386.2,624.3 L387.0,626.3 L387.8,628.1 L388.5,629.9 L389.2,631.5 L390.0,633.0 L390.8,634.3 L391.5,635.6 L392.2,636.7 L393.0,637.8 L393.8,638.8 L394.5,639.8 L395.2,640.7 L396.0,641.6 L396.8,642.5 L397.5,643.4 L398.2,644.2 L399.0,645.0 L399.8,645.7 L400.0,646.0 L402.0,647.8 L404.0,649.4 L406.0,651.0 L408.0,652.6 L410.0,654.0 L412.0,655.3 L414.0,656.6 L416.0,657.9 L418.0,659.2 L420.0,660.6 L422.0,661.6 L424.0,662.6 L426.0,663.6 L428.0,664.6 L430.0,665.8 L432.0,667.0 L434.0,668.3 L436.0,669.7 L438.0,671.1 L440.0,672.4 L442.0,673.5 L444.0,674.7 L446.0,675.8 L448.0,676.9 L450.0,677.9 L452.0,678.8 L454.0,679.5 L456.0,680.1 L458.0,680.5 L460.0,680.8 L462.0,681.7 L464.0,682.4 L466.0,683.1 L468.0,683.7 L470.0,684.2 L472.0,684.7 L474.0,685.3 L476.0,685.8 L478.0,686.3 L480.0,686.9 L482.0,687.6 L484.0,688.3 L486.0,689.0 L488.0,689.8 L490.0,690.6 L492.0,691.3 L494.0,692.1 L496.0,693.0 L498.0,693.8 L500.0,694.7 L502.0,695.8 L504.0,697.0 L506.0,698.2 L508.0,699.4 L510.0,700.7 L512.0,701.9 L514.0,703.2 L516.0,704.5 L518.0,705.8 L520.0,707.0 L522.0,708.1 L524.0,709.2 L526.0,710.3 L528.0,711.3 L530.0,712.2 L532.0,713.1 L534.0,713.9 L536.0,714.7 L538.0,715.4 L540.0,716.0 L542.0,716.7 L544.0,717.3 L546.0,717.9 L548.0,718.4 L550.0,718.8 L552.0,719.2 L554.0,719.5 L556.0,719.8 L558.0,720.1 L560.0,720.3 L562.0,720.6 L564.0,720.8 L566.0,721.0 L568.0,721.1 L570.0,721.3 L572.0,721.4 L574.0,721.5 L576.0,721.6 L578.0,721.7 L580.0,721.6 L582.0,721.5 L584.0,721.4 L586.0,721.2 L588.0,720.9 L590.0,720.7 L592.0,720.4 L594.0,720.1 L596.0,719.8 L598.0,719.5 L600.0,719.3 L602.0,719.1 L604.0,718.8 L606.0,718.5 L608.0,718.2 L610.0,717.9 L612.0,717.6 L614.0,717.2 L616.0,716.8 L618.0,716.4 L620.0,716.0 L622.0,715.6 L624.0,715.1 L626.0,714.7 L628.0,714.2 L630.0,713.8 L632.0,713.4 L634.0,713.0 L636.0,712.5 L638.0,712.2 L640.0,711.8 L642.0,711.4 L644.0,711.1 L646.0,710.7 L648.0,710.2 L650.0,709.8 L652.0,709.3 L654.0,708.9 L656.0,708.4 L658.0,708.0 L660.0,707.6 L662.0,707.2 L664.0,706.8 L666.0,706.4 L668.0,706.0 L670.0,705.7 L672.0,705.3 L674.0,705.0 L676.0,704.6 L678.0,704.3 L680.0,704.0 L682.0,703.7 L684.0,703.3 L686.0,702.9 L688.0,702.6 L690.0,702.2 L692.0,701.9 L694.0,701.6 L696.0,701.3 L698.0,701.1 L700.0,700.9 L702.0,700.7 L704.0,700.6 L706.0,700.6 L708.0,700.6 L710.0,700.6 L712.0,700.7 L714.0,700.7 L716.0,700.7 L718.0,700.8 L720.0,700.8 L722.0,700.9 L724.0,701.0 L726.0,701.0 L728.0,701.1 L730.0,701.2 L732.0,701.0 L734.0,700.9 L736.0,700.8 L738.0,700.8 L740.0,700.7 L742.0,700.7 L744.0,700.8 L746.0,700.8 L748.0,700.9 L750.0,701.0 L752.0,701.1 L754.0,701.3 L756.0,701.4 L758.0,701.6 L760.0,701.8 L762.0,701.9 L764.0,702.1 L766.0,702.3 L768.0,702.5 L770.0,702.7 L772.0,702.9 L774.0,703.1 L776.0,703.3 L778.0,703.5 L780.0,703.6 L782.0,703.8 L784.0,704.2 L786.0,704.7 L788.0,705.1 L790.0,705.6 L792.0,706.0 L794.0,706.4 L796.0,706.9 L798.0,707.3 L800.0,707.7 L802.0,708.2 L804.0,708.6 L806.0,709.1 L808.0,709.5 L810.0,710.0 L812.0,710.4 L814.0,710.9 L816.0,711.4 L818.0,711.8 L820.0,712.3 L822.0,712.8 L824.0,713.3 L826.0,713.8 L828.0,714.3 L830.0,714.8 L832.0,715.3 L834.0,715.9 L836.0,716.3 L838.0,716.7 L840.0,717.2 L842.0,717.6 L844.0,718.1 L846.0,718.5 L848.0,719.0 L850.0,719.5 L852.0,720.0 L854.0,720.5 L856.0,721.0 L858.0,721.6 L860.0,722.1 L862.0,722.6 L864.0,723.2 L866.0,723.8 L868.0,724.3 L870.0,724.9 L872.0,725.5 L874.0,726.1 L876.0,726.7 L878.0,727.3 L880.0,727.9 L882.0,728.5 L884.0,729.1 L886.0,729.8 L888.0,730.3 L890.0,730.8 L892.0,731.4 L894.0,732.0 L896.0,732.7 L898.0,733.3 L900.0,734.0 L902.0,734.7 L904.0,735.4 L906.0,736.1 L908.0,736.8 L910.0,737.5 L912.0,738.3 L914.0,739.0 L916.0,739.7 L918.0,740.5 L920.0,741.2 L922.0,741.9 L924.0,742.6 L926.0,743.3 L928.0,744.0 L930.0,744.7 L932.0,745.5 L934.0,746.3 L936.0,747.2 L938.0,748.0 L940.0,748.8 L942.0,749.6 L944.0,750.4 L946.0,751.2 L948.0,752.0 L950.0,752.8 L952.0,753.6 L954.0,754.4 L956.0,755.1 L958.0,755.9 L960.0,756.6 L962.0,757.3 L964.0,758.0 L966.0,758.7 L968.0,759.4 L970.0,760.1 L972.0,760.7 L974.0,761.3 L976.0,761.9 L978.0,762.5 L980.0,763.1 L982.0,763.7 L984.0,764.3 L986.0,764.9 L988.0,765.5 L990.0,766.0 L992.0,766.6 L994.0,767.1 L996.0,767.6 L998.0,768.2 L1000.0,768.7 L1002.0,769.2 L1004.0,769.8 L1006.0,770.3 L1008.0,770.8 L1010.0,771.3 L1012.0,771.8 L1014.0,772.3 L1016.0,772.8 L1018.0,773.3 L1020.0,773.8 L1022.0,774.3 L1024.0,774.8 L1026.0,775.3 L1028.0,775.8 L1030.0,776.3 L1032.0,776.8 L1034.0,777.3 L1036.0,777.8 L1038.0,778.3 L1040.0,778.8 L1042.0,779.2 L1044.0,779.7 L1046.0,780.2 L1048.0,780.7 L1050.0,781.1 L1052.0,781.6 L1054.0,782.0 L1056.0,782.5 L1058.0,782.9 L1060.0,783.3 L1062.0,783.7 L1064.0,784.1 L1066.0,784.5 L1068.0,784.9 L1070.0,785.3 L1072.0,785.7 L1074.0,786.0 L1076.0,786.4 L1078.0,786.7 L1080.0,787.1 L1082.0,787.4 L1084.0,787.7 L1086.0,788.0 L1088.0,788.3 L1090.0,788.7 L1092.0,789.0 L1094.0,789.3 L1096.0,789.6 L1098.0,789.9 L1100.0,790.2 L1102.0,790.4 L1104.0,790.7 L1106.0,791.0 L1108.0,791.3 L1110.0,791.6 L1112.0,791.9 L1114.0,792.2 L1116.0,792.5 L1118.0,792.8 L1120.0,793.1 L1122.0,793.5 L1124.0,793.8 L1126.0,794.1 L1128.0,794.5 L1130.0,794.8 L1132.0,795.2 L1134.0,795.6 L1136.0,795.9 L1138.0,796.3 L1140.0,796.6 L1142.0,797.0 L1144.0,797.4 L1146.0,797.7 L1148.0,798.1 L1150.0,798.4 L1152.0,798.7 L1154.0,799.0 L1156.0,799.3 L1158.0,799.6 L1160.0,799.9 L1162.0,800.2 L1164.0,800.4 L1166.0,800.6 L1168.0,800.8 L1170.0,801.0 L1172.0,801.2 L1174.0,801.3 L1176.0,801.5 L1178.0,801.6 L1180.0,801.8 L1182.0,802.0 L1184.0,802.1 L1186.0,802.3 L1188.0,802.4 L1190.0,802.6 L1192.0,802.7 L1194.0,802.9 L1196.0,803.0 L1198.0,803.1 L1200.0,803.3 L1202.0,803.4 L1204.0,803.5 L1206.0,803.6 L1208.0,803.7 L1210.0,803.9 L1212.0,804.0 L1214.0,804.1 L1216.0,804.2 L1218.0,804.2 L1220.0,804.3 L1222.0,804.4 L1224.0,804.5 L1226.0,804.5 L1228.0,804.6 L1230.0,804.6 L1232.0,804.7 L1234.0,804.7 L1236.0,804.7 L1238.0,804.7 L1240.0,804.7" stroke="#b265e3" stroke-width="5.5"/>
<path d="M255.0,-11.2 L255.5,1.1 L256.0,13.3 L256.5,25.5 L257.0,37.7 L257.5,50.0 L258.0,62.1 L258.5,74.4 L259.0,86.9 L259.5,99.6 L260.0,112.4 L260.5,125.2 L261.0,138.1 L261.5,150.8 L262.0,163.3 L262.5,175.5 L263.0,187.4 L263.5,198.8 L264.0,209.7 L264.5,220.0 L265.0,229.9 L265.5,239.4 L266.0,248.4 L266.5,256.7 L267.0,264.3 L267.5,271.6 L268.0,278.6 L268.5,285.3 L269.0,291.5 L269.5,297.4 L270.0,302.8 L270.5,307.7 L271.0,312.5 L271.5,317.3 L272.0,321.9 L272.5,326.4 L273.0,330.7 L273.5,334.7 L274.0,338.5 L274.5,341.9 L275.0,345.0 L275.5,347.7 L276.0,349.9 L276.5,351.8 L277.0,353.5 L277.5,355.2 L278.0,356.7 L278.5,358.1 L279.0,359.3 L279.5,360.5 L280.0,361.6 L280.5,362.6 L281.0,363.5 L281.5,364.3 L282.0,365.1 L282.5,365.8 L283.0,366.5 L283.5,367.2 L284.0,367.9 L284.5,368.6 L285.0,369.2 L285.5,369.7 L286.0,370.2 L286.5,370.6 L287.0,370.8 L287.5,371.0 L288.0,371.0 L288.5,371.0 L289.0,370.8 L289.5,370.6 L290.0,370.3 L290.5,370.0 L291.0,369.6 L291.5,369.1 L292.0,368.6 L292.5,368.1 L293.0,367.6 L293.5,367.0 L294.0,366.4 L294.5,365.7 L295.0,365.1 L295.5,364.5 L296.0,363.8 L296.5,363.2 L297.0,362.4 L297.5,361.6 L298.0,360.7 L298.5,359.8 L299.0,358.8 L299.5,357.7 L300.0,356.6 L300.8,354.8 L301.5,353.0 L302.2,351.2 L303.0,349.2 L303.8,347.3 L304.5,345.4 L305.2,343.5 L306.0,341.6 L306.8,339.7 L307.5,337.7 L308.2,335.8 L309.0,333.8 L309.8,331.7 L310.5,329.6 L311.2,327.4 L312.0,325.1 L312.8,322.7 L313.5,320.3 L314.2,317.7 L315.0,315.0 L315.8,312.3 L316.5,309.4 L317.2,306.2 L318.0,302.7 L318.8,298.9 L319.5,294.9 L320.2,290.6 L321.0,286.2 L321.8,281.7 L322.5,277.2 L323.2,272.6 L324.0,267.5 L324.8,262.1 L325.5,256.5 L326.2,251.0 L327.0,245.8 L327.8,241.1 L328.5,237.0 L329.2,233.1 L330.0,229.5 L330.8,226.5 L331.5,223.9 L332.2,221.4 L333.0,219.5 L333.8,219.0 L334.5,219.6 L335.2,220.9 L336.0,222.4 L336.8,224.2 L337.5,227.2 L338.2,231.2 L339.0,236.1 L339.8,241.5 L340.5,247.7 L341.2,255.8 L342.0,265.0 L342.8,274.7 L343.5,283.8 L344.2,292.1 L345.0,300.3 L345.8,308.7 L346.5,317.6 L347.2,327.6 L348.0,339.0 L348.8,351.4 L349.5,364.3 L350.2,376.9 L351.0,388.9 L351.8,400.7 L352.5,412.4 L353.2,422.5 L354.0,429.8 L354.8,435.8 L355.5,441.1 L356.2,446.5 L357.0,452.3 L357.8,458.1 L358.5,463.9 L359.2,469.6 L360.0,475.3 L360.8,481.0 L361.5,486.7 L362.2,492.4 L363.0,498.0 L363.8,503.5 L364.5,509.0 L365.2,514.5 L366.0,520.1 L366.8,525.9 L367.5,531.7 L368.2,537.4 L369.0,542.7 L369.8,547.8 L370.5,552.3 L371.2,556.6 L372.0,560.8 L372.8,564.7 L373.5,568.5 L374.2,572.2 L375.0,575.8 L375.8,579.3 L376.5,582.8 L377.2,586.2 L378.0,589.7 L378.8,593.1 L379.5,596.5 L380.2,599.7 L381.0,602.8 L381.8,605.8 L382.5,608.6 L383.2,611.4 L384.0,614.1 L384.8,616.6 L385.5,619.1 L386.2,621.3 L387.0,623.4 L387.8,625.3 L388.5,627.1 L389.2,628.7 L390.0,630.2 L390.8,631.6 L391.5,632.8 L392.2,633.8 L393.0,634.9 L393.8,635.8 L394.5,636.7 L395.2,637.6 L396.0,638.5 L396.8,639.3 L397.5,640.1 L398.2,640.8 L399.0,641.5 L399.8,642.3 L400.0,642.5 L402.0,644.1 L404.0,645.6 L406.0,647.1 L408.0,648.5 L410.0,649.8 L412.0,651.1 L414.0,652.3 L416.0,653.5 L418.0,654.7 L420.0,656.0 L422.0,657.0 L424.0,658.1 L426.0,659.2 L428.0,660.3 L430.0,661.5 L432.0,662.8 L434.0,664.2 L436.0,665.6 L438.0,667.1 L440.0,668.5 L442.0,669.6 L444.0,670.8 L446.0,671.9 L448.0,673.0 L450.0,674.0 L452.0,674.8 L454.0,675.6 L456.0,676.2 L458.0,676.7 L460.0,677.0 L462.0,677.9 L464.0,678.7 L466.0,679.5 L468.0,680.1 L470.0,680.8 L472.0,681.4 L474.0,682.0 L476.0,682.6 L478.0,683.3 L480.0,684.0 L482.0,684.4 L484.0,684.8 L486.0,685.3 L488.0,685.8 L490.0,686.2 L492.0,686.7 L494.0,687.3 L496.0,687.8 L498.0,688.4 L500.0,689.0 L502.0,690.2 L504.0,691.3 L506.0,692.6 L508.0,693.8 L510.0,695.0 L512.0,696.3 L514.0,697.6 L516.0,698.9 L518.0,700.2 L520.0,701.5 L522.0,702.8 L524.0,704.0 L526.0,705.2 L528.0,706.4 L530.0,707.5 L532.0,708.5 L534.0,709.5 L536.0,710.4 L538.0,711.2 L540.0,712.0 L542.0,712.6 L544.0,713.2 L546.0,713.7 L548.0,714.1 L550.0,714.4 L552.0,714.7 L554.0,714.9 L556.0,715.1 L558.0,715.3 L560.0,715.5 L562.0,715.6 L564.0,715.7 L566.0,715.8 L568.0,715.9 L570.0,716.0 L572.0,716.0 L574.0,716.0 L576.0,716.0 L578.0,716.0 L580.0,715.9 L582.0,715.8 L584.0,715.5 L586.0,715.2 L588.0,714.9 L590.0,714.5 L592.0,714.1 L594.0,713.7 L596.0,713.3 L598.0,713.0 L600.0,712.6 L602.0,712.3 L604.0,712.0 L606.0,711.6 L608.0,711.2 L610.0,710.8 L612.0,710.3 L614.0,709.9 L616.0,709.4 L618.0,708.9 L620.0,708.4 L622.0,707.8 L624.0,707.3 L626.0,706.8 L628.0,706.2 L630.0,705.7 L632.0,705.1 L634.0,704.6 L636.0,704.1 L638.0,703.6 L640.0,703.1 L642.0,702.6 L644.0,702.2 L646.0,701.7 L648.0,701.1 L650.0,700.6 L652.0,700.0 L654.0,699.5 L656.0,699.0 L658.0,698.4 L660.0,697.9 L662.0,697.4 L664.0,696.9 L666.0,696.4 L668.0,695.9 L670.0,695.5 L672.0,695.0 L674.0,694.6 L676.0,694.2 L678.0,693.8 L680.0,693.4 L682.0,693.0 L684.0,692.7 L686.0,692.3 L688.0,691.9 L690.0,691.5 L692.0,691.2 L694.0,690.9 L696.0,690.6 L698.0,690.3 L700.0,690.1 L702.0,690.0 L704.0,689.9 L706.0,689.9 L708.0,689.9 L710.0,690.0 L712.0,690.0 L714.0,690.1 L716.0,690.3 L718.0,690.4 L720.0,690.6 L722.0,690.7 L724.0,690.9 L726.0,691.0 L728.0,691.2 L730.0,691.4 L732.0,691.3 L734.0,691.2 L736.0,691.2 L738.0,691.2 L740.0,691.2 L742.0,691.3 L744.0,691.4 L746.0,691.5 L748.0,691.7 L750.0,691.8 L752.0,692.0 L754.0,692.2 L756.0,692.5 L758.0,692.7 L760.0,692.9 L762.0,693.2 L764.0,693.5 L766.0,693.8 L768.0,694.0 L770.0,694.3 L772.0,694.6 L774.0,694.8 L776.0,695.1 L778.0,695.3 L780.0,695.6 L782.0,695.8 L784.0,696.2 L786.0,696.5 L788.0,696.9 L790.0,697.3 L792.0,697.7 L794.0,698.0 L796.0,698.4 L798.0,698.8 L800.0,699.2 L802.0,699.6 L804.0,699.9 L806.0,700.3 L808.0,700.7 L810.0,701.1 L812.0,701.5 L814.0,701.9 L816.0,702.4 L818.0,702.8 L820.0,703.2 L822.0,703.7 L824.0,704.1 L826.0,704.6 L828.0,705.0 L830.0,705.5 L832.0,706.0 L834.0,706.5 L836.0,707.1 L838.0,707.7 L840.0,708.3 L842.0,708.9 L844.0,709.6 L846.0,710.2 L848.0,710.9 L850.0,711.6 L852.0,712.3 L854.0,712.9 L856.0,713.6 L858.0,714.3 L860.0,715.1 L862.0,715.8 L864.0,716.5 L866.0,717.2 L868.0,718.0 L870.0,718.7 L872.0,719.5 L874.0,720.3 L876.0,721.0 L878.0,721.8 L880.0,722.6 L882.0,723.4 L884.0,724.2 L886.0,725.0 L888.0,725.6 L890.0,726.2 L892.0,726.9 L894.0,727.6 L896.0,728.3 L898.0,729.0 L900.0,729.8 L902.0,730.6 L904.0,731.3 L906.0,732.1 L908.0,732.9 L910.0,733.8 L912.0,734.6 L914.0,735.4 L916.0,736.2 L918.0,737.0 L920.0,737.8 L922.0,738.6 L924.0,739.4 L926.0,740.2 L928.0,740.9 L930.0,741.7 L932.0,742.6 L934.0,743.4 L936.0,744.3 L938.0,745.2 L940.0,746.0 L942.0,746.9 L944.0,747.7 L946.0,748.6 L948.0,749.4 L950.0,750.2 L952.0,751.0 L954.0,751.8 L956.0,752.6 L958.0,753.4 L960.0,754.2 L962.0,754.9 L964.0,755.7 L966.0,756.4 L968.0,757.1 L970.0,757.8 L972.0,758.4 L974.0,759.1 L976.0,759.7 L978.0,760.4 L980.0,761.0 L982.0,761.6 L984.0,762.2 L986.0,762.8 L988.0,763.4 L990.0,764.0 L992.0,764.6 L994.0,765.2 L996.0,765.7 L998.0,766.3 L1000.0,766.8 L1002.0,767.4 L1004.0,767.9 L1006.0,768.5 L1008.0,769.0 L1010.0,769.5 L1012.0,770.1 L1014.0,770.6 L1016.0,771.1 L1018.0,771.6 L1020.0,772.2 L1022.0,772.7 L1024.0,773.2 L1026.0,773.7 L1028.0,774.2 L1030.0,774.8 L1032.0,775.3 L1034.0,775.8 L1036.0,776.3 L1038.0,776.8 L1040.0,777.3 L1042.0,777.8 L1044.0,778.3 L1046.0,778.8 L1048.0,779.3 L1050.0,779.8 L1052.0,780.3 L1054.0,780.7 L1056.0,781.2 L1058.0,781.6 L1060.0,782.1 L1062.0,782.5 L1064.0,782.9 L1066.0,783.4 L1068.0,783.8 L1070.0,784.2 L1072.0,784.5 L1074.0,784.9 L1076.0,785.3 L1078.0,785.6 L1080.0,786.0 L1082.0,786.3 L1084.0,786.7 L1086.0,787.0 L1088.0,787.3 L1090.0,787.6 L1092.0,788.0 L1094.0,788.3 L1096.0,788.6 L1098.0,788.9 L1100.0,789.2 L1102.0,789.5 L1104.0,789.8 L1106.0,790.1 L1108.0,790.4 L1110.0,790.7 L1112.0,791.0 L1114.0,791.4 L1116.0,791.7 L1118.0,792.0 L1120.0,792.3 L1122.0,792.7 L1124.0,793.0 L1126.0,793.4 L1128.0,793.7 L1130.0,794.1 L1132.0,794.5 L1134.0,794.8 L1136.0,795.2 L1138.0,795.6 L1140.0,796.0 L1142.0,796.3 L1144.0,796.7 L1146.0,797.1 L1148.0,797.4 L1150.0,797.8 L1152.0,798.1 L1154.0,798.5 L1156.0,798.8 L1158.0,799.1 L1160.0,799.4 L1162.0,799.6 L1164.0,799.9 L1166.0,800.1 L1168.0,800.3 L1170.0,800.5 L1172.0,800.7 L1174.0,800.8 L1176.0,801.0 L1178.0,801.2 L1180.0,801.3 L1182.0,801.5 L1184.0,801.7 L1186.0,801.8 L1188.0,802.0 L1190.0,802.1 L1192.0,802.3 L1194.0,802.4 L1196.0,802.6 L1198.0,802.7 L1200.0,802.8 L1202.0,803.0 L1204.0,803.1 L1206.0,803.2 L1208.0,803.4 L1210.0,803.5 L1212.0,803.6 L1214.0,803.7 L1216.0,803.8 L1218.0,803.9 L1220.0,803.9 L1222.0,804.0 L1224.0,804.1 L1226.0,804.2 L1228.0,804.2 L1230.0,804.3 L1232.0,804.3 L1234.0,804.3 L1236.0,804.4 L1238.0,804.4 L1240.0,804.4" stroke="#ff6a12" stroke-width="5.5"/>
<path d="M254.0,-17.7 L254.5,-5.9 L255.0,5.9 L255.5,17.7 L256.0,29.5 L256.5,41.3 L257.0,53.1 L257.5,64.8 L258.0,76.5 L258.5,88.3 L259.0,100.3 L259.5,112.5 L260.0,124.8 L260.5,137.1 L261.0,149.3 L261.5,161.5 L262.0,173.5 L262.5,185.2 L263.0,196.6 L263.5,207.5 L264.0,218.0 L264.5,227.9 L265.0,237.4 L265.5,246.5 L266.0,255.2 L266.5,263.2 L267.0,270.6 L267.5,277.6 L268.0,284.4 L268.5,290.8 L269.0,296.9 L269.5,302.6 L270.0,307.8 L270.5,312.7 L271.0,317.4 L271.5,322.0 L272.0,326.5 L272.5,330.9 L273.0,335.0 L273.5,339.0 L274.0,342.6 L274.5,346.0 L275.0,349.0 L275.5,351.7 L276.0,353.9 L276.5,355.8 L277.0,357.5 L277.5,359.1 L278.0,360.6 L278.5,362.0 L279.0,363.3 L279.5,364.5 L280.0,365.6 L280.5,366.6 L281.0,367.5 L281.5,368.3 L282.0,369.1 L282.5,369.8 L283.0,370.5 L283.5,371.3 L284.0,372.0 L284.5,372.6 L285.0,373.2 L285.5,373.7 L286.0,374.2 L286.5,374.6 L287.0,374.8 L287.5,375.0 L288.0,375.1 L288.5,375.0 L289.0,374.9 L289.5,374.7 L290.0,374.5 L290.5,374.2 L291.0,373.8 L291.5,373.4 L292.0,372.9 L292.5,372.4 L293.0,371.9 L293.5,371.4 L294.0,370.8 L294.5,370.2 L295.0,369.6 L295.5,369.0 L296.0,368.4 L296.5,367.8 L297.0,367.1 L297.5,366.4 L298.0,365.5 L298.5,364.6 L299.0,363.6 L299.5,362.6 L300.0,361.6 L300.8,359.9 L301.5,358.1 L302.2,356.3 L303.0,354.5 L303.8,352.7 L304.5,350.8 L305.2,349.0 L306.0,347.1 L306.8,345.3 L307.5,343.4 L308.2,341.5 L309.0,339.6 L309.8,337.6 L310.5,335.5 L311.2,333.4 L312.0,331.3 L312.8,329.0 L313.5,326.7 L314.2,324.2 L315.0,321.7 L315.8,319.0 L316.5,316.3 L317.2,313.3 L318.0,310.0 L318.8,306.4 L319.5,302.7 L320.2,298.7 L321.0,294.6 L321.8,290.4 L322.5,286.1 L323.2,281.8 L324.0,277.1 L324.8,272.0 L325.5,266.9 L326.2,261.8 L327.0,257.0 L327.8,252.6 L328.5,248.8 L329.2,245.2 L330.0,241.9 L330.8,239.1 L331.5,236.7 L332.2,234.3 L333.0,232.6 L333.8,232.0 L334.5,232.4 L335.2,233.3 L336.0,234.5 L336.8,236.0 L337.5,238.6 L338.2,242.3 L339.0,246.8 L339.8,251.7 L340.5,257.4 L341.2,264.9 L342.0,273.5 L342.8,282.5 L343.5,291.1 L344.2,299.0 L345.0,306.8 L345.8,314.9 L346.5,323.6 L347.2,333.2 L348.0,344.1 L348.8,356.0 L349.5,368.4 L350.2,380.5 L351.0,392.0 L351.8,403.4 L352.5,414.7 L353.2,424.5 L354.0,431.8 L354.8,437.8 L355.5,443.4 L356.2,448.8 L357.0,454.7 L357.8,460.5 L358.5,466.3 L359.2,472.0 L360.0,477.8 L360.8,483.5 L361.5,489.1 L362.2,494.7 L363.0,500.2 L363.8,505.7 L364.5,511.0 L365.2,516.4 L366.0,522.0 L366.8,527.6 L367.5,533.3 L368.2,538.8 L369.0,544.0 L369.8,548.9 L370.5,553.4 L371.2,557.6 L372.0,561.7 L372.8,565.6 L373.5,569.3 L374.2,572.9 L375.0,576.5 L375.8,579.9 L376.5,583.4 L377.2,586.8 L378.0,590.2 L378.8,593.6 L379.5,596.9 L380.2,600.1 L381.0,603.2 L381.8,606.1 L382.5,608.9 L383.2,611.6 L384.0,614.3 L384.8,616.8 L385.5,619.2 L386.2,621.4 L387.0,623.4 L387.8,625.3 L388.5,627.1 L389.2,628.7 L390.0,630.2 L390.8,631.5 L391.5,632.7 L392.2,633.7 L393.0,634.7 L393.8,635.7 L394.5,636.5 L395.2,637.4 L396.0,638.2 L396.8,639.0 L397.5,639.7 L398.2,640.4 L399.0,641.1 L399.8,641.8 L400.0,642.0 L402.0,643.6 L404.0,645.1 L406.0,646.6 L408.0,648.0 L410.0,649.3 L412.0,650.6 L414.0,651.8 L416.0,653.0 L418.0,654.2 L420.0,655.5 L422.0,656.5 L424.0,657.6 L426.0,658.7 L428.0,659.8 L430.0,661.0 L432.0,662.3 L434.0,663.7 L436.0,665.1 L438.0,666.6 L440.0,668.0 L442.0,669.1 L444.0,670.3 L446.0,671.4 L448.0,672.5 L450.0,673.4 L452.0,674.3 L454.0,675.1 L456.0,675.7 L458.0,676.2 L460.0,676.5 L462.0,677.4 L464.0,678.1 L466.0,678.8 L468.0,679.4 L470.0,680.0 L472.0,680.6 L474.0,681.2 L476.0,681.7 L478.0,682.3 L480.0,683.0 L482.0,683.4 L484.0,683.8 L486.0,684.3 L488.0,684.7 L490.0,685.2 L492.0,685.7 L494.0,686.3 L496.0,686.8 L498.0,687.4 L500.0,688.0 L502.0,689.2 L504.0,690.4 L506.0,691.6 L508.0,692.9 L510.0,694.2 L512.0,695.5 L514.0,696.8 L516.0,698.2 L518.0,699.5 L520.0,700.8 L522.0,702.1 L524.0,703.4 L526.0,704.6 L528.0,705.8 L530.0,706.9 L532.0,707.9 L534.0,708.9 L536.0,709.9 L538.0,710.7 L540.0,711.5 L542.0,712.0 L544.0,712.5 L546.0,713.0 L548.0,713.4 L550.0,713.6 L552.0,713.8 L554.0,714.0 L556.0,714.1 L558.0,714.2 L560.0,714.3 L562.0,714.4 L564.0,714.5 L566.0,714.5 L568.0,714.5 L570.0,714.5 L572.0,714.5 L574.0,714.4 L576.0,714.5 L578.0,714.6 L580.0,714.6 L582.0,714.5 L584.0,714.3 L586.0,714.1 L588.0,713.9 L590.0,713.6 L592.0,713.3 L594.0,713.0 L596.0,712.7 L598.0,712.5 L600.0,712.2 L602.0,712.0 L604.0,711.8 L606.0,711.5 L608.0,711.2 L610.0,710.9 L612.0,710.6 L614.0,710.2 L616.0,709.8 L618.0,709.4 L620.0,708.9 L622.0,708.5 L624.0,708.1 L626.0,707.6 L628.0,707.2 L630.0,706.7 L632.0,706.3 L634.0,705.9 L636.0,705.4 L638.0,705.1 L640.0,704.7 L642.0,704.3 L644.0,704.0 L646.0,703.4 L648.0,702.7 L650.0,702.0 L652.0,701.3 L654.0,700.7 L656.0,700.0 L658.0,699.3 L660.0,698.7 L662.0,698.0 L664.0,697.4 L666.0,696.8 L668.0,696.1 L670.0,695.5 L672.0,694.9 L674.0,694.4 L676.0,693.8 L678.0,693.2 L680.0,692.8 L682.0,692.4 L684.0,692.0 L686.0,691.6 L688.0,691.2 L690.0,690.8 L692.0,690.4 L694.0,690.0 L696.0,689.7 L698.0,689.4 L700.0,689.2 L702.0,689.0 L704.0,688.9 L706.0,688.9 L708.0,688.9 L710.0,688.9 L712.0,689.0 L714.0,689.0 L716.0,689.0 L718.0,689.1 L720.0,689.1 L722.0,689.2 L724.0,689.3 L726.0,689.3 L728.0,689.4 L730.0,689.5 L732.0,689.4 L734.0,689.3 L736.0,689.2 L738.0,689.2 L740.0,689.2 L742.0,689.3 L744.0,689.3 L746.0,689.5 L748.0,689.6 L750.0,689.7 L752.0,689.9 L754.0,690.1 L756.0,690.3 L758.0,690.6 L760.0,690.8 L762.0,691.0 L764.0,691.3 L766.0,691.6 L768.0,691.8 L770.0,692.1 L772.0,692.3 L774.0,692.6 L776.0,692.8 L778.0,693.1 L780.0,693.3 L782.0,693.5 L784.0,693.9 L786.0,694.2 L788.0,694.6 L790.0,695.0 L792.0,695.3 L794.0,695.7 L796.0,696.0 L798.0,696.4 L800.0,696.8 L802.0,697.2 L804.0,697.5 L806.0,697.9 L808.0,698.3 L810.0,698.7 L812.0,699.1 L814.0,699.5 L816.0,699.9 L818.0,700.3 L820.0,700.8 L822.0,701.2 L824.0,701.6 L826.0,702.1 L828.0,702.5 L830.0,703.0 L832.0,703.5 L834.0,704.0 L836.0,704.6 L838.0,705.2 L840.0,705.8 L842.0,706.4 L844.0,707.1 L846.0,707.7 L848.0,708.4 L850.0,709.1 L852.0,709.8 L854.0,710.4 L856.0,711.1 L858.0,711.9 L860.0,712.6 L862.0,713.3 L864.0,714.0 L866.0,714.8 L868.0,715.5 L870.0,716.3 L872.0,717.0 L874.0,717.8 L876.0,718.6 L878.0,719.4 L880.0,720.2 L882.0,721.0 L884.0,721.8 L886.0,722.6 L888.0,723.2 L890.0,723.9 L892.0,724.6 L894.0,725.3 L896.0,726.1 L898.0,726.9 L900.0,727.7 L902.0,728.5 L904.0,729.3 L906.0,730.2 L908.0,731.0 L910.0,731.9 L912.0,732.7 L914.0,733.6 L916.0,734.5 L918.0,735.3 L920.0,736.2 L922.0,737.0 L924.0,737.8 L926.0,738.6 L928.0,739.4 L930.0,740.2 L932.0,741.1 L934.0,742.0 L936.0,742.9 L938.0,743.7 L940.0,744.6 L942.0,745.5 L944.0,746.4 L946.0,747.2 L948.0,748.1 L950.0,748.9 L952.0,749.7 L954.0,750.6 L956.0,751.4 L958.0,752.2 L960.0,753.0 L962.0,753.7 L964.0,754.5 L966.0,755.2 L968.0,755.9 L970.0,756.6 L972.0,757.3 L974.0,758.0 L976.0,758.7 L978.0,759.3 L980.0,759.9 L982.0,760.6 L984.0,761.2 L986.0,761.8 L988.0,762.4 L990.0,763.0 L992.0,763.6 L994.0,764.2 L996.0,764.8 L998.0,765.3 L1000.0,765.9 L1002.0,766.4 L1004.0,767.0 L1006.0,767.6 L1008.0,768.1 L1010.0,768.6 L1012.0,769.2 L1014.0,769.7 L1016.0,770.3 L1018.0,770.8 L1020.0,771.3 L1022.0,771.9 L1024.0,772.4 L1026.0,772.9 L1028.0,773.5 L1030.0,774.0 L1032.0,774.5 L1034.0,775.0 L1036.0,775.6 L1038.0,776.1 L1040.0,776.6 L1042.0,777.1 L1044.0,777.6 L1046.0,778.1 L1048.0,778.6 L1050.0,779.1 L1052.0,779.6 L1054.0,780.1 L1056.0,780.5 L1058.0,781.0 L1060.0,781.5 L1062.0,781.9 L1064.0,782.3 L1066.0,782.8 L1068.0,783.2 L1070.0,783.6 L1072.0,784.0 L1074.0,784.3 L1076.0,784.7 L1078.0,785.1 L1080.0,785.4 L1082.0,785.8 L1084.0,786.1 L1086.0,786.5 L1088.0,786.8 L1090.0,787.1 L1092.0,787.5 L1094.0,787.8 L1096.0,788.1 L1098.0,788.4 L1100.0,788.7 L1102.0,789.0 L1104.0,789.4 L1106.0,789.7 L1108.0,790.0 L1110.0,790.3 L1112.0,790.6 L1114.0,790.9 L1116.0,791.3 L1118.0,791.6 L1120.0,791.9 L1122.0,792.3 L1124.0,792.6 L1126.0,793.0 L1128.0,793.3 L1130.0,793.7 L1132.0,794.1 L1134.0,794.5 L1136.0,794.9 L1138.0,795.2 L1140.0,795.6 L1142.0,796.0 L1144.0,796.4 L1146.0,796.8 L1148.0,797.1 L1150.0,797.5 L1152.0,797.8 L1154.0,798.2 L1156.0,798.5 L1158.0,798.8 L1160.0,799.1 L1162.0,799.4 L1164.0,799.6 L1166.0,799.9 L1168.0,800.1 L1170.0,800.2 L1172.0,800.4 L1174.0,800.6 L1176.0,800.8 L1178.0,800.9 L1180.0,801.1 L1182.0,801.3 L1184.0,801.4 L1186.0,801.6 L1188.0,801.8 L1190.0,801.9 L1192.0,802.1 L1194.0,802.2 L1196.0,802.4 L1198.0,802.5 L1200.0,802.6 L1202.0,802.8 L1204.0,802.9 L1206.0,803.0 L1208.0,803.2 L1210.0,803.3 L1212.0,803.4 L1214.0,803.5 L1216.0,803.6 L1218.0,803.7 L1220.0,803.8 L1222.0,803.8 L1224.0,803.9 L1226.0,804.0 L1228.0,804.0 L1230.0,804.1 L1232.0,804.1 L1234.0,804.1 L1236.0,804.2 L1238.0,804.2 L1240.0,804.2" stroke="#5b98d3" stroke-width="5.5"/>
<path d="M256.5,-10.0 L257.0,3.2 L257.5,16.5 L258.0,29.7 L258.5,43.0 L259.0,56.7 L259.5,70.5 L260.0,84.6 L260.5,98.6 L261.0,112.7 L261.5,126.6 L262.0,140.3 L262.5,153.7 L263.0,166.6 L263.5,179.1 L264.0,191.1 L264.5,202.3 L265.0,213.1 L265.5,223.4 L266.0,233.1 L266.5,242.1 L267.0,250.3 L267.5,258.1 L268.0,265.6 L268.5,272.7 L269.0,279.4 L269.5,285.7 L270.0,291.4 L270.5,296.6 L271.0,301.7 L271.5,306.7 L272.0,311.6 L272.5,316.3 L273.0,320.8 L273.5,325.1 L274.0,329.0 L274.5,332.6 L275.0,335.8 L275.5,338.6 L276.0,341.0 L276.5,342.9 L277.0,344.6 L277.5,346.2 L278.0,347.7 L278.5,349.1 L279.0,350.4 L279.5,351.5 L280.0,352.6 L280.5,353.6 L281.0,354.5 L281.5,355.3 L282.0,356.1 L282.5,356.8 L283.0,357.5 L283.5,358.2 L284.0,358.9 L284.5,359.5 L285.0,360.1 L285.5,360.7 L286.0,361.1 L286.5,361.5 L287.0,361.8 L287.5,362.0 L288.0,362.1 L288.5,362.0 L289.0,361.9 L289.5,361.7 L290.0,361.5 L290.5,361.1 L291.0,360.8 L291.5,360.3 L292.0,359.9 L292.5,359.4 L293.0,358.8 L293.5,358.2 L294.0,357.6 L294.5,357.0 L295.0,356.4 L295.5,355.8 L296.0,355.2 L296.5,354.5 L297.0,353.8 L297.5,353.0 L298.0,352.1 L298.5,351.1 L299.0,350.1 L299.5,349.0 L300.0,347.9 L300.8,346.2 L301.5,344.4 L302.2,342.5 L303.0,340.6 L303.8,338.7 L304.5,336.8 L305.2,334.9 L306.0,333.1 L306.8,331.2 L307.5,329.2 L308.2,327.3 L309.0,325.2 L309.8,323.2 L310.5,321.0 L311.2,318.8 L312.0,316.5 L312.8,314.2 L313.5,311.7 L314.2,309.1 L315.0,306.4 L315.8,303.5 L316.5,300.6 L317.2,297.3 L318.0,293.7 L318.8,289.8 L319.5,285.5 L320.2,281.1 L321.0,276.5 L321.8,271.8 L322.5,267.0 L323.2,262.2 L324.0,256.9 L324.8,251.2 L325.5,245.4 L326.2,239.6 L327.0,234.1 L327.8,229.2 L328.5,224.9 L329.2,220.9 L330.0,217.3 L330.8,214.2 L331.5,211.6 L332.2,209.0 L333.0,207.3 L333.8,206.9 L334.5,207.3 L335.2,208.2 L336.0,209.4 L336.8,210.8 L337.5,213.4 L338.2,217.2 L339.0,221.9 L339.8,227.2 L340.5,233.4 L341.2,241.7 L342.0,251.3 L342.8,261.4 L343.5,270.8 L344.2,279.3 L345.0,287.6 L345.8,296.0 L346.5,305.0 L347.2,315.2 L348.0,327.1 L348.8,340.3 L349.5,354.0 L350.2,367.6 L351.0,380.4 L351.8,393.1 L352.5,405.7 L353.2,416.2 L354.0,423.3 L354.8,428.7 L355.5,433.3 L356.2,437.9 L357.0,443.1 L357.8,448.3 L358.5,453.6 L359.2,458.8 L360.0,464.1 L360.8,469.4 L361.5,474.7 L362.2,480.1 L363.0,485.5 L363.8,491.0 L364.5,496.5 L365.2,502.2 L366.0,508.1 L366.8,514.3 L367.5,520.5 L368.2,526.7 L369.0,532.5 L369.8,537.9 L370.5,542.6 L371.2,547.1 L372.0,551.4 L372.8,555.4 L373.5,559.3 L374.2,563.1 L375.0,566.8 L375.8,570.4 L376.5,573.9 L377.2,577.5 L378.0,581.0 L378.8,584.6 L379.5,588.1 L380.2,591.5 L381.0,594.8 L381.8,597.9 L382.5,600.8 L383.2,603.7 L384.0,606.4 L384.8,609.0 L385.5,611.4 L386.2,613.6 L387.0,615.6 L387.8,617.6 L388.5,619.4 L389.2,621.1 L390.0,622.5 L390.8,623.7 L391.5,624.6 L392.2,625.4 L393.0,626.1 L393.8,626.8 L394.5,627.4 L395.2,627.9 L396.0,628.4 L396.8,628.8 L397.5,629.3 L398.2,629.6 L399.0,630.0 L399.8,630.4 L400.0,630.5 L402.0,631.6 L404.0,632.7 L406.0,633.8 L408.0,634.9 L410.0,636.0 L412.0,637.0 L414.0,638.0 L416.0,639.0 L418.0,640.0 L420.0,641.0 L422.0,642.1 L424.0,643.2 L426.0,644.3 L428.0,645.5 L430.0,646.7 L432.0,648.0 L434.0,649.5 L436.0,650.9 L438.0,652.4 L440.0,653.8 L442.0,655.2 L444.0,656.6 L446.0,658.1 L448.0,659.5 L450.0,660.9 L452.0,662.3 L454.0,663.6 L456.0,664.7 L458.0,665.8 L460.0,666.7 L462.0,667.5 L464.0,668.2 L466.0,668.8 L468.0,669.3 L470.0,669.9 L472.0,670.4 L474.0,670.9 L476.0,671.5 L478.0,672.1 L480.0,672.8 L482.0,673.6 L484.0,674.4 L486.0,675.2 L488.0,676.1 L490.0,677.0 L492.0,677.9 L494.0,678.9 L496.0,679.9 L498.0,681.0 L500.0,682.0 L502.0,683.1 L504.0,684.1 L506.0,685.2 L508.0,686.4 L510.0,687.5 L512.0,688.7 L514.0,689.9 L516.0,691.1 L518.0,692.3 L520.0,693.5 L522.0,694.7 L524.0,695.8 L526.0,697.0 L528.0,698.0 L530.0,699.0 L532.0,699.9 L534.0,700.7 L536.0,701.5 L538.0,702.2 L540.0,702.8 L542.0,703.4 L544.0,704.0 L546.0,704.5 L548.0,704.9 L550.0,705.2 L552.0,705.4 L554.0,705.6 L556.0,705.8 L558.0,706.0 L560.0,706.2 L562.0,706.3 L564.0,706.5 L566.0,706.6 L568.0,706.7 L570.0,706.7 L572.0,706.8 L574.0,706.8 L576.0,706.8 L578.0,706.6 L580.0,706.4 L582.0,706.1 L584.0,705.7 L586.0,705.2 L588.0,704.7 L590.0,704.2 L592.0,703.6 L594.0,703.1 L596.0,702.5 L598.0,702.0 L600.0,701.5 L602.0,701.0 L604.0,700.5 L606.0,700.0 L608.0,699.4 L610.0,698.8 L612.0,698.2 L614.0,697.6 L616.0,696.9 L618.0,696.2 L620.0,695.5 L622.0,694.7 L624.0,694.0 L626.0,693.2 L628.0,692.5 L630.0,691.7 L632.0,691.0 L634.0,690.2 L636.0,689.5 L638.0,688.8 L640.0,688.1 L642.0,687.5 L644.0,686.8 L646.0,686.2 L648.0,685.6 L650.0,685.0 L652.0,684.4 L654.0,683.8 L656.0,683.2 L658.0,682.6 L660.0,682.0 L662.0,681.5 L664.0,680.9 L666.0,680.4 L668.0,679.9 L670.0,679.4 L672.0,678.9 L674.0,678.4 L676.0,677.9 L678.0,677.5 L680.0,677.0 L682.0,676.5 L684.0,675.9 L686.0,675.4 L688.0,674.8 L690.0,674.3 L692.0,673.7 L694.0,673.2 L696.0,672.8 L698.0,672.4 L700.0,672.0 L702.0,671.7 L704.0,671.5 L706.0,671.4 L708.0,671.3 L710.0,671.3 L712.0,671.2 L714.0,671.3 L716.0,671.5 L718.0,671.7 L720.0,672.0 L722.0,672.3 L724.0,672.5 L726.0,672.8 L728.0,673.1 L730.0,673.4 L732.0,673.5 L734.0,673.7 L736.0,674.0 L738.0,674.2 L740.0,674.5 L742.0,674.9 L744.0,675.3 L746.0,675.7 L748.0,676.1 L750.0,676.5 L752.0,677.0 L754.0,677.5 L756.0,678.0 L758.0,678.6 L760.0,679.1 L762.0,679.6 L764.0,680.2 L766.0,680.8 L768.0,681.3 L770.0,681.9 L772.0,682.4 L774.0,683.0 L776.0,683.5 L778.0,684.0 L780.0,684.5 L782.0,685.0 L784.0,685.5 L786.0,685.9 L788.0,686.4 L790.0,686.9 L792.0,687.4 L794.0,687.8 L796.0,688.3 L798.0,688.8 L800.0,689.3 L802.0,689.8 L804.0,690.2 L806.0,690.7 L808.0,691.2 L810.0,691.7 L812.0,692.2 L814.0,692.7 L816.0,693.3 L818.0,693.8 L820.0,694.3 L822.0,694.9 L824.0,695.4 L826.0,696.0 L828.0,696.5 L830.0,697.1 L832.0,697.7 L834.0,698.3 L836.0,698.9 L838.0,699.5 L840.0,700.1 L842.0,700.8 L844.0,701.4 L846.0,702.1 L848.0,702.7 L850.0,703.4 L852.0,704.1 L854.0,704.8 L856.0,705.5 L858.0,706.3 L860.0,707.0 L862.0,707.7 L864.0,708.5 L866.0,709.2 L868.0,710.0 L870.0,710.8 L872.0,711.6 L874.0,712.4 L876.0,713.1 L878.0,714.0 L880.0,714.8 L882.0,715.6 L884.0,716.4 L886.0,717.3 L888.0,718.2 L890.0,719.1 L892.0,720.1 L894.0,721.1 L896.0,722.1 L898.0,723.1 L900.0,724.2 L902.0,725.2 L904.0,726.3 L906.0,727.3 L908.0,728.4 L910.0,729.5 L912.0,730.6 L914.0,731.6 L916.0,732.7 L918.0,733.8 L920.0,734.8 L922.0,735.8 L924.0,736.8 L926.0,737.8 L928.0,738.8 L930.0,739.7 L932.0,740.6 L934.0,741.5 L936.0,742.4 L938.0,743.3 L940.0,744.2 L942.0,745.0 L944.0,745.9 L946.0,746.8 L948.0,747.6 L950.0,748.5 L952.0,749.3 L954.0,750.1 L956.0,751.0 L958.0,751.8 L960.0,752.6 L962.0,753.3 L964.0,754.1 L966.0,754.8 L968.0,755.6 L970.0,756.3 L972.0,756.9 L974.0,757.6 L976.0,758.3 L978.0,758.9 L980.0,759.6 L982.0,760.2 L984.0,760.8 L986.0,761.5 L988.0,762.1 L990.0,762.7 L992.0,763.3 L994.0,763.9 L996.0,764.4 L998.0,765.0 L1000.0,765.6 L1002.0,766.1 L1004.0,766.7 L1006.0,767.2 L1008.0,767.8 L1010.0,768.3 L1012.0,768.9 L1014.0,769.4 L1016.0,770.0 L1018.0,770.5 L1020.0,771.1 L1022.0,771.6 L1024.0,772.1 L1026.0,772.7 L1028.0,773.2 L1030.0,773.7 L1032.0,774.3 L1034.0,774.8 L1036.0,775.3 L1038.0,775.9 L1040.0,776.4 L1042.0,776.9 L1044.0,777.4 L1046.0,777.9 L1048.0,778.4 L1050.0,778.9 L1052.0,779.4 L1054.0,779.9 L1056.0,780.3 L1058.0,780.8 L1060.0,781.3 L1062.0,781.7 L1064.0,782.1 L1066.0,782.6 L1068.0,783.0 L1070.0,783.4 L1072.0,783.8 L1074.0,784.2 L1076.0,784.5 L1078.0,784.9 L1080.0,785.3 L1082.0,785.6 L1084.0,786.0 L1086.0,786.3 L1088.0,786.6 L1090.0,787.0 L1092.0,787.3 L1094.0,787.6 L1096.0,787.9 L1098.0,788.3 L1100.0,788.6 L1102.0,788.9 L1104.0,789.2 L1106.0,789.5 L1108.0,789.8 L1110.0,790.1 L1112.0,790.5 L1114.0,790.8 L1116.0,791.1 L1118.0,791.4 L1120.0,791.8 L1122.0,792.1 L1124.0,792.5 L1126.0,792.8 L1128.0,793.2 L1130.0,793.6 L1132.0,794.0 L1134.0,794.4 L1136.0,794.7 L1138.0,795.1 L1140.0,795.5 L1142.0,795.9 L1144.0,796.3 L1146.0,796.7 L1148.0,797.0 L1150.0,797.4 L1152.0,797.7 L1154.0,798.1 L1156.0,798.4 L1158.0,798.7 L1160.0,799.0 L1162.0,799.3 L1164.0,799.5 L1166.0,799.8 L1168.0,800.0 L1170.0,800.2 L1172.0,800.3 L1174.0,800.5 L1176.0,800.7 L1178.0,800.9 L1180.0,801.0 L1182.0,801.2 L1184.0,801.4 L1186.0,801.5 L1188.0,801.7 L1190.0,801.8 L1192.0,802.0 L1194.0,802.1 L1196.0,802.3 L1198.0,802.4 L1200.0,802.6 L1202.0,802.7 L1204.0,802.8 L1206.0,803.0 L1208.0,803.1 L1210.0,803.2 L1212.0,803.3 L1214.0,803.4 L1216.0,803.5 L1218.0,803.6 L1220.0,803.7 L1222.0,803.8 L1224.0,803.8 L1226.0,803.9 L1228.0,804.0 L1230.0,804.0 L1232.0,804.1 L1234.0,804.1 L1236.0,804.1 L1238.0,804.1 L1240.0,804.1" stroke="#1763da" stroke-width="5.5"/>
<path d="M254.5,-18.7 L255.0,-5.3 L255.5,8.1 L256.0,21.5 L256.5,34.8 L257.0,48.2 L257.5,61.9 L258.0,75.6 L258.5,89.4 L259.0,103.3 L259.5,117.0 L260.0,130.5 L260.5,143.9 L261.0,156.9 L261.5,169.5 L262.0,181.7 L262.5,193.3 L263.0,204.4 L263.5,215.0 L264.0,225.2 L264.5,234.8 L265.0,243.7 L265.5,251.8 L266.0,259.6 L266.5,267.0 L267.0,274.0 L267.5,280.6 L268.0,286.7 L268.5,292.4 L269.0,297.6 L269.5,302.8 L270.0,307.8 L270.5,312.7 L271.0,317.4 L271.5,321.9 L272.0,326.2 L272.5,330.1 L273.0,333.6 L273.5,336.8 L274.0,339.5 L274.5,341.7 L275.0,343.6 L275.5,345.3 L276.0,346.9 L276.5,348.4 L277.0,349.8 L277.5,351.1 L278.0,352.3 L278.5,353.3 L279.0,354.4 L279.5,355.3 L280.0,356.2 L280.5,357.0 L281.0,357.8 L281.5,358.6 L282.0,359.4 L282.5,360.2 L283.0,361.0 L283.5,361.7 L284.0,362.4 L284.5,363.1 L285.0,363.7 L285.5,364.2 L286.0,364.6 L286.5,365.0 L287.0,365.3 L287.5,365.4 L288.0,365.5 L288.5,365.5 L289.0,365.3 L289.5,365.1 L290.0,364.8 L290.5,364.5 L291.0,364.1 L291.5,363.6 L292.0,363.1 L292.5,362.6 L293.0,362.0 L293.5,361.4 L294.0,360.7 L294.5,360.1 L295.0,359.4 L295.5,358.7 L296.0,358.0 L296.5,357.2 L297.0,356.3 L297.5,355.3 L298.0,354.2 L298.5,352.9 L299.0,351.6 L299.5,350.2 L300.0,348.8 L300.8,346.5 L301.5,344.2 L302.2,341.8 L303.0,339.5 L303.8,337.2 L304.5,335.1 L305.2,332.9 L306.0,330.8 L306.8,328.7 L307.5,326.5 L308.2,324.3 L309.0,322.1 L309.8,319.9 L310.5,317.6 L311.2,315.2 L312.0,312.8 L312.8,310.3 L313.5,307.6 L314.2,304.9 L315.0,302.0 L315.8,299.0 L316.5,295.7 L317.2,292.2 L318.0,288.5 L318.8,284.6 L319.5,280.5 L320.2,276.3 L321.0,271.9 L321.8,267.5 L322.5,263.0 L323.2,258.2 L324.0,253.0 L324.8,247.5 L325.5,242.0 L326.2,236.5 L327.0,231.5 L327.8,226.9 L328.5,222.7 L329.2,218.7 L330.0,215.1 L330.8,212.2 L331.5,209.7 L332.2,207.4 L333.0,205.8 L333.8,205.6 L334.5,206.4 L335.2,208.0 L336.0,210.3 L336.8,213.2 L337.5,219.6 L338.2,228.3 L339.0,237.1 L339.8,243.8 L340.5,249.4 L341.2,255.6 L342.0,264.0 L342.8,274.3 L343.5,284.3 L344.2,294.3 L345.0,304.1 L345.8,314.7 L346.5,326.2 L347.2,338.6 L348.0,351.6 L348.8,365.9 L349.5,380.0 L350.2,393.8 L351.0,407.1 L351.8,418.0 L352.5,425.8 L353.2,432.0 L354.0,438.2 L354.8,445.1 L355.5,452.3 L356.2,459.6 L357.0,467.0 L357.8,474.6 L358.5,482.4 L359.2,490.0 L360.0,497.3 L360.8,504.0 L361.5,510.6 L362.2,517.0 L363.0,523.2 L363.8,529.1 L364.5,534.6 L365.2,539.7 L366.0,544.4 L366.8,548.8 L367.5,553.0 L368.2,557.0 L369.0,560.8 L369.8,564.5 L370.5,568.1 L371.2,571.7 L372.0,575.3 L372.8,578.8 L373.5,582.4 L374.2,585.9 L375.0,589.4 L375.8,592.8 L376.5,596.0 L377.2,599.0 L378.0,601.9 L378.8,604.6 L379.5,607.3 L380.2,609.8 L381.0,612.2 L381.8,614.4 L382.5,616.6 L383.2,618.6 L384.0,620.5 L384.8,622.3 L385.5,624.0 L386.2,625.5 L387.0,626.9 L387.8,628.2 L388.5,629.5 L389.2,630.6 L390.0,631.6 L390.8,632.5 L391.5,633.4 L392.2,634.2 L393.0,634.9 L393.8,635.6 L394.5,636.2 L395.2,636.7 L396.0,637.1 L396.8,637.5 L397.5,637.8 L398.2,638.1 L399.0,638.5 L399.8,638.9 L400.0,639.0 L402.0,640.2 L404.0,641.5 L406.0,642.9 L408.0,644.3 L410.0,645.5 L412.0,646.6 L414.0,647.5 L416.0,648.4 L418.0,649.4 L420.0,650.5 L422.0,651.8 L424.0,653.2 L426.0,654.6 L428.0,656.1 L430.0,657.5 L432.0,658.9 L434.0,660.2 L436.0,661.5 L438.0,662.8 L440.0,664.0 L442.0,665.2 L444.0,666.3 L446.0,667.4 L448.0,668.4 L450.0,669.3 L452.0,670.2 L454.0,671.0 L456.0,671.8 L458.0,672.5 L460.0,673.1 L462.0,673.7 L464.0,674.1 L466.0,674.6 L468.0,675.1 L470.0,675.5 L472.0,676.0 L474.0,676.4 L476.0,676.9 L478.0,677.3 L480.0,677.7 L482.0,678.1 L484.0,678.4 L486.0,678.7 L488.0,679.1 L490.0,679.5 L492.0,680.0 L494.0,680.5 L496.0,681.1 L498.0,681.8 L500.0,682.5 L502.0,683.3 L504.0,684.3 L506.0,685.3 L508.0,686.4 L510.0,687.5 L512.0,688.7 L514.0,689.9 L516.0,691.2 L518.0,692.6 L520.0,694.0 L522.0,695.5 L524.0,697.2 L526.0,698.8 L528.0,700.5 L530.0,702.0 L532.0,703.5 L534.0,704.9 L536.0,706.3 L538.0,707.5 L540.0,708.5 L542.0,709.3 L544.0,710.1 L546.0,710.7 L548.0,711.2 L550.0,711.5 L552.0,711.6 L554.0,711.8 L556.0,711.9 L558.0,712.0 L560.0,712.0 L562.0,712.1 L564.0,712.1 L566.0,712.2 L568.0,712.2 L570.0,712.2 L572.0,712.2 L574.0,712.1 L576.0,712.0 L578.0,711.9 L580.0,711.7 L582.0,711.5 L584.0,711.3 L586.0,711.1 L588.0,710.9 L590.0,710.6 L592.0,710.3 L594.0,710.0 L596.0,709.7 L598.0,709.3 L600.0,709.0 L602.0,708.5 L604.0,707.8 L606.0,707.1 L608.0,706.4 L610.0,705.7 L612.0,705.2 L614.0,704.6 L616.0,704.1 L618.0,703.5 L620.0,703.0 L622.0,702.5 L624.0,702.0 L626.0,701.5 L628.0,701.1 L630.0,700.6 L632.0,700.1 L634.0,699.6 L636.0,699.2 L638.0,698.7 L640.0,698.2 L642.0,697.7 L644.0,697.2 L646.0,696.7 L648.0,696.2 L650.0,695.6 L652.0,695.0 L654.0,694.4 L656.0,693.9 L658.0,693.3 L660.0,692.7 L662.0,692.1 L664.0,691.6 L666.0,691.0 L668.0,690.5 L670.0,690.1 L672.0,689.6 L674.0,689.3 L676.0,688.9 L678.0,688.7 L680.0,688.5 L682.0,688.3 L684.0,688.1 L686.0,687.9 L688.0,687.8 L690.0,687.6 L692.0,687.5 L694.0,687.3 L696.0,687.2 L698.0,687.1 L700.0,687.0 L702.0,686.9 L704.0,686.9 L706.0,686.8 L708.0,686.7 L710.0,686.7 L712.0,686.6 L714.0,686.6 L716.0,686.6 L718.0,686.5 L720.0,686.5 L722.0,686.5 L724.0,686.4 L726.0,686.4 L728.0,686.4 L730.0,686.4 L732.0,686.4 L734.0,686.4 L736.0,686.5 L738.0,686.6 L740.0,686.6 L742.0,686.7 L744.0,686.9 L746.0,687.0 L748.0,687.1 L750.0,687.3 L752.0,687.4 L754.0,687.6 L756.0,687.8 L758.0,688.0 L760.0,688.2 L762.0,688.4 L764.0,688.6 L766.0,688.9 L768.0,689.1 L770.0,689.3 L772.0,689.6 L774.0,689.8 L776.0,690.1 L778.0,690.3 L780.0,690.6 L782.0,690.8 L784.0,691.1 L786.0,691.3 L788.0,691.6 L790.0,691.9 L792.0,692.3 L794.0,692.6 L796.0,693.0 L798.0,693.3 L800.0,693.7 L802.0,694.1 L804.0,694.5 L806.0,695.0 L808.0,695.4 L810.0,695.9 L812.0,696.3 L814.0,696.8 L816.0,697.3 L818.0,697.8 L820.0,698.3 L822.0,698.8 L824.0,699.3 L826.0,699.8 L828.0,700.4 L830.0,700.9 L832.0,701.4 L834.0,702.0 L836.0,702.5 L838.0,703.1 L840.0,703.7 L842.0,704.3 L844.0,705.0 L846.0,705.7 L848.0,706.3 L850.0,707.0 L852.0,707.8 L854.0,708.5 L856.0,709.3 L858.0,710.0 L860.0,710.8 L862.0,711.6 L864.0,712.3 L866.0,713.1 L868.0,713.9 L870.0,714.7 L872.0,715.5 L874.0,716.3 L876.0,717.1 L878.0,717.9 L880.0,718.7 L882.0,719.5 L884.0,720.3 L886.0,721.1 L888.0,721.8 L890.0,722.6 L892.0,723.4 L894.0,724.2 L896.0,725.0 L898.0,725.8 L900.0,726.6 L902.0,727.4 L904.0,728.2 L906.0,729.0 L908.0,729.8 L910.0,730.6 L912.0,731.4 L914.0,732.2 L916.0,733.0 L918.0,733.8 L920.0,734.6 L922.0,735.5 L924.0,736.3 L926.0,737.1 L928.0,737.9 L930.0,738.7 L932.0,739.5 L934.0,740.3 L936.0,741.2 L938.0,742.0 L940.0,742.9 L942.0,743.7 L944.0,744.6 L946.0,745.4 L948.0,746.3 L950.0,747.1 L952.0,748.0 L954.0,748.8 L956.0,749.6 L958.0,750.5 L960.0,751.3 L962.0,752.0 L964.0,752.8 L966.0,753.6 L968.0,754.3 L970.0,755.0 L972.0,755.7 L974.0,756.4 L976.0,757.0 L978.0,757.7 L980.0,758.3 L982.0,759.0 L984.0,759.6 L986.0,760.2 L988.0,760.9 L990.0,761.5 L992.0,762.1 L994.0,762.7 L996.0,763.3 L998.0,763.9 L1000.0,764.4 L1002.0,765.0 L1004.0,765.6 L1006.0,766.1 L1008.0,766.7 L1010.0,767.3 L1012.0,767.8 L1014.0,768.4 L1016.0,768.9 L1018.0,769.5 L1020.0,770.0 L1022.0,770.5 L1024.0,771.1 L1026.0,771.6 L1028.0,772.2 L1030.0,772.7 L1032.0,773.2 L1034.0,773.8 L1036.0,774.3 L1038.0,774.8 L1040.0,775.3 L1042.0,775.9 L1044.0,776.4 L1046.0,776.9 L1048.0,777.4 L1050.0,777.9 L1052.0,778.4 L1054.0,778.8 L1056.0,779.3 L1058.0,779.8 L1060.0,780.2 L1062.0,780.7 L1064.0,781.1 L1066.0,781.6 L1068.0,782.0 L1070.0,782.4 L1072.0,782.8 L1074.0,783.2 L1076.0,783.6 L1078.0,784.0 L1080.0,784.3 L1082.0,784.7 L1084.0,785.1 L1086.0,785.4 L1088.0,785.8 L1090.0,786.1 L1092.0,786.4 L1094.0,786.8 L1096.0,787.1 L1098.0,787.4 L1100.0,787.8 L1102.0,788.1 L1104.0,788.4 L1106.0,788.7 L1108.0,789.1 L1110.0,789.4 L1112.0,789.7 L1114.0,790.1 L1116.0,790.4 L1118.0,790.8 L1120.0,791.1 L1122.0,791.5 L1124.0,791.8 L1126.0,792.2 L1128.0,792.6 L1130.0,793.0 L1132.0,793.4 L1134.0,793.8 L1136.0,794.2 L1138.0,794.6 L1140.0,795.1 L1142.0,795.5 L1144.0,795.9 L1146.0,796.3 L1148.0,796.7 L1150.0,797.0 L1152.0,797.4 L1154.0,797.8 L1156.0,798.1 L1158.0,798.4 L1160.0,798.7 L1162.0,799.0 L1164.0,799.3 L1166.0,799.5 L1168.0,799.7 L1170.0,799.9 L1172.0,800.1 L1174.0,800.2 L1176.0,800.4 L1178.0,800.6 L1180.0,800.7 L1182.0,800.9 L1184.0,801.0 L1186.0,801.2 L1188.0,801.3 L1190.0,801.5 L1192.0,801.6 L1194.0,801.8 L1196.0,801.9 L1198.0,802.0 L1200.0,802.2 L1202.0,802.3 L1204.0,802.4 L1206.0,802.5 L1208.0,802.7 L1210.0,802.8 L1212.0,802.9 L1214.0,803.0 L1216.0,803.0 L1218.0,803.1 L1220.0,803.2 L1222.0,803.3 L1224.0,803.3 L1226.0,803.4 L1228.0,803.5 L1230.0,803.5 L1232.0,803.5 L1234.0,803.6 L1236.0,803.6 L1238.0,803.6 L1240.0,803.6" stroke="#62bb0e" stroke-width="7.0"/>
</g>
<rect x="202.5" y="32.5" width="1033.5" height="832.1" fill="none" stroke="#000" stroke-width="5.5"/>
<path d="M185.7,864.6H202.5 M185.7,725.9H202.5 M185.7,587.2H202.5 M185.7,448.5H202.5 M185.7,309.9H202.5 M185.7,171.2H202.5 M185.7,32.5H202.5 M193.6,795.3H202.5 M193.6,656.6H202.5 M193.6,517.9H202.5 M193.6,379.2H202.5 M193.6,240.5H202.5 M193.6,101.8H202.5 M705.8,864.6V880.7 M1236.0,864.6V880.7 M440.7,864.6V872.5 M970.9,864.6V872.5" stroke="#000" stroke-width="5.5" fill="none"/>
<text x="175" y="877.4" font-family="Liberation Sans, sans-serif" font-weight="bold" font-size="44.5" text-anchor="end">0.0</text>
<text x="175" y="738.7" font-family="Liberation Sans, sans-serif" font-weight="bold" font-size="44.5" text-anchor="end">0.2</text>
<text x="175" y="600.0" font-family="Liberation Sans, sans-serif" font-weight="bold" font-size="44.5" text-anchor="end">0.4</text>
<text x="175" y="461.3" font-family="Liberation Sans, sans-serif" font-weight="bold" font-size="44.5" text-anchor="end">0.6</text>
<text x="175" y="322.7" font-family="Liberation Sans, sans-serif" font-weight="bold" font-size="44.5" text-anchor="end">0.8</text>
<text x="175" y="184.0" font-family="Liberation Sans, sans-serif" font-weight="bold" font-size="44.5" text-anchor="end">1.0</text>
<text x="175" y="45.3" font-family="Liberation Sans, sans-serif" font-weight="bold" font-size="44.5" text-anchor="end">1.2</text>
<text x="704.8" y="926.5" font-family="Liberation Sans, sans-serif" font-weight="bold" font-size="44.5" text-anchor="middle">400</text>
<text x="1235.0" y="926.5" font-family="Liberation Sans, sans-serif" font-weight="bold" font-size="44.5" text-anchor="middle">600</text>
<text x="739.5" y="1012.6" font-family="Liberation Sans, sans-serif" font-weight="bold" font-size="55.5" text-anchor="middle">Wavelength (nm)</text>
<text transform="translate(64.7,412.5) rotate(-90)" font-family="Liberation Sans, sans-serif" font-weight="bold" font-size="55.5" text-anchor="middle">Absorbance (a.u.)</text>
<text x="342.4" y="184" font-family="Liberation Sans, sans-serif" font-weight="bold" font-size="52">260 nm</text>
<text x="651.7" y="644.9" font-family="Liberation Sans, sans-serif" font-weight="bold" font-size="52">400 nm</text>
<text x="1078" y="107" font-family="Liberation Sans, sans-serif" font-weight="bold" font-size="51.5">CO<tspan dy="12">2</tspan></text>
<path d="M380.5,285.6V228" stroke="#000" stroke-width="2.7"/><path d="M379.3,206L381.7,206L387.0,228L374.0,228Z" fill="#000"/>
<path d="M879.3,682.4V625.3" stroke="#000" stroke-width="2.7"/><path d="M878.0999999999999,601.3L880.5,601.3L885.8,625.3L872.8,625.3Z" fill="#000"/>
</svg></body></html>
